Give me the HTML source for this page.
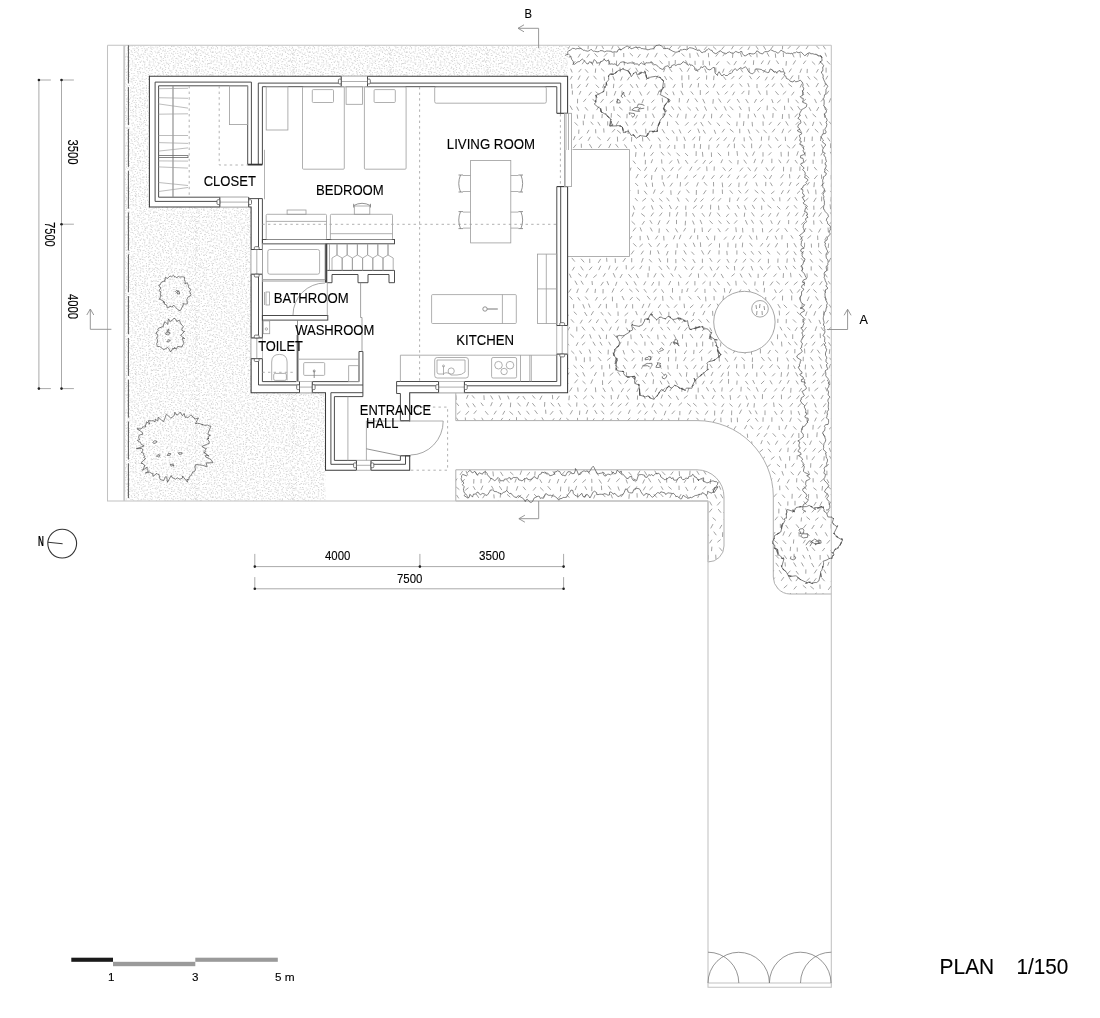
<!DOCTYPE html><html><head><meta charset="utf-8"><style>
html,body{margin:0;padding:0;background:#fff;width:1100px;height:1018px;overflow:hidden}
svg{display:block;filter:grayscale(1)}
.w{stroke:#3a3a3a;stroke-width:1.05;fill:none}
.w2{stroke:#424242;stroke-width:.95;fill:none}
.fu{stroke:#9c9c9c;stroke-width:.8;fill:none}
.fd{stroke:#777;stroke-width:.8;fill:none}
.dl{stroke:#a8a8a8;stroke-width:.9;stroke-dasharray:2.4 3.2;fill:none}
.site{stroke:#c2c2c2;stroke-width:1.05;fill:none}
.thin{stroke:#8a8a8a;stroke-width:.75;fill:none}
.edge{stroke:#ababab;stroke-width:.95;fill:none}
.tree{stroke:#474747;stroke-width:.68;fill:none;stroke-linejoin:round}
.sec{stroke:#8c8c8c;stroke-width:.9;fill:none}
.dim{stroke:#a0a0a0;stroke-width:.9;fill:none}
text{font-family:"Liberation Sans",sans-serif;fill:#000;stroke:#000;stroke-width:.12;opacity:.995}
</style></head><body>
<svg width="1100" height="1018" viewBox="0 0 1100 1018">
<defs>
<pattern id="stip" x="0" y="0" width="97" height="89" patternUnits="userSpaceOnUse"><path d="M0.3 1.5h1v1h-1zM3.5 0.8h1v1h-1zM5.6 0.1h1v1h-1zM6.9 0.2h1v1h-1zM10.9 0.3h1v1h-1zM12.7 2.1h1v1h-1zM14.4 2.2h1v1h-1zM17.7 0.7h1v1h-1zM18.3 0.7h1v1h-1zM20.7 1.3h1v1h-1zM23.3 1.2h1v1h-1zM24.9 0.5h1v1h-1zM28 0.7h1v1h-1zM30.3 0.7h1v1h-1zM33.1 0.5h1v1h-1zM34.9 2h1v1h-1zM36.6 2.2h1v1h-1zM39.2 1.7h1v1h-1zM41.6 0.1h1v1h-1zM44.5 1.3h1v1h-1zM45.7 1.6h1v1h-1zM48.6 1h1v1h-1zM51.6 1.1h1v1h-1zM51.9 1.6h1v1h-1zM56.2 1.8h1v1h-1zM57.1 1.5h1v1h-1zM59.5 0.4h1v1h-1zM60.9 1.7h1v1h-1zM63.6 0.9h1v1h-1zM65.4 1h1v1h-1zM69.5 1.8h1v1h-1zM70.4 0.9h1v1h-1zM74 2.2h1v1h-1zM74.6 0.5h1v1h-1zM77.6 1.3h1v1h-1zM78.8 0.9h1v1h-1zM82.3 2.1h1v1h-1zM84.4 1.4h1v1h-1zM85.6 2h1v1h-1zM89.7 1.8h1v1h-1zM90.9 0.2h1v1h-1zM92.4 0.2h1v1h-1zM94.9 0.8h1v1h-1zM96.8 0.3h1v1h-1zM0.8 2.3h1v1h-1zM3.6 2.6h1v1h-1zM5.3 3.1h1v1h-1zM8.7 4.5h1v1h-1zM10.1 2.4h1v1h-1zM12 2.8h1v1h-1zM13.9 2.3h1v1h-1zM16.9 2.6h1v1h-1zM18.1 3.4h1v1h-1zM22.2 3.8h1v1h-1zM23.3 2.6h1v1h-1zM25.9 4h1v1h-1zM27.5 4.1h1v1h-1zM31.2 4.1h1v1h-1zM33.2 2.8h1v1h-1zM34.6 2.3h1v1h-1zM36.6 2.8h1v1h-1zM40.4 3.3h1v1h-1zM42.7 4.4h1v1h-1zM43.2 2.8h1v1h-1zM45.5 3.7h1v1h-1zM49.1 3.3h1v1h-1zM51.3 2.4h1v1h-1zM53.8 4h1v1h-1zM55.1 2.7h1v1h-1zM57 4.1h1v1h-1zM59.4 3.2h1v1h-1zM62.4 2.6h1v1h-1zM63.3 4.3h1v1h-1zM65.6 4.1h1v1h-1zM69 3h1v1h-1zM70 2.3h1v1h-1zM73.5 3.4h1v1h-1zM75.2 4.2h1v1h-1zM77 2.8h1v1h-1zM79.3 3.6h1v1h-1zM81.9 2.5h1v1h-1zM84 3.3h1v1h-1zM87.5 3.2h1v1h-1zM88.9 3.4h1v1h-1zM90 3.2h1v1h-1zM92.3 4h1v1h-1zM95.6 3.9h1v1h-1zM0.5 3.4h1v1h-1zM1.8 4.7h1v1h-1zM2.8 5.1h1v1h-1zM5.6 5.8h1v1h-1zM8.8 5.5h1v1h-1zM10.1 5.7h1v1h-1zM12.3 5.7h1v1h-1zM15.6 6.1h1v1h-1zM17.9 5.1h1v1h-1zM20.1 6.4h1v1h-1zM20.5 5.5h1v1h-1zM23 4.7h1v1h-1zM26.5 6.5h1v1h-1zM28.6 6h1v1h-1zM31.2 6.7h1v1h-1zM33.6 5.4h1v1h-1zM36 6.4h1v1h-1zM37 5.7h1v1h-1zM38.7 5.2h1v1h-1zM40.5 5.7h1v1h-1zM42.8 5.2h1v1h-1zM46.2 4.6h1v1h-1zM49 6.7h1v1h-1zM50.1 4.6h1v1h-1zM52.4 4.8h1v1h-1zM56.1 6.3h1v1h-1zM56.6 6.6h1v1h-1zM60.1 4.7h1v1h-1zM62.3 5.5h1v1h-1zM65.1 5.9h1v1h-1zM65.4 6.4h1v1h-1zM69.4 5.5h1v1h-1zM71 6.6h1v1h-1zM72.3 5.7h1v1h-1zM74.5 4.9h1v1h-1zM77 5.2h1v1h-1zM80.5 5.2h1v1h-1zM81.4 5.3h1v1h-1zM83.8 4.5h1v1h-1zM86.7 4.9h1v1h-1zM89.9 4.7h1v1h-1zM91 5.6h1v1h-1zM93.1 5.6h1v1h-1zM96.7 5.3h1v1h-1zM1.3 5.9h1v1h-1zM0.8 6.9h1v1h-1zM2.4 8.4h1v1h-1zM4.9 6.9h1v1h-1zM8.7 8.3h1v1h-1zM9.5 7.4h1v1h-1zM11.6 7.8h1v1h-1zM15.7 8.9h1v1h-1zM16.3 8.9h1v1h-1zM18.8 6.8h1v1h-1zM21.3 7.9h1v1h-1zM23.6 6.8h1v1h-1zM25 7.6h1v1h-1zM27.1 7.4h1v1h-1zM30.6 7.9h1v1h-1zM33 8.4h1v1h-1zM34.6 7.5h1v1h-1zM36.3 8.4h1v1h-1zM38.3 8.6h1v1h-1zM41.9 8.4h1v1h-1zM43.1 7.9h1v1h-1zM46.9 8.6h1v1h-1zM48.6 8.8h1v1h-1zM51.1 7.3h1v1h-1zM52 7.6h1v1h-1zM55.9 8h1v1h-1zM57.7 8.3h1v1h-1zM58.5 8.5h1v1h-1zM61.9 8h1v1h-1zM63.1 8.4h1v1h-1zM65.4 7.3h1v1h-1zM68 8.4h1v1h-1zM70.9 7.6h1v1h-1zM73.5 8.5h1v1h-1zM75.7 6.9h1v1h-1zM77.1 8.4h1v1h-1zM80 6.8h1v1h-1zM81.6 8.3h1v1h-1zM84.8 7.4h1v1h-1zM86.5 7.8h1v1h-1zM89.8 7.2h1v1h-1zM92.1 6.8h1v1h-1zM94.1 8.9h1v1h-1zM95.1 7.2h1v1h-1zM0.2 8.1h1v1h-1zM1.2 11.1h1v1h-1zM4.1 10.1h1v1h-1zM6.1 9.5h1v1h-1zM7.8 9.1h1v1h-1zM10.1 10h1v1h-1zM11.6 9.8h1v1h-1zM15.4 9h1v1h-1zM17.6 9.3h1v1h-1zM19.6 11h1v1h-1zM21.1 9.9h1v1h-1zM23.8 9.8h1v1h-1zM25.4 9.1h1v1h-1zM28.9 9.6h1v1h-1zM29.8 9.6h1v1h-1zM31.9 9.8h1v1h-1zM35.7 10.8h1v1h-1zM38.1 11.1h1v1h-1zM39.9 9.1h1v1h-1zM41.5 10.7h1v1h-1zM43.4 9.1h1v1h-1zM45.3 10.1h1v1h-1zM47.9 10.7h1v1h-1zM50.1 10.5h1v1h-1zM53 9.9h1v1h-1zM54.4 9.5h1v1h-1zM57.4 9.5h1v1h-1zM60.7 10h1v1h-1zM61.2 9.2h1v1h-1zM63.2 9.5h1v1h-1zM66.5 11h1v1h-1zM68.4 9.9h1v1h-1zM70.6 9.8h1v1h-1zM72.6 11.2h1v1h-1zM75.4 10.4h1v1h-1zM77 9.6h1v1h-1zM79.6 10h1v1h-1zM82.9 11h1v1h-1zM83.3 10.6h1v1h-1zM86.6 10.3h1v1h-1zM88.6 11.1h1v1h-1zM91.9 11.2h1v1h-1zM92.5 9.3h1v1h-1zM96 11.1h1v1h-1zM1.2 10.7h1v1h-1zM1.2 11.3h1v1h-1zM2.8 13.3h1v1h-1zM5.2 11.5h1v1h-1zM8.2 12.8h1v1h-1zM9.2 12.4h1v1h-1zM12.1 11.8h1v1h-1zM13.5 11.9h1v1h-1zM17.9 12.7h1v1h-1zM19.1 11.8h1v1h-1zM22.4 12.8h1v1h-1zM22.5 12.4h1v1h-1zM25.7 11.8h1v1h-1zM29.1 11.8h1v1h-1zM30 12.2h1v1h-1zM31.9 13h1v1h-1zM34.9 11.7h1v1h-1zM36.7 13.1h1v1h-1zM38.7 13h1v1h-1zM42.6 12.4h1v1h-1zM43.3 12.2h1v1h-1zM47.1 11.6h1v1h-1zM47.7 13.4h1v1h-1zM49.6 11.4h1v1h-1zM53.8 13.2h1v1h-1zM56.2 13.3h1v1h-1zM56.7 13.4h1v1h-1zM58.6 12.7h1v1h-1zM61.6 12h1v1h-1zM63 11.9h1v1h-1zM67.4 11.5h1v1h-1zM68 12.1h1v1h-1zM71.6 12.2h1v1h-1zM73.1 12.1h1v1h-1zM74.7 12.1h1v1h-1zM76.6 12.2h1v1h-1zM80.5 11.3h1v1h-1zM81.1 13.3h1v1h-1zM84.9 13.3h1v1h-1zM86.1 13.4h1v1h-1zM88.3 12.9h1v1h-1zM90.6 11.3h1v1h-1zM94.3 12.7h1v1h-1zM94.6 11.8h1v1h-1zM1.9 13.4h1v1h-1zM0.6 14.5h1v1h-1zM4.3 13.9h1v1h-1zM6.2 15.4h1v1h-1zM8.1 14.2h1v1h-1zM9.8 15.3h1v1h-1zM11.7 15.2h1v1h-1zM13.6 13.6h1v1h-1zM16.5 15.7h1v1h-1zM20.2 14.1h1v1h-1zM20.5 14.6h1v1h-1zM23.5 14h1v1h-1zM26.1 15h1v1h-1zM28.9 15h1v1h-1zM31.1 14.2h1v1h-1zM32.3 15.2h1v1h-1zM34.3 14.1h1v1h-1zM38 14.8h1v1h-1zM39.1 15.7h1v1h-1zM41 15.3h1v1h-1zM45 13.7h1v1h-1zM46.8 15.4h1v1h-1zM47.3 14.2h1v1h-1zM49.9 15.7h1v1h-1zM53.8 14.3h1v1h-1zM55 14.1h1v1h-1zM58.4 13.7h1v1h-1zM59.9 14h1v1h-1zM61.1 14h1v1h-1zM64.3 15h1v1h-1zM65.3 14.2h1v1h-1zM67.9 14.2h1v1h-1zM71.5 14.7h1v1h-1zM72.2 14.4h1v1h-1zM75.7 13.7h1v1h-1zM78.1 14.4h1v1h-1zM79.4 15.6h1v1h-1zM82.3 14.3h1v1h-1zM85.2 15.7h1v1h-1zM85.9 15.1h1v1h-1zM87.8 15.5h1v1h-1zM91.8 14.4h1v1h-1zM93.3 13.9h1v1h-1zM95.7 14.9h1v1h-1zM97 14.9h1v1h-1zM1.1 16.1h1v1h-1zM3.4 17.8h1v1h-1zM5.6 17.6h1v1h-1zM7.2 16h1v1h-1zM11.2 16.8h1v1h-1zM13.3 16.6h1v1h-1zM14.9 17.6h1v1h-1zM17.5 16.2h1v1h-1zM19.9 17.6h1v1h-1zM20.7 16.6h1v1h-1zM23.4 16h1v1h-1zM26.4 17.8h1v1h-1zM28.3 17.5h1v1h-1zM31.1 16h1v1h-1zM32.7 17.2h1v1h-1zM34.7 17.1h1v1h-1zM37.5 16.8h1v1h-1zM38.3 17.1h1v1h-1zM41 17.5h1v1h-1zM43.8 16.2h1v1h-1zM45.2 16h1v1h-1zM47.5 16.7h1v1h-1zM49.6 17.2h1v1h-1zM53.4 17.5h1v1h-1zM54.1 16.9h1v1h-1zM58.4 16.1h1v1h-1zM60.7 17.4h1v1h-1zM61.2 18h1v1h-1zM65.2 17.8h1v1h-1zM67 17.8h1v1h-1zM68.3 17.5h1v1h-1zM71.8 16.4h1v1h-1zM72.3 16.9h1v1h-1zM74.7 16.3h1v1h-1zM77.2 15.8h1v1h-1zM79.1 17.9h1v1h-1zM83 16.1h1v1h-1zM83.5 16.9h1v1h-1zM86.3 17.7h1v1h-1zM89.1 17.7h1v1h-1zM92.2 17.2h1v1h-1zM94 16.3h1v1h-1zM95.8 16.6h1v1h-1zM0.7 16.1h1v1h-1zM0.1 19.8h1v1h-1zM3.7 20.2h1v1h-1zM6 18.7h1v1h-1zM6.8 18.3h1v1h-1zM10 19.2h1v1h-1zM11.5 18.5h1v1h-1zM13.6 18h1v1h-1zM16 18.8h1v1h-1zM19.3 19.3h1v1h-1zM21.7 19.1h1v1h-1zM24.6 18.5h1v1h-1zM25 19.4h1v1h-1zM28.8 18.9h1v1h-1zM29.3 19.5h1v1h-1zM32.3 19.5h1v1h-1zM35.9 19.7h1v1h-1zM38 18.1h1v1h-1zM39.2 18.5h1v1h-1zM42.3 18h1v1h-1zM44.9 18.3h1v1h-1zM46.4 19.1h1v1h-1zM49.1 18.4h1v1h-1zM50.2 18.1h1v1h-1zM53.5 19.6h1v1h-1zM55.9 19.7h1v1h-1zM57.9 19h1v1h-1zM58.7 18.5h1v1h-1zM61.5 19.7h1v1h-1zM64.9 19.6h1v1h-1zM66.5 19h1v1h-1zM68.7 18.6h1v1h-1zM71.9 18.5h1v1h-1zM72 18.6h1v1h-1zM75.9 20.1h1v1h-1zM77.2 20h1v1h-1zM79.3 20h1v1h-1zM82.6 19.5h1v1h-1zM84.3 19.9h1v1h-1zM87.4 19h1v1h-1zM89 18.7h1v1h-1zM91.4 18.2h1v1h-1zM92.6 18.1h1v1h-1zM96.6 18.8h1v1h-1zM96.8 18.1h1v1h-1zM1.4 21.8h1v1h-1zM2.4 21.6h1v1h-1zM6.3 22.1h1v1h-1zM6.9 22.2h1v1h-1zM11.1 20.5h1v1h-1zM11.5 20.3h1v1h-1zM15.3 21.7h1v1h-1zM17.2 20.9h1v1h-1zM18.2 22h1v1h-1zM21 21.2h1v1h-1zM23.1 20.9h1v1h-1zM25.6 21h1v1h-1zM28.1 22.2h1v1h-1zM29.3 21.2h1v1h-1zM33.2 21h1v1h-1zM35 20.7h1v1h-1zM36.2 22.1h1v1h-1zM38.3 20.7h1v1h-1zM42.7 20.3h1v1h-1zM43.9 22h1v1h-1zM46.1 21h1v1h-1zM47.8 22.4h1v1h-1zM50 21.8h1v1h-1zM52 21.7h1v1h-1zM55.8 21.8h1v1h-1zM57.7 21.1h1v1h-1zM59.4 22.3h1v1h-1zM62.7 20.3h1v1h-1zM63.6 22.3h1v1h-1zM66.1 22.2h1v1h-1zM68.5 21.4h1v1h-1zM71.4 21.7h1v1h-1zM72.7 20.6h1v1h-1zM75.7 21.9h1v1h-1zM77.5 22h1v1h-1zM79 21.3h1v1h-1zM81.5 20.7h1v1h-1zM84.8 22.1h1v1h-1zM85.9 20.8h1v1h-1zM88.9 20.6h1v1h-1zM90.4 22.4h1v1h-1zM92.5 22.4h1v1h-1zM95.4 22.5h1v1h-1zM1.4 21.2h1v1h-1zM1.4 22.7h1v1h-1zM3.1 22.6h1v1h-1zM6.3 24.1h1v1h-1zM8.2 23.5h1v1h-1zM10.4 23.4h1v1h-1zM13.3 23.5h1v1h-1zM15.2 23.4h1v1h-1zM17.4 24.5h1v1h-1zM19.6 24.4h1v1h-1zM21.7 23.5h1v1h-1zM23.9 22.7h1v1h-1zM26.5 24.1h1v1h-1zM27.6 23.5h1v1h-1zM30.6 23.4h1v1h-1zM33.6 22.9h1v1h-1zM35.5 23.4h1v1h-1zM38.2 22.6h1v1h-1zM38.6 24.3h1v1h-1zM41.7 22.7h1v1h-1zM44 24.1h1v1h-1zM46.4 24.4h1v1h-1zM48.2 24.6h1v1h-1zM51 23.4h1v1h-1zM52 24.7h1v1h-1zM54.1 23.1h1v1h-1zM56.3 23.4h1v1h-1zM60.1 23.3h1v1h-1zM61.3 24.2h1v1h-1zM64.2 23h1v1h-1zM66.1 23h1v1h-1zM69.2 24.3h1v1h-1zM70.8 23.8h1v1h-1zM74.2 23.3h1v1h-1zM76.1 24.3h1v1h-1zM77.2 23.7h1v1h-1zM80.6 23.3h1v1h-1zM81.6 23.3h1v1h-1zM84.2 22.9h1v1h-1zM87.1 23.1h1v1h-1zM88.4 23.6h1v1h-1zM91.4 24h1v1h-1zM94.3 24.4h1v1h-1zM96.4 24.5h1v1h-1zM0.1 24.4h1v1h-1zM0 24.8h1v1h-1zM3.7 25.3h1v1h-1zM4.8 25.3h1v1h-1zM7.5 25.1h1v1h-1zM10.8 25.1h1v1h-1zM12.6 26.5h1v1h-1zM15.5 26.5h1v1h-1zM16.2 26.3h1v1h-1zM19.7 25.7h1v1h-1zM21.5 25.3h1v1h-1zM22.8 25.9h1v1h-1zM25.8 25.1h1v1h-1zM28.1 26h1v1h-1zM29.3 26.6h1v1h-1zM32.8 26.2h1v1h-1zM34.6 25.7h1v1h-1zM36.2 26.2h1v1h-1zM38.3 26.1h1v1h-1zM42.6 25.5h1v1h-1zM43.9 25.8h1v1h-1zM45.1 26.4h1v1h-1zM48 26.7h1v1h-1zM50.6 25.9h1v1h-1zM52.2 25.7h1v1h-1zM55.2 26.6h1v1h-1zM58.1 25.7h1v1h-1zM59.1 25.9h1v1h-1zM62.2 26.5h1v1h-1zM63.7 25.4h1v1h-1zM66.7 26.5h1v1h-1zM69.1 26.7h1v1h-1zM69.9 25.4h1v1h-1zM72.4 26.8h1v1h-1zM75.7 26.5h1v1h-1zM77.9 26.1h1v1h-1zM80.3 26.1h1v1h-1zM81.5 26.3h1v1h-1zM85 25h1v1h-1zM85.6 26.5h1v1h-1zM89.2 25.6h1v1h-1zM91.8 26h1v1h-1zM92.9 25.7h1v1h-1zM95.5 26.2h1v1h-1zM96.9 26h1v1h-1zM0.3 28.8h1v1h-1zM4.3 28h1v1h-1zM5.4 28.3h1v1h-1zM9 28.1h1v1h-1zM9.2 28.5h1v1h-1zM11.6 27h1v1h-1zM15 27.3h1v1h-1zM15.9 29h1v1h-1zM18 28.6h1v1h-1zM21.9 27.4h1v1h-1zM24.2 28.6h1v1h-1zM26.4 27.2h1v1h-1zM28.6 28h1v1h-1zM29.8 29.2h1v1h-1zM31.5 27h1v1h-1zM35.6 27.2h1v1h-1zM37.6 27.4h1v1h-1zM39.3 27.1h1v1h-1zM41.8 28h1v1h-1zM43.1 28.8h1v1h-1zM46.5 28.4h1v1h-1zM48.1 28.8h1v1h-1zM51.3 28.3h1v1h-1zM51.9 29.2h1v1h-1zM55.9 27.7h1v1h-1zM58.4 28.9h1v1h-1zM59.2 28h1v1h-1zM61.6 28.5h1v1h-1zM65 28.8h1v1h-1zM65.3 27.6h1v1h-1zM68.8 28.8h1v1h-1zM69.8 28.9h1v1h-1zM74 28.3h1v1h-1zM76.2 28.8h1v1h-1zM78.6 27.8h1v1h-1zM80 28.8h1v1h-1zM82.7 29.1h1v1h-1zM84.6 28.5h1v1h-1zM86 27.6h1v1h-1zM89.5 28h1v1h-1zM91.8 28.7h1v1h-1zM93.6 29h1v1h-1zM95.7 28.1h1v1h-1zM0.2 27.4h1v1h-1zM1.6 30.1h1v1h-1zM3.2 30.4h1v1h-1zM4.6 31.5h1v1h-1zM7 30.7h1v1h-1zM9.4 30.6h1v1h-1zM12.4 29.3h1v1h-1zM15.7 31.2h1v1h-1zM17 29.8h1v1h-1zM19 31.4h1v1h-1zM22.1 31.4h1v1h-1zM22.6 29.7h1v1h-1zM24.9 29.4h1v1h-1zM29 30.3h1v1h-1zM31.3 29.4h1v1h-1zM32.4 29.5h1v1h-1zM34.3 30.5h1v1h-1zM38.2 30.8h1v1h-1zM39.3 29.6h1v1h-1zM42.7 29.7h1v1h-1zM43.3 30h1v1h-1zM47 31.1h1v1h-1zM49 30.8h1v1h-1zM51.7 29.4h1v1h-1zM53.4 31.4h1v1h-1zM54.7 30.6h1v1h-1zM56.5 30h1v1h-1zM58.8 30.3h1v1h-1zM61.3 29.6h1v1h-1zM63 30.9h1v1h-1zM65.3 31.3h1v1h-1zM69.6 31.2h1v1h-1zM70.1 30.3h1v1h-1zM74.1 31.1h1v1h-1zM75.3 30h1v1h-1zM77.6 30.7h1v1h-1zM79.2 29.4h1v1h-1zM82.2 29.6h1v1h-1zM83.8 30.2h1v1h-1zM86.1 31.1h1v1h-1zM88.1 30.4h1v1h-1zM92 29.5h1v1h-1zM92.4 31.3h1v1h-1zM95 30.3h1v1h-1zM0.3 29.7h1v1h-1zM2.2 33.7h1v1h-1zM2.5 32.2h1v1h-1zM4.6 33.1h1v1h-1zM9 31.5h1v1h-1zM9.8 31.8h1v1h-1zM13.1 32.7h1v1h-1zM14.5 33.6h1v1h-1zM17 31.8h1v1h-1zM19.7 33.1h1v1h-1zM20.4 31.7h1v1h-1zM23.6 32.1h1v1h-1zM26.1 33.1h1v1h-1zM28.3 32h1v1h-1zM30.9 32.4h1v1h-1zM31.6 33.3h1v1h-1zM35.6 33.4h1v1h-1zM36 33.5h1v1h-1zM40.2 32.1h1v1h-1zM42.4 32.3h1v1h-1zM43.6 32.8h1v1h-1zM46.2 32.5h1v1h-1zM47.5 33.1h1v1h-1zM51.4 32.2h1v1h-1zM52.6 33.2h1v1h-1zM56 33.6h1v1h-1zM57.4 32.7h1v1h-1zM58.5 33.7h1v1h-1zM61.2 31.7h1v1h-1zM64.8 31.6h1v1h-1zM66.8 31.9h1v1h-1zM68.8 32.8h1v1h-1zM71.3 31.7h1v1h-1zM73.6 31.6h1v1h-1zM75.4 32.6h1v1h-1zM76.8 32.4h1v1h-1zM80.1 33.4h1v1h-1zM82.3 33.2h1v1h-1zM85.1 33.6h1v1h-1zM86.4 33.4h1v1h-1zM88.6 33.6h1v1h-1zM90.8 32h1v1h-1zM93.2 33.7h1v1h-1zM96.6 33.3h1v1h-1zM96.9 32.7h1v1h-1zM2.1 34.3h1v1h-1zM3.7 34.6h1v1h-1zM4.7 34.7h1v1h-1zM6.8 34.1h1v1h-1zM10.7 35.9h1v1h-1zM13.1 35.7h1v1h-1zM13.6 35.2h1v1h-1zM17.3 34.4h1v1h-1zM20.1 35.1h1v1h-1zM21.4 34.7h1v1h-1zM23.1 34.4h1v1h-1zM25 35.1h1v1h-1zM28.2 34.4h1v1h-1zM30.5 34.1h1v1h-1zM31.8 34.4h1v1h-1zM34.4 34.3h1v1h-1zM37.2 35.6h1v1h-1zM39.5 35.2h1v1h-1zM42.1 34.8h1v1h-1zM44.1 34.8h1v1h-1zM45.5 34.2h1v1h-1zM48.1 35.1h1v1h-1zM50.3 35.7h1v1h-1zM53 34.9h1v1h-1zM56.2 34.4h1v1h-1zM56.6 33.9h1v1h-1zM59.5 33.9h1v1h-1zM61.7 35.4h1v1h-1zM63.5 35.9h1v1h-1zM65.6 34.5h1v1h-1zM69 35.1h1v1h-1zM71.6 34.9h1v1h-1zM73.7 35.5h1v1h-1zM76 35.3h1v1h-1zM76.8 35.7h1v1h-1zM80.5 35.1h1v1h-1zM83.2 35h1v1h-1zM85 35.7h1v1h-1zM86.4 34.8h1v1h-1zM89.4 34.4h1v1h-1zM91.2 34.6h1v1h-1zM94 35.7h1v1h-1zM95.5 34.2h1v1h-1zM0.1 35h1v1h-1zM0.2 38.1h1v1h-1zM4.1 37.9h1v1h-1zM5 37h1v1h-1zM6.8 36.1h1v1h-1zM10.1 38.1h1v1h-1zM12.5 38.2h1v1h-1zM14.7 37.5h1v1h-1zM16.6 37.3h1v1h-1zM20.1 37.5h1v1h-1zM20.5 36.8h1v1h-1zM23.8 37.3h1v1h-1zM26.9 37.1h1v1h-1zM28.4 38.2h1v1h-1zM30.4 37.8h1v1h-1zM32.2 38.2h1v1h-1zM34.9 36.2h1v1h-1zM37.6 37.8h1v1h-1zM40.2 36.9h1v1h-1zM41.2 37.2h1v1h-1zM43.2 36.4h1v1h-1zM46.4 36.8h1v1h-1zM48.7 36.1h1v1h-1zM51.3 36.7h1v1h-1zM51.8 36.7h1v1h-1zM55.3 37.5h1v1h-1zM57.4 37.2h1v1h-1zM60 37.2h1v1h-1zM62 36.9h1v1h-1zM63.4 37.7h1v1h-1zM65.5 36.4h1v1h-1zM69.4 37.4h1v1h-1zM69.9 36h1v1h-1zM72.7 37.6h1v1h-1zM74.6 36.6h1v1h-1zM78.5 37.3h1v1h-1zM79.8 36.9h1v1h-1zM83 37.3h1v1h-1zM84.2 37.4h1v1h-1zM85.6 38.1h1v1h-1zM88.5 38h1v1h-1zM90.7 37.4h1v1h-1zM93.4 38.1h1v1h-1zM95.4 37.6h1v1h-1zM0.4 38h1v1h-1zM1.8 38.8h1v1h-1zM3.1 38.7h1v1h-1zM5.2 39.5h1v1h-1zM8 39.1h1v1h-1zM9.1 38.5h1v1h-1zM12 38.8h1v1h-1zM14.1 38.8h1v1h-1zM17.2 39h1v1h-1zM19.6 38.5h1v1h-1zM22.1 38.5h1v1h-1zM24.4 40.1h1v1h-1zM25.5 39.9h1v1h-1zM29.2 38.7h1v1h-1zM30.4 38.8h1v1h-1zM31.8 39.8h1v1h-1zM35.8 39.6h1v1h-1zM36.6 39.6h1v1h-1zM40.2 38.5h1v1h-1zM41.7 38.9h1v1h-1zM43.6 39.7h1v1h-1zM45.7 39.1h1v1h-1zM47.6 40.2h1v1h-1zM51 38.5h1v1h-1zM52.6 39.4h1v1h-1zM54.1 39h1v1h-1zM56.5 39.9h1v1h-1zM59.4 40.3h1v1h-1zM62.7 40.2h1v1h-1zM63.6 38.3h1v1h-1zM66.7 39h1v1h-1zM69 39.8h1v1h-1zM71.7 39h1v1h-1zM72.4 38.5h1v1h-1zM75.9 39.9h1v1h-1zM76.6 38.6h1v1h-1zM79.4 39.1h1v1h-1zM81.7 39.7h1v1h-1zM85.1 39.5h1v1h-1zM86.1 39.2h1v1h-1zM88.5 38.3h1v1h-1zM91.7 38.9h1v1h-1zM94.2 39.6h1v1h-1zM95.1 38.5h1v1h-1zM0.2 40.3h1v1h-1zM0.2 42.1h1v1h-1zM3.9 42.4h1v1h-1zM4.7 42.6h1v1h-1zM8.8 42.1h1v1h-1zM10.9 41.9h1v1h-1zM11.4 42.1h1v1h-1zM14.7 42.6h1v1h-1zM17.5 40.6h1v1h-1zM19.8 41.1h1v1h-1zM22.4 41.9h1v1h-1zM23.1 40.6h1v1h-1zM25.7 41h1v1h-1zM27.3 42.1h1v1h-1zM29.8 41h1v1h-1zM32.5 42.6h1v1h-1zM34.4 42.5h1v1h-1zM37.3 41.3h1v1h-1zM39.5 42.2h1v1h-1zM42 41.8h1v1h-1zM44.5 42.4h1v1h-1zM45.7 41.3h1v1h-1zM47.4 41.1h1v1h-1zM51.1 41.5h1v1h-1zM52.5 41.6h1v1h-1zM54.4 40.7h1v1h-1zM58.5 42.2h1v1h-1zM60.1 42.7h1v1h-1zM61 41.6h1v1h-1zM63.4 41.7h1v1h-1zM67.3 42h1v1h-1zM69.6 42h1v1h-1zM70.3 40.8h1v1h-1zM73.7 42.4h1v1h-1zM74.7 41.9h1v1h-1zM78.6 40.9h1v1h-1zM80.6 42.2h1v1h-1zM81.4 42.4h1v1h-1zM84.1 41.7h1v1h-1zM87.4 41h1v1h-1zM89 41.9h1v1h-1zM91.6 42.5h1v1h-1zM93.4 41.6h1v1h-1zM95.2 41.8h1v1h-1zM1.3 40.9h1v1h-1zM2.2 43h1v1h-1zM3.2 43.2h1v1h-1zM4.5 44.6h1v1h-1zM8.5 43.7h1v1h-1zM10.5 43.9h1v1h-1zM12 43.7h1v1h-1zM15.4 44.8h1v1h-1zM16.4 43.7h1v1h-1zM18.8 43.2h1v1h-1zM21 43.8h1v1h-1zM24.5 44.7h1v1h-1zM26.9 44.1h1v1h-1zM27.1 44.3h1v1h-1zM29.9 44h1v1h-1zM32.6 44.2h1v1h-1zM34.5 44.7h1v1h-1zM36.4 44.3h1v1h-1zM38.4 44.2h1v1h-1zM41.8 43.7h1v1h-1zM44 43.6h1v1h-1zM45.4 44.8h1v1h-1zM47.5 44.7h1v1h-1zM49.7 43.9h1v1h-1zM52.9 44h1v1h-1zM55.3 43h1v1h-1zM57.6 42.9h1v1h-1zM58.7 43.7h1v1h-1zM62 44.4h1v1h-1zM63.3 45h1v1h-1zM65.5 44.6h1v1h-1zM67.9 44.9h1v1h-1zM71.5 43.1h1v1h-1zM72.1 43.3h1v1h-1zM74.3 44.1h1v1h-1zM77.2 44.3h1v1h-1zM80.7 44.1h1v1h-1zM82.3 44.8h1v1h-1zM83.6 44.4h1v1h-1zM87.2 44.3h1v1h-1zM88 43.6h1v1h-1zM92.1 44.4h1v1h-1zM93.6 43h1v1h-1zM96.3 43h1v1h-1zM1.3 43.3h1v1h-1zM1 46.9h1v1h-1zM2.5 45h1v1h-1zM6.3 45.4h1v1h-1zM7.4 46.5h1v1h-1zM9.3 47h1v1h-1zM12.8 46.8h1v1h-1zM13.5 45.8h1v1h-1zM16.9 47h1v1h-1zM18.1 45.4h1v1h-1zM21.8 45.9h1v1h-1zM22.9 46.9h1v1h-1zM26.7 46.4h1v1h-1zM27.7 45.5h1v1h-1zM30.6 45.1h1v1h-1zM32.3 46.1h1v1h-1zM34.6 45.8h1v1h-1zM37.3 45.8h1v1h-1zM39.3 47.2h1v1h-1zM40.8 46.5h1v1h-1zM43.4 46.1h1v1h-1zM46.3 46.2h1v1h-1zM49.5 45.1h1v1h-1zM51.2 47h1v1h-1zM53.2 46.4h1v1h-1zM54.6 46.8h1v1h-1zM58.4 46.5h1v1h-1zM60.2 46.7h1v1h-1zM62.2 45.8h1v1h-1zM63.9 45.1h1v1h-1zM66 47.2h1v1h-1zM68.3 45.5h1v1h-1zM70.5 45.3h1v1h-1zM74 46h1v1h-1zM75.5 45.7h1v1h-1zM76.6 45.7h1v1h-1zM80.4 46.2h1v1h-1zM81.8 47.1h1v1h-1zM83.4 45.4h1v1h-1zM87.7 45.8h1v1h-1zM88.7 47h1v1h-1zM91.1 47h1v1h-1zM92.8 45.1h1v1h-1zM95.1 46.6h1v1h-1zM0.6 45.5h1v1h-1zM1.9 48.7h1v1h-1zM3.9 49.4h1v1h-1zM4.7 49.1h1v1h-1zM7.5 47.6h1v1h-1zM10.2 49.2h1v1h-1zM13.3 47.7h1v1h-1zM15.2 48.7h1v1h-1zM17.3 48h1v1h-1zM18.9 47.4h1v1h-1zM21 48.4h1v1h-1zM23.1 48.3h1v1h-1zM26.8 48.5h1v1h-1zM27.1 48.6h1v1h-1zM30 47.5h1v1h-1zM31.8 49h1v1h-1zM35.6 48.2h1v1h-1zM37.3 48.5h1v1h-1zM39.6 48h1v1h-1zM41.1 48.9h1v1h-1zM44.5 47.9h1v1h-1zM47.2 48.3h1v1h-1zM48.4 49.4h1v1h-1zM49.5 48.3h1v1h-1zM53.5 48.1h1v1h-1zM54.5 49h1v1h-1zM56.3 47.6h1v1h-1zM59.6 48.5h1v1h-1zM62.9 48.1h1v1h-1zM63.4 48.9h1v1h-1zM65.6 47.3h1v1h-1zM68 49.5h1v1h-1zM71.2 48h1v1h-1zM73 48h1v1h-1zM74.5 48.9h1v1h-1zM78 48.2h1v1h-1zM78.9 48.5h1v1h-1zM83.1 49.4h1v1h-1zM83.8 47.8h1v1h-1zM86.5 47.8h1v1h-1zM89.5 48.7h1v1h-1zM92.2 47.7h1v1h-1zM92.6 49.2h1v1h-1zM95.1 48.9h1v1h-1zM0.4 48h1v1h-1zM2 49.9h1v1h-1zM3.6 50.5h1v1h-1zM6.5 50h1v1h-1zM7.6 51.3h1v1h-1zM9.4 51.4h1v1h-1zM11.9 49.6h1v1h-1zM15.7 49.5h1v1h-1zM16.1 51.2h1v1h-1zM18.4 51h1v1h-1zM21 51.6h1v1h-1zM24.5 51.7h1v1h-1zM25.3 51.3h1v1h-1zM27.1 50.6h1v1h-1zM30.2 49.7h1v1h-1zM33.7 50.2h1v1h-1zM34 50.6h1v1h-1zM37 49.9h1v1h-1zM38.6 51.2h1v1h-1zM40.8 50.3h1v1h-1zM44.8 50.3h1v1h-1zM47.2 51.5h1v1h-1zM47.9 49.9h1v1h-1zM49.7 49.6h1v1h-1zM52.7 50.8h1v1h-1zM54 51h1v1h-1zM57.5 50.7h1v1h-1zM60.7 51.5h1v1h-1zM61.6 50.2h1v1h-1zM65.2 50.4h1v1h-1zM66.2 49.8h1v1h-1zM67.5 50.9h1v1h-1zM70.3 50.9h1v1h-1zM72.5 49.9h1v1h-1zM76.1 51.3h1v1h-1zM76.6 51.1h1v1h-1zM80.2 50.7h1v1h-1zM83.2 49.5h1v1h-1zM85.2 50.6h1v1h-1zM87.7 50h1v1h-1zM89.4 50.4h1v1h-1zM90.9 50.7h1v1h-1zM93.8 50.2h1v1h-1zM95.7 50h1v1h-1zM0.3 51.5h1v1h-1zM1.6 52.9h1v1h-1zM2.7 52.1h1v1h-1zM5.7 52.9h1v1h-1zM8.6 52.3h1v1h-1zM10.8 52.8h1v1h-1zM13.1 53.8h1v1h-1zM13.6 52.6h1v1h-1zM17.6 52h1v1h-1zM18.6 52h1v1h-1zM22.1 52.9h1v1h-1zM22.7 52.6h1v1h-1zM26.3 52.8h1v1h-1zM28.8 53.5h1v1h-1zM30.8 52.6h1v1h-1zM32 52.6h1v1h-1zM34.6 51.8h1v1h-1zM37.3 51.9h1v1h-1zM39.9 52.4h1v1h-1zM41 53.6h1v1h-1zM44.2 53.7h1v1h-1zM46 53.5h1v1h-1zM48.1 51.8h1v1h-1zM50.3 53.4h1v1h-1zM52.7 53.2h1v1h-1zM54.8 52.6h1v1h-1zM58.3 52.2h1v1h-1zM60.1 52.6h1v1h-1zM61.5 51.9h1v1h-1zM63.9 52.9h1v1h-1zM67.3 53.5h1v1h-1zM68.8 52.8h1v1h-1zM71.6 52.7h1v1h-1zM74 52.7h1v1h-1zM75.4 53.6h1v1h-1zM78.2 52.7h1v1h-1zM80.3 53h1v1h-1zM82.7 52h1v1h-1zM83.4 53.6h1v1h-1zM85.7 53.4h1v1h-1zM87.9 53.3h1v1h-1zM91.1 51.9h1v1h-1zM93.2 53.1h1v1h-1zM96.3 53.7h1v1h-1zM0.5 52.9h1v1h-1zM2.2 54.6h1v1h-1zM3 54.6h1v1h-1zM5.8 55.1h1v1h-1zM6.9 54.7h1v1h-1zM10.8 55.9h1v1h-1zM11.7 54.1h1v1h-1zM14.3 55h1v1h-1zM17.1 54.8h1v1h-1zM18.5 56.1h1v1h-1zM20.4 54.7h1v1h-1zM23.4 55.3h1v1h-1zM25.4 55.8h1v1h-1zM28.6 55.8h1v1h-1zM30.3 56.1h1v1h-1zM33.5 54.1h1v1h-1zM35.2 54.1h1v1h-1zM36.2 55.3h1v1h-1zM40.3 55.3h1v1h-1zM41.6 55.5h1v1h-1zM43.4 54.5h1v1h-1zM45.3 56.1h1v1h-1zM47.5 54.2h1v1h-1zM51.6 54.9h1v1h-1zM52.3 56h1v1h-1zM54.3 54.1h1v1h-1zM56.3 55.9h1v1h-1zM59 55.3h1v1h-1zM62 54.3h1v1h-1zM63.7 55.9h1v1h-1zM67 56.2h1v1h-1zM67.6 54.9h1v1h-1zM70.3 55.2h1v1h-1zM73 55.6h1v1h-1zM75.8 54.3h1v1h-1zM76.8 56.1h1v1h-1zM80.9 55.2h1v1h-1zM81.8 55.7h1v1h-1zM85.3 54.2h1v1h-1zM87.4 55.3h1v1h-1zM87.9 54.3h1v1h-1zM92 55.9h1v1h-1zM94.3 54.1h1v1h-1zM96.7 54.8h1v1h-1zM1.2 54.1h1v1h-1zM1 56.8h1v1h-1zM2.7 58h1v1h-1zM4.7 57.5h1v1h-1zM8 58h1v1h-1zM10 56.3h1v1h-1zM11.5 57.7h1v1h-1zM14.8 57h1v1h-1zM17.2 56.6h1v1h-1zM20.1 57h1v1h-1zM22.2 57.3h1v1h-1zM22.7 58.2h1v1h-1zM25.9 57.5h1v1h-1zM28.1 56.6h1v1h-1zM30.4 57.1h1v1h-1zM32.4 56.7h1v1h-1zM34.3 58.2h1v1h-1zM38 56.3h1v1h-1zM39.3 58h1v1h-1zM42.1 56.8h1v1h-1zM43.1 56.8h1v1h-1zM45.9 57.4h1v1h-1zM49.3 56.4h1v1h-1zM50 57.6h1v1h-1zM53.3 56.4h1v1h-1zM55.3 58.5h1v1h-1zM57.6 57.8h1v1h-1zM59.3 58.1h1v1h-1zM62.8 56.3h1v1h-1zM63.9 57.2h1v1h-1zM65.8 57.9h1v1h-1zM67.8 57h1v1h-1zM70.2 56.7h1v1h-1zM74.2 58.5h1v1h-1zM75.3 57.4h1v1h-1zM78.5 57.9h1v1h-1zM79.2 57.7h1v1h-1zM82.8 56.5h1v1h-1zM84 56.6h1v1h-1zM87 57.9h1v1h-1zM89.6 58.4h1v1h-1zM91.7 58.1h1v1h-1zM93.6 57.2h1v1h-1zM96.3 58.2h1v1h-1zM1.9 57.4h1v1h-1zM0.3 60.7h1v1h-1zM2.8 60.4h1v1h-1zM4.9 59.5h1v1h-1zM7.9 60.5h1v1h-1zM10.6 59.4h1v1h-1zM13 60h1v1h-1zM15.4 59.4h1v1h-1zM17.2 60.4h1v1h-1zM19.3 60.4h1v1h-1zM20.3 59.6h1v1h-1zM22.7 60.3h1v1h-1zM26.1 59.5h1v1h-1zM27.5 59.3h1v1h-1zM30.6 59.2h1v1h-1zM32.1 60.1h1v1h-1zM35.2 60.3h1v1h-1zM37.5 58.6h1v1h-1zM38.7 59.1h1v1h-1zM41.3 59h1v1h-1zM44.1 60.5h1v1h-1zM46.1 60.7h1v1h-1zM49.5 58.9h1v1h-1zM49.9 59.7h1v1h-1zM52.1 60.6h1v1h-1zM55.8 59.1h1v1h-1zM56.5 59.7h1v1h-1zM59.7 59.3h1v1h-1zM62.8 60h1v1h-1zM64.4 59.5h1v1h-1zM66.1 60h1v1h-1zM68.3 59.7h1v1h-1zM71.8 59.6h1v1h-1zM74.2 58.6h1v1h-1zM75.8 59.8h1v1h-1zM78.2 60.5h1v1h-1zM80.4 58.6h1v1h-1zM81.3 60.6h1v1h-1zM83.6 59.8h1v1h-1zM85.6 59.4h1v1h-1zM89.2 59.1h1v1h-1zM90.7 59.7h1v1h-1zM94.5 60h1v1h-1zM96 59.4h1v1h-1zM1.3 60.1h1v1h-1zM0.4 62h1v1h-1zM4 61.5h1v1h-1zM5.7 62.7h1v1h-1zM8.4 61.1h1v1h-1zM9.1 61.4h1v1h-1zM13.4 62.9h1v1h-1zM14.2 62.9h1v1h-1zM16.5 61.7h1v1h-1zM18.6 61.6h1v1h-1zM22.4 61.4h1v1h-1zM24.5 61.8h1v1h-1zM26.2 62.5h1v1h-1zM27.3 62.5h1v1h-1zM30.5 62.3h1v1h-1zM32.1 61.6h1v1h-1zM34.9 61.4h1v1h-1zM36.6 62.5h1v1h-1zM40.1 62h1v1h-1zM42.6 61.3h1v1h-1zM42.9 62h1v1h-1zM46.5 61.7h1v1h-1zM47.5 61.4h1v1h-1zM51.7 62.2h1v1h-1zM53.5 61.6h1v1h-1zM55.7 61.5h1v1h-1zM58.1 61.5h1v1h-1zM60.5 61.9h1v1h-1zM62.3 62.8h1v1h-1zM63.8 60.9h1v1h-1zM66.4 62.7h1v1h-1zM68.8 61.7h1v1h-1zM70.4 62.7h1v1h-1zM73.9 61.1h1v1h-1zM75.9 61.9h1v1h-1zM78.5 62.4h1v1h-1zM80.2 62.7h1v1h-1zM82.6 62.3h1v1h-1zM83.9 60.9h1v1h-1zM87.4 61.4h1v1h-1zM88.3 61h1v1h-1zM92.2 62.6h1v1h-1zM93.8 60.9h1v1h-1zM95.2 60.8h1v1h-1zM0.1 61.4h1v1h-1zM1 64.2h1v1h-1zM2.3 64.9h1v1h-1zM5 64.4h1v1h-1zM7.5 64.3h1v1h-1zM10.8 63.5h1v1h-1zM13.1 64.2h1v1h-1zM15.3 63.1h1v1h-1zM16.7 63.1h1v1h-1zM19.6 64.3h1v1h-1zM21.4 64.3h1v1h-1zM24.5 65.2h1v1h-1zM26.9 63.7h1v1h-1zM27.2 64.1h1v1h-1zM30.3 64.5h1v1h-1zM32.5 63.8h1v1h-1zM34.7 63.6h1v1h-1zM37.7 64.2h1v1h-1zM38.7 64.6h1v1h-1zM41.1 64.3h1v1h-1zM44.9 64.7h1v1h-1zM47.1 64.6h1v1h-1zM47.4 63.5h1v1h-1zM51.4 64.6h1v1h-1zM52.3 63.8h1v1h-1zM55.4 65.2h1v1h-1zM56.3 63.4h1v1h-1zM60.5 64.8h1v1h-1zM61 63.2h1v1h-1zM64.7 64.1h1v1h-1zM67.3 64.8h1v1h-1zM69.3 63.3h1v1h-1zM71 64.1h1v1h-1zM72.6 63h1v1h-1zM75.8 65.1h1v1h-1zM77.5 64.6h1v1h-1zM80.6 64.9h1v1h-1zM81 63.5h1v1h-1zM84.1 63h1v1h-1zM87.3 64h1v1h-1zM89.8 64.2h1v1h-1zM90.7 64.4h1v1h-1zM93.3 64.4h1v1h-1zM95 65h1v1h-1zM97 64.3h1v1h-1zM0.4 66.3h1v1h-1zM3.7 66.8h1v1h-1zM4.7 66.9h1v1h-1zM7.8 66.2h1v1h-1zM10.6 65.8h1v1h-1zM12.8 66.3h1v1h-1zM15.5 66.6h1v1h-1zM16.3 67.5h1v1h-1zM18.9 67h1v1h-1zM21.7 66.9h1v1h-1zM22.7 67.4h1v1h-1zM24.8 65.4h1v1h-1zM29.1 65.7h1v1h-1zM31.3 66.7h1v1h-1zM32.1 65.6h1v1h-1zM35.5 65.5h1v1h-1zM37.6 65.7h1v1h-1zM38.6 66.4h1v1h-1zM42.3 67.3h1v1h-1zM42.8 67.2h1v1h-1zM46.8 66.4h1v1h-1zM48.6 67h1v1h-1zM49.6 66.5h1v1h-1zM52.6 65.3h1v1h-1zM54.1 67.1h1v1h-1zM57.3 65.5h1v1h-1zM59 66.2h1v1h-1zM62.9 66.5h1v1h-1zM63.2 66.9h1v1h-1zM67.2 65.5h1v1h-1zM68.2 67h1v1h-1zM71.1 67.5h1v1h-1zM72 65.4h1v1h-1zM75.8 66.6h1v1h-1zM77.5 66.2h1v1h-1zM80.2 67.3h1v1h-1zM82.8 67.3h1v1h-1zM84.9 65.3h1v1h-1zM87.4 66.2h1v1h-1zM88.2 67.4h1v1h-1zM91.6 65.8h1v1h-1zM93 66h1v1h-1zM95.5 67.5h1v1h-1zM1.8 67h1v1h-1zM2.2 69.2h1v1h-1zM2.8 68.4h1v1h-1zM5 69.5h1v1h-1zM7.5 69.2h1v1h-1zM11 69.3h1v1h-1zM11.5 69.4h1v1h-1zM14.9 68.3h1v1h-1zM17.9 67.9h1v1h-1zM19.5 68.7h1v1h-1zM21.2 69.6h1v1h-1zM24.7 67.7h1v1h-1zM25.4 69.5h1v1h-1zM27.6 69.1h1v1h-1zM29.6 68.5h1v1h-1zM33.1 69.2h1v1h-1zM34.3 68.1h1v1h-1zM37.6 68h1v1h-1zM40.4 68.9h1v1h-1zM42 68.8h1v1h-1zM43.4 67.6h1v1h-1zM45 68.3h1v1h-1zM47.5 68.6h1v1h-1zM51 68.1h1v1h-1zM52.2 67.7h1v1h-1zM54.9 69.1h1v1h-1zM57.9 67.7h1v1h-1zM59.3 69.4h1v1h-1zM62.6 68h1v1h-1zM64.8 69h1v1h-1zM65.3 67.9h1v1h-1zM67.9 69h1v1h-1zM71.2 67.9h1v1h-1zM72.2 69.7h1v1h-1zM75.7 68.8h1v1h-1zM76.6 67.5h1v1h-1zM79 69.7h1v1h-1zM82.6 67.8h1v1h-1zM83.8 68.3h1v1h-1zM85.8 68.1h1v1h-1zM88.4 68.4h1v1h-1zM90.5 67.9h1v1h-1zM93.1 68.3h1v1h-1zM95.6 69.5h1v1h-1zM1.2 69.4h1v1h-1zM0.1 70.7h1v1h-1zM3.3 71.4h1v1h-1zM4.8 70.8h1v1h-1zM7.3 70.7h1v1h-1zM9.2 70.6h1v1h-1zM13.4 71h1v1h-1zM14 71.4h1v1h-1zM17.7 71.9h1v1h-1zM18.2 71.9h1v1h-1zM20.8 70.1h1v1h-1zM23 69.9h1v1h-1zM26.8 70.8h1v1h-1zM27.2 70.8h1v1h-1zM29.7 71.2h1v1h-1zM31.8 72h1v1h-1zM34.2 69.8h1v1h-1zM37.2 69.8h1v1h-1zM39.9 71h1v1h-1zM41.6 71.1h1v1h-1zM43.1 71.6h1v1h-1zM46.7 71.7h1v1h-1zM49.3 70.2h1v1h-1zM50.8 71.8h1v1h-1zM52.2 69.8h1v1h-1zM54.3 70.2h1v1h-1zM57.6 71.9h1v1h-1zM60 69.8h1v1h-1zM61.3 70.8h1v1h-1zM65.1 70.9h1v1h-1zM66.6 70.2h1v1h-1zM68 72h1v1h-1zM70.3 71.9h1v1h-1zM72.9 70.5h1v1h-1zM74.3 70.6h1v1h-1zM78.4 69.8h1v1h-1zM79.3 70.8h1v1h-1zM82.6 70.1h1v1h-1zM83.5 71.9h1v1h-1zM85.8 70.9h1v1h-1zM89.7 69.9h1v1h-1zM90.4 71.1h1v1h-1zM93.2 71.7h1v1h-1zM96.4 71.9h1v1h-1zM1.9 70.7h1v1h-1zM2.1 72.2h1v1h-1zM2.9 72.7h1v1h-1zM6.5 72.9h1v1h-1zM8.7 73.8h1v1h-1zM10.2 72.3h1v1h-1zM12.7 73.3h1v1h-1zM15.5 74.2h1v1h-1zM15.9 74h1v1h-1zM18.4 73.6h1v1h-1zM20.8 72.8h1v1h-1zM24 72.2h1v1h-1zM26.2 73.1h1v1h-1zM28.8 72h1v1h-1zM30.8 73.6h1v1h-1zM31.9 74.2h1v1h-1zM34.3 73h1v1h-1zM36.5 72.9h1v1h-1zM40.3 72.5h1v1h-1zM41.3 73.5h1v1h-1zM43 72.5h1v1h-1zM45.6 72.1h1v1h-1zM48.2 72.9h1v1h-1zM50.8 74.1h1v1h-1zM52.6 73.6h1v1h-1zM54.4 73.1h1v1h-1zM57.8 72.4h1v1h-1zM60.7 73.7h1v1h-1zM62.2 73.4h1v1h-1zM65.2 72.4h1v1h-1zM65.9 72.6h1v1h-1zM68.9 73.9h1v1h-1zM71.1 72.4h1v1h-1zM73.2 73.6h1v1h-1zM74.4 72h1v1h-1zM78.1 72h1v1h-1zM79.3 73.6h1v1h-1zM81 72.3h1v1h-1zM85.4 72.3h1v1h-1zM86.7 72.7h1v1h-1zM88.8 72.6h1v1h-1zM90.2 72.4h1v1h-1zM93.7 73.6h1v1h-1zM96.3 73.6h1v1h-1zM0.9 72.4h1v1h-1zM1.3 74.4h1v1h-1zM3.8 75.1h1v1h-1zM5 76h1v1h-1zM7 75.6h1v1h-1zM10.6 76.1h1v1h-1zM11.8 74.5h1v1h-1zM14.8 74.6h1v1h-1zM17.1 74.5h1v1h-1zM18.5 74.8h1v1h-1zM21.4 75.9h1v1h-1zM24.1 74.7h1v1h-1zM26.2 75.8h1v1h-1zM29 74.7h1v1h-1zM30.7 74.8h1v1h-1zM32 76h1v1h-1zM35.4 76.4h1v1h-1zM36.7 75h1v1h-1zM38.4 75.6h1v1h-1zM40.6 75.4h1v1h-1zM44.8 76.2h1v1h-1zM45.4 74.5h1v1h-1zM48.4 75.1h1v1h-1zM50.7 76h1v1h-1zM51.9 75.1h1v1h-1zM54.6 75.8h1v1h-1zM57 75.3h1v1h-1zM60.2 75.1h1v1h-1zM62.8 76.4h1v1h-1zM63.2 75.3h1v1h-1zM65.9 74.3h1v1h-1zM69.5 74.5h1v1h-1zM71.1 74.9h1v1h-1zM73.7 76h1v1h-1zM74.4 75.1h1v1h-1zM78.7 74.4h1v1h-1zM80.5 74.6h1v1h-1zM81.2 74.6h1v1h-1zM85.1 74.6h1v1h-1zM87.2 75.2h1v1h-1zM88 74.8h1v1h-1zM90.3 74.8h1v1h-1zM94.3 76.3h1v1h-1zM96.7 75.6h1v1h-1zM0.8 75.9h1v1h-1zM0.3 76.9h1v1h-1zM2.5 78.3h1v1h-1zM5.1 77.1h1v1h-1zM9 76.8h1v1h-1zM9.7 76.9h1v1h-1zM12 76.9h1v1h-1zM15.3 78.4h1v1h-1zM15.8 78.2h1v1h-1zM20 78.6h1v1h-1zM22.2 78.3h1v1h-1zM23.3 77.3h1v1h-1zM25.6 76.7h1v1h-1zM29 77.4h1v1h-1zM31.2 78.2h1v1h-1zM33.6 78.3h1v1h-1zM35.4 78.2h1v1h-1zM36.6 78h1v1h-1zM40.1 76.8h1v1h-1zM41.3 78.3h1v1h-1zM44.6 78.4h1v1h-1zM45.3 78.6h1v1h-1zM48.8 78h1v1h-1zM51.5 77.7h1v1h-1zM52.5 78.3h1v1h-1zM56 77h1v1h-1zM56.8 76.7h1v1h-1zM58.6 78.3h1v1h-1zM60.9 76.7h1v1h-1zM63.4 77.5h1v1h-1zM67.1 78.6h1v1h-1zM68.9 78.5h1v1h-1zM71.8 78.2h1v1h-1zM74 77.8h1v1h-1zM75.6 78.4h1v1h-1zM77.6 77.4h1v1h-1zM80.2 77h1v1h-1zM81.8 78.7h1v1h-1zM83.5 78.6h1v1h-1zM86.8 77.5h1v1h-1zM88.7 76.7h1v1h-1zM91.8 78.3h1v1h-1zM92.8 78.2h1v1h-1zM95 78.5h1v1h-1zM0.7 77.4h1v1h-1zM2.1 79.2h1v1h-1zM3 80.4h1v1h-1zM5.7 79.9h1v1h-1zM7.1 80.9h1v1h-1zM10.3 80.5h1v1h-1zM13.3 80h1v1h-1zM15.5 79.6h1v1h-1zM16.2 78.8h1v1h-1zM20 80.8h1v1h-1zM21.4 80.8h1v1h-1zM22.8 80.2h1v1h-1zM25.7 80.1h1v1h-1zM27.6 79.7h1v1h-1zM30.3 79h1v1h-1zM32.3 80.4h1v1h-1zM34.3 79.3h1v1h-1zM36.4 80.1h1v1h-1zM38.7 80.1h1v1h-1zM42.2 80.4h1v1h-1zM43.4 80.6h1v1h-1zM45.1 80.9h1v1h-1zM47.4 78.9h1v1h-1zM51 79.1h1v1h-1zM53.2 81h1v1h-1zM55.7 79.3h1v1h-1zM56.6 79.7h1v1h-1zM59.2 79.1h1v1h-1zM60.9 79.2h1v1h-1zM64.1 79.2h1v1h-1zM66.2 80.9h1v1h-1zM69.6 79.8h1v1h-1zM71.1 79.1h1v1h-1zM72.2 80.3h1v1h-1zM75.2 79.5h1v1h-1zM77.3 80.3h1v1h-1zM79.1 80.7h1v1h-1zM81 80.7h1v1h-1zM84 80.2h1v1h-1zM86.4 79.7h1v1h-1zM89 80.2h1v1h-1zM92.1 79.1h1v1h-1zM94.2 80.5h1v1h-1zM96 79.5h1v1h-1zM1 79.7h1v1h-1zM0.3 83h1v1h-1zM2.3 81.7h1v1h-1zM5.6 81.8h1v1h-1zM7.5 82.2h1v1h-1zM10.4 82.1h1v1h-1zM12.1 82.4h1v1h-1zM14.1 81.8h1v1h-1zM16.6 83.1h1v1h-1zM18.6 81.7h1v1h-1zM20.6 82.6h1v1h-1zM22.9 81.1h1v1h-1zM25.1 81.5h1v1h-1zM27.6 82.7h1v1h-1zM31.3 83.1h1v1h-1zM33.6 81.2h1v1h-1zM34.7 81.4h1v1h-1zM37.9 81.9h1v1h-1zM40.2 82.7h1v1h-1zM42.7 81.1h1v1h-1zM43 81h1v1h-1zM46.4 81.3h1v1h-1zM47.7 82.4h1v1h-1zM51.7 81.8h1v1h-1zM52.7 81.9h1v1h-1zM54.5 83.2h1v1h-1zM57.8 81.4h1v1h-1zM58.8 81.8h1v1h-1zM60.9 82.2h1v1h-1zM63.1 82h1v1h-1zM66.5 82h1v1h-1zM68.9 81.8h1v1h-1zM71.9 82.9h1v1h-1zM73.3 81.3h1v1h-1zM75.1 82.6h1v1h-1zM78.3 82.8h1v1h-1zM78.8 82.8h1v1h-1zM82.5 82.3h1v1h-1zM84.2 83.2h1v1h-1zM87.6 82.4h1v1h-1zM88.6 81.6h1v1h-1zM91.8 82.8h1v1h-1zM94.5 82.5h1v1h-1zM96.2 81.6h1v1h-1zM0.1 82.9h1v1h-1zM0.6 85.3h1v1h-1zM4.3 85h1v1h-1zM6.2 84.5h1v1h-1zM8.1 84.2h1v1h-1zM9.2 85h1v1h-1zM11.9 83.5h1v1h-1zM14.5 84.9h1v1h-1zM17.4 84.7h1v1h-1zM19.1 84.9h1v1h-1zM21.7 83.9h1v1h-1zM24.6 85.4h1v1h-1zM25.7 84.5h1v1h-1zM28.7 84.3h1v1h-1zM30.2 85.4h1v1h-1zM31.8 84.9h1v1h-1zM35.3 83.4h1v1h-1zM37.2 84.9h1v1h-1zM39.7 84.1h1v1h-1zM42.3 83.3h1v1h-1zM42.9 85.2h1v1h-1zM45.1 84.3h1v1h-1zM48.9 84.9h1v1h-1zM51.6 83.7h1v1h-1zM53.6 83.5h1v1h-1zM55.1 84h1v1h-1zM58.3 84.3h1v1h-1zM59.1 85.3h1v1h-1zM62.8 84.6h1v1h-1zM64.7 84.7h1v1h-1zM67.2 84.2h1v1h-1zM69.6 85.1h1v1h-1zM71.4 83.8h1v1h-1zM73.9 85.4h1v1h-1zM74.6 84.8h1v1h-1zM77.4 83.6h1v1h-1zM79.8 84.4h1v1h-1zM81.8 84.5h1v1h-1zM84.6 83.6h1v1h-1zM86.3 85.4h1v1h-1zM88.1 84.6h1v1h-1zM90.9 84.5h1v1h-1zM92.3 83.7h1v1h-1zM95.1 84.7h1v1h-1zM1.9 84.8h1v1h-1zM2.1 86.9h1v1h-1zM4.2 87h1v1h-1zM5.9 86.2h1v1h-1zM7.3 87.7h1v1h-1zM9 86.7h1v1h-1zM12.4 85.8h1v1h-1zM15 87h1v1h-1zM18 87h1v1h-1zM18 85.6h1v1h-1zM22.4 86.2h1v1h-1zM22.5 86.4h1v1h-1zM26.1 87.4h1v1h-1zM27.5 85.9h1v1h-1zM29.5 87.6h1v1h-1zM33.5 86.7h1v1h-1zM35.9 86.4h1v1h-1zM36.2 87.4h1v1h-1zM38.5 87.2h1v1h-1zM40.8 86.3h1v1h-1zM44.9 87.7h1v1h-1zM46.4 87h1v1h-1zM48.9 86.7h1v1h-1zM51.5 86.1h1v1h-1zM52.1 85.8h1v1h-1zM55.8 85.9h1v1h-1zM57.5 86.8h1v1h-1zM59.7 85.5h1v1h-1zM61.7 86h1v1h-1zM63.5 87.4h1v1h-1zM65.5 86.6h1v1h-1zM68.3 87.2h1v1h-1zM71.3 87.4h1v1h-1zM73.1 87.6h1v1h-1zM74.7 85.7h1v1h-1zM77.2 85.7h1v1h-1zM79.7 86.2h1v1h-1zM83.1 86h1v1h-1zM83.9 86.2h1v1h-1zM87.1 86.5h1v1h-1zM87.9 85.8h1v1h-1zM91.5 85.9h1v1h-1zM92.4 86.6h1v1h-1zM94.7 87.2h1v1h-1zM0.9 85.9h1v1h-1zM1 0.2h1v1h-1zM4.3 87.8h1v1h-1zM5.4 88.2h1v1h-1zM8.3 1h1v1h-1zM9.6 0.3h1v1h-1zM12.2 0.3h1v1h-1zM13.9 87.9h1v1h-1zM18 0.8h1v1h-1zM19.1 88.8h1v1h-1zM21.8 88.9h1v1h-1zM23.2 0.9h1v1h-1zM25.8 88.1h1v1h-1zM27.3 0.3h1v1h-1zM30.6 0.9h1v1h-1zM33.1 0.6h1v1h-1zM34.5 87.9h1v1h-1zM37.6 88.5h1v1h-1zM39.1 0.4h1v1h-1zM42.7 88.7h1v1h-1zM43 0.4h1v1h-1zM46.4 88.1h1v1h-1zM48.9 88h1v1h-1zM51 87.8h1v1h-1zM52.5 0.7h1v1h-1zM54.7 0.8h1v1h-1zM58.2 0.1h1v1h-1zM59.9 0.9h1v1h-1zM61.2 88.9h1v1h-1zM63.8 88.6h1v1h-1zM66.6 88.3h1v1h-1zM68.6 88.9h1v1h-1zM71.2 88.2h1v1h-1zM72.6 0.5h1v1h-1zM76 88.9h1v1h-1zM78.6 88.9h1v1h-1zM79.4 88.7h1v1h-1zM82.8 88.8h1v1h-1zM83.7 88.8h1v1h-1zM86.2 88.6h1v1h-1zM89.4 88.2h1v1h-1zM91.8 0.2h1v1h-1zM93.7 0.3h1v1h-1zM94.6 88.6h1v1h-1zM1.9 88.9h1v1h-1z" fill="#d5d5d5"/></pattern>
<clipPath id="gclip"><path d="M567.6 45.5 L831.3 45.5 L831.3 594 L790 594 A17 17 0 0 1 773.3 577 L773.3 496 A76 76 0 0 0 697 420.6 L455.8 420.6 L455.8 392.7 L567.6 392.7 L567.6 256.5 L629.5 256.5 L629.5 149.5 L567.6 149.5 Z"/><path d="M455.8 469.8 L697 469.8 A27 27 0 0 1 724 497 L724 546 A16 16 0 0 1 708 562 L708 501 L455.8 501 Z"/></clipPath>
</defs>
<rect width="1100" height="1018" fill="#fff"/>
<path d="M124 45.5 L568 45.5 L568 76.3 L149.4 76.3 L149.4 206.9 L251.1 206.9 L251.1 392.7 L325.5 392.7 L325.5 501 L124 501Z" fill="url(#stip)"/>
<g clip-path="url(#gclip)"><path d="M456 38.6L458.4 42.3M464.9 38.2L464.9 42.5M471.8 37.6L472.2 42.4M483.7 38.3L481.1 41.5M488.9 38.3L491.4 42.3M499.1 37.6L499.5 41.9M504.5 38.7L506.9 42.1M513.2 37.9L515.7 42.1M523.2 37.5L523.5 41.6M531.6 37.4L531.7 41.6M538.4 38.3L539.9 42.1M548.7 38.6L551.1 42.4M557.9 37.5L558 42M566 37.8L568.7 41M573.1 38L575.1 41.7M583.4 37.9L581.9 41.8M592 37.6L592 42.1M598.2 38.5L601 41.4M608.2 37.8L610.3 42M619.8 38.2L616.8 42M625.4 38.8L629.1 41.9M633.8 38.1L633.4 42.9M642.9 37.6L640.5 41.1M652 37.8L651.7 42.3M660.3 38.1L656.7 41.3M666.8 37.9L668.7 41.7M676.2 38.5L678.9 41.8M686.8 37.8L686.7 42.6M692.1 38.2L694.2 41.6M705.4 38.1L702.2 41.1M708.3 38.6L711.4 42.2M721.7 37.5L718.7 41.3M726.6 38.6L730 41.9M736.2 37.3L736.4 41.5M744.1 37.5L746.2 41.5M756.1 38.3L752.7 41.1M763.3 37.8L760.8 41.1M770.6 38.4L772.8 42.4M779.4 37.6L779.6 41.9M787 38.6L787.1 42.7M797.5 37.8L794.6 40.9M807.1 38.1L803.5 41M810.1 37.7L813.5 41.1M819 38.9L821.5 42.2M829.2 38.5L829.3 42.6M838.5 37.9L835.7 41.6M448.8 46.4L450.8 50.1M461.9 46.4L459.3 49.6M468 45.5L470.2 49.8M477 45.8L474.7 49.5M485.3 46.3L482.3 50.2M494.5 45.4L492 48.8M499.6 46.5L502.1 50M509 46.1L511.3 49.5M520.2 46.4L517.3 50M528.8 45.6L525.2 48.8M535.3 45.5L537.2 49M542 46.1L545.1 49.5M553.7 45.2L554 49.5M563.8 45.4L560.6 48.7M569.7 46.3L567.4 49.7M578.1 45.9L581.4 49.2M588.3 45.1L588 49.2M597.3 45.3L595.7 49.4M601.6 45.3L603.6 49M613.5 45L611.5 49.3M617.8 46.2L620.5 50.2M631.2 45.2L628.2 48.9M635.8 46.3L638.5 49.5M645.5 45L646 49.1M654.3 45L653.9 49.5M663.5 45.3L665.6 49M672 45.8L668.8 49.4M680.7 45.6L678 48.9M687.2 45.1L687.1 49.6M694.6 45.2L696.9 49.3M706.8 46.5L704.1 49.9M713 46.5L716.3 49.6M724.2 46.3L721.5 49.7M733.6 45.7L731.4 49.3M742.6 46.7L739.7 49.6M749.8 46.4L747.9 49.9M756 46.1L758.3 49.5M763.5 46L765.7 49.8M773.4 45.6L770.9 49.1M782.7 45.3L782.4 49.4M790.7 45.8L787.9 48.8M799.5 46L796.4 49.6M808.6 45.2L806 49.1M815.9 45.3L819.2 48.9M823.2 45.8L825.5 49.3M834.6 46L831.8 49.8M449.5 52.8L452.7 56.4M459 53.1L460.5 57M470.5 53.3L468.4 56.9M478 52.8L478.1 57.4M485.8 54.4L488.8 57.1M497.6 52.7L494.9 56.6M503.1 53.5L505.7 56.5M511.9 53.1L511.9 57.7M520.3 53.1L517.7 56.7M527.3 54L529.2 57.7M538.1 53.1L539.5 57M544.3 53.4L547 57.2M553.6 53.2L553.7 57.2M564.4 53.4L561 56.5M568.6 54L571.5 57.2M580.4 53.8L578.1 57.5M589.4 53.9L586.8 57.6M594.5 53.4L597.6 56.9M607.3 53.1L604.1 56.5M614.1 52.3L614 56.9M623.7 53L623.8 57.1M629.8 53.1L633 56.2M640.4 54L637.8 57.5M648.5 53.4L646.4 57.5M657.3 52.9L654.8 57.2M664.5 54.3L667.1 57.5M675.5 52.8L672.4 56.4M681.6 53.4L684.6 56.4M689.8 53.3L690.1 57.9M696.9 52.7L698.8 56.7M708.4 53.1L708.6 57.3M718.3 53.3L715.7 56.6M725.4 52.8L722.7 56.2M732.9 53L732.5 57.8M740.3 52.7L741.9 57M748.9 53.5L751.3 56.9M756.8 53.3L757.1 57.4M766.9 52.5L769.1 56.6M775.3 53.4L775.7 57.8M783.3 52.5L783.5 57M792.4 53.5L794.1 57.3M800 53.3L800.4 57.6M809.1 53.1L807.1 56.8M816 53.6L819.3 56.9M825 52.7L826.5 56.6M835.8 53.4L835.5 57.5M453.3 61.1L456.1 64M465.4 61.2L465.1 65.3M470.9 60.6L474.2 63.6M479.7 60.2L480 64.7M487.4 61.1L490.2 64M499.3 59.7L499.5 64.6M506 60.2L505.5 64.9M514.5 61.7L518.1 65M523.8 60.7L525.7 65.2M532.6 60.4L532.6 64.9M540.6 60.2L538.2 64.3M550 60.7L550.2 65.1M560.1 61.5L557 65.1M566.5 60.1L566.9 64.9M575.3 61.2L572.4 64.7M584.9 60.2L582.1 64.2M590.8 61.4L593 65.4M600.9 61.1L599 65.6M609.8 60.9L608.4 64.7M616.6 60.6L616.4 65.4M624.1 61.1L624.4 65.3M632 61.3L634.8 65M643.1 61L645.3 65.4M650.7 61.5L653.4 65.4M659.6 60.6L662.6 64M669 61.1L669.1 65.8M675.3 60L675.2 64.5M685.5 60.3L687.6 64.1M695 60.8L695.1 64.9M703.1 60.4L703.1 65.2M709.3 61.2L709.6 65.4M719.1 61.5L716.1 65.1M727.2 61.4L729.9 64.5M736.5 61.1L733.9 65.1M746 60.8L743.7 64.2M753.7 60.3L753.4 64.9M763.4 60.5L761.1 64.1M769.9 60.4L767.9 64.6M776.4 60.5L778.7 64M786.4 61.1L786 65.7M795.6 60.4L793.1 64.5M805.8 60.6L803.3 63.9M811.9 61.5L815.2 64.7M821.2 60.9L818.7 64.4M826.8 60.9L830.1 64.5M839.7 61.1L837.5 64.5M450.9 68.7L448.3 72M459.3 68.5L457.2 72.3M470.8 68.3L468.3 72.5M477.6 68.9L474.4 72.3M487.6 69L485.2 72.3M494.2 68.8L491.7 72.9M502.5 68.1L504.2 72.6M512.2 68.9L509.7 72.9M516.7 68.7L519.9 72.2M524.8 69.3L528.4 72.2M536.9 68.2L536.4 73.1M545 68.4L542.2 72.1M554.8 68.7L552.4 72M559 68.4L561.2 72.5M570.6 68.7L572.2 72.5M581.3 68.9L578.6 72.2M585.2 69.4L588.1 72.8M595.7 68.5L595.3 72.8M601 68.5L604.3 71.5M612.5 68.4L612.7 72.5M619.9 67.5L620.3 72.2M630.5 68.3L627.3 71.3M635.7 67.8L638 71.8M645.3 68.8L648.6 71.4M653.1 68.4L656.8 71.5M665.2 67.7L663.5 72.1M669.3 68.3L672 71.9M679.7 67.9L682.2 71.7M689.6 67.7L687.2 71.7M695.6 68.1L698.1 72M704.6 68.6L706.4 72.9M715.8 67.5L715.9 72.2M724.1 68.7L722.5 72.7M732 69.3L729.1 72.3M740.3 68.4L742.8 72.3M749.1 67.9L749.2 72.3M756.6 68.8L758.9 72.5M765.7 69.3L763.3 72.6M772.1 69.3L774.6 72.7M782.5 68L784 71.8M791.4 68.6L789 72.3M801.6 68.7L799.9 72.8M807.3 68.9L807.1 73.1M818.4 69.1L816.4 72.6M826.1 67.7L826.1 72.6M833.3 68.4L831.4 72M449.2 76.6L452.3 79.6M460.2 76L460 80.9M467.8 76.4L471.2 79.8M476.3 75.6L476.1 79.8M486.4 76.1L483 79.1M493.7 76.3L496.5 79.3M504.4 76L501.7 79.2M513 75.6L510.4 79.1M520.7 76.6L518.4 80.5M527.9 75.7L530.4 79.2M536.6 76.1L533.7 79.8M542 76.3L545 79.7M553.2 75.9L556.7 79M562.5 75.1L562.2 79.8M572.3 76L570.2 79.5M580.2 75.6L578.1 79.8M588.7 76.4L586.2 80.5M593.6 75.8L596.5 79.3M604.1 76.6L604.5 80.7M612.9 76.2L614.5 80.4M622.3 76.6L620.7 80.6M629.7 76.8L627.3 80.3M637.3 75.9L639.5 79.3M648.9 76.6L646.1 79.9M658.2 75.4L655.8 79.2M664.5 76L666.7 80M669.5 76.9L672.6 79.7M681.9 75.4L681.9 80.3M688.8 75.1L688.8 79.7M699.7 77.1L696.8 80M706.7 75.4L706.5 79.6M714 75.7L713.6 80.1M723.4 76.5L726 79.9M734.3 76L731.3 79.2M742 75.6L738.9 79.1M749.4 75.8L751.7 79.2M759.8 76.1L756.8 79.4M767.3 76.8L765.2 80.4M774.1 76.4L771.8 79.8M784.2 76.1L781.4 79.6M793 75.5L790.1 79.5M798.8 75.1L798.7 79.5M807.6 76.1L810 79.5M813.8 76.7L817.4 79.9M827.8 75.8L825.8 79.5M833.2 76.9L836.1 79.9M451.4 84L453.7 88M459.8 84.3L463.5 87.5M466.7 83.7L470 86.7M477.5 84L479.1 88.4M485.5 83.7L482.5 87.3M491.6 83.2L494.1 87.3M501.2 83.5L501.4 88M512.7 83.6L512.5 88.2M517.5 83.4L519.1 87.6M528 83.8L530.4 87.2M537.7 84.1L534.2 87.4M545.8 83.2L545.6 87.8M551.9 83.8L553.4 87.7M562.3 83.5L560.1 87.2M571.6 83.9L571.9 88.7M580.4 84.3L577.3 88.1M588.1 83.4L586 87M595.8 84.7L599 87.9M604.2 83.8L602.6 87.8M613.8 83.8L613.4 88.1M622.3 84.4L619.1 87.7M630.2 84.2L633 87.9M636.2 84.1L638.1 87.8M646.7 83.4L644.6 86.9M654.7 84L657.3 88.2M664.7 83.2L665 87.5M675.3 84.2L673 87.8M682.2 82.9L682.5 87.7M691.7 83.9L689.7 87.6M698.6 83.1L698.2 87.4M705.5 84.2L708.2 87.4M714.9 83.8L713.1 87.7M725.4 84.8L722.2 87.5M733.5 83.9L730.7 87.3M739.6 83.6L742.1 86.7M747.8 83.1L749.2 87.1M757 84L757 88.1M768.8 84.2L765.9 87.4M774.8 83.5L772.1 86.8M780.6 83.4L783.2 87.3M788.4 83.8L792.1 86.9M801.8 83.8L800.1 87.5M806.6 83.2L809 86.9M818.5 83L816 87.1M826.2 83.3L823.8 86.9M831.9 83.4L835.2 86.8M450.9 91.6L453.7 94.9M460.6 91.3L463.4 94.8M469.3 90.8L469.6 95M478.6 91L475.5 94.6M488.8 91.7L485.2 94.9M494.5 90.9L496.5 94.5M504.3 91.4L504.6 95.4M510.9 90.4L510.8 95.2M518.9 91.7L520.7 95.7M527.4 92.1L530 95.5M538.7 90.8L538.6 95.6M546 91.1L548 95.2M552.7 91.8L556 95M563.3 91.2L560.4 95.1M572.4 90.5L572.4 94.6M580.9 91L579.2 94.7M591.6 91.9L588.7 95.4M595.6 91.7L599.4 94.8M606.7 91.4L606.6 95.9M615.9 91L614.2 95.5M622 90.7L622 94.9M630.6 91.1L629 95.1M639.6 91.5L641.7 95.6M649.5 91.5L647.1 94.8M659.2 90.7L657.5 95.2M664.9 92.3L668.1 95M672.8 91.5L674.2 95.2M680.8 90.8L683.1 95.1M690.8 91.4L693.4 94.6M700.3 90.1L700.3 95M708.9 91.4L705.6 94.2M716.9 91.5L719.1 95M727.7 91.4L724.9 94.3M734.6 91.7L732.5 95.3M744.3 90.9L741.5 94.1M749 90.3L748.7 94.9M758.2 90.6L760.5 94.6M766.8 90.4L767 95.1M775.4 91.3L778.6 95M786.2 91.3L782.8 94.5M794.1 91.8L791.5 95.4M802.5 90.4L802.5 95.2M807 92L810 95.2M818.5 91.1L820.5 94.7M828.9 90.8L826.2 94.5M835.8 91.5L836.2 95.5M458 98.4L455.2 102M467.2 98.3L467.3 102.5M472.2 98.4L474.4 102.1M482 98.6L482.2 103M488.7 99.1L491.4 102.2M498.6 99L501.6 102.5M508.9 98.3L508.5 102.9M517.6 99.6L515.2 103.4M523.6 98.9L526.3 101.9M534.1 99.3L533.9 103.5M541.3 99.2L543.9 103.1M550.2 99.2L553.4 102.4M559 98.7L561.7 102.1M566.2 98L566.4 102.5M577.6 98.8L577.5 103.3M586.1 98.8L583.4 101.9M592.6 98.9L595.4 102.2M603.6 99L600.6 102.7M613.4 100L609.8 102.9M617.4 98.7L616.9 103.5M627.1 99.5L630.3 103M633.2 99.2L635.1 102.8M643.5 99.2L641.9 103.3M654.4 99.7L651.4 102.7M662.2 97.8L662.6 102.5M668 98.5L668.2 102.9M679.4 98.1L679.2 102.4M688.8 98.9L687 102.8M695 98.4L697.7 102.1M702.7 98.9L704.8 103.3M713.3 99.1L712.9 103.7M718.5 98.6L721.1 102.5M730.1 99.3L727.3 102.8M737.1 99L739.5 102.7M745.7 99.1L748.3 103.1M756.5 99L754.4 102.8M763.4 98.9L760.3 101.6M771.7 99.2L773.1 103M780.7 99.8L777.3 102.8M788.3 98.3L788.4 102.6M795.6 99.8L798.6 103.2M805.9 99.1L802.7 101.9M814.5 98.9L816.5 103.1M823.6 98.6L820.9 101.6M830.9 98.2L829 102.6M840.2 98.9L837 101.8M448.8 106.5L451.5 109.7M459.7 105.8L459.2 110.5M469.4 106.4L469.6 110.4M475.6 107.3L478.7 109.9M486 106.4L485.5 110.6M493.4 106L495.3 109.9M500.2 105.6L502.5 109.8M509.9 106.7L509.9 110.8M521.2 107.4L518.7 110.7M529.3 106.2L526.6 109.6M535.6 106.4L535.3 111.2M544.1 106.2L544.1 111M555.9 106.4L553.2 109.6M559.6 106.5L562.9 110M570 105.7L572.4 109.9M576.7 106.6L578.7 110.7M585 107.1L587.8 110.5M599 106.4L596.5 110.1M606.2 106.4L606.5 110.9M613.7 106.3L614.2 110.9M619.2 107.1L622.5 109.9M630.2 106.5L630.1 110.9M640.5 106.9L638.3 110.5M647.8 106.2L647.8 110.6M655.6 106.7L652.8 110M664.2 105.4L664.2 110.2M671.5 106.4L673.8 109.8M678.5 106.7L680.9 110.3M687.5 107.1L690.9 110.4M696 107.2L698.3 110.9M704.5 106.3L706.6 110.7M714.6 106.8L716.8 110.2M724.2 106.3L726.3 110.6M730 106.5L733.3 110.1M739.2 106.3L741.4 109.9M749 106.9L749.4 111.3M760.5 107.4L757.4 110.8M767.3 105.5L767.1 110.2M773 107.2L776.3 110.7M784.5 105.8L784.7 110M790.5 106.7L793 110.4M797.7 106.2L800.3 109.9M808.9 107.2L810.9 110.9M818.8 107L816.6 110.9M824.7 106.7L827.3 110M836.4 106.1L833.9 110.3M460.7 113.8L458.1 117M467.4 114.3L467.1 118.7M474.9 114.9L477.7 118.2M482.9 113.7L482.6 118M492.5 113.5L494.2 117.2M499.1 114.3L498.9 119.1M507.9 113L508 117.7M518.7 114L518.9 118M525.9 113.7L525.9 118.4M534.2 113.8L536.7 117.1M542.8 113.5L540.3 117.2M548.7 113.7L551.1 117.8M559.5 114.3L561.9 117.6M566.6 113.3L568.3 117.7M577.2 114.5L577.7 118.7M584.8 114.4L584.4 118.7M593.1 114.6L592.9 118.8M602.3 113.9L601.9 118.1M611.4 113.1L611.2 117.7M617.2 114.4L620.7 117.3M627.1 113.9L626.9 118.3M637.5 114.9L635.7 118.5M645.8 114.1L646 118.1M652.4 113.6L654.4 117.9M663.3 113.2L663 117.7M669 114L671.9 117.2M678.4 113.7L677 117.7M686.2 113.8L685.7 118.6M696.3 114.4L694.1 117.9M704.9 114.3L702.9 118.5M711.7 113.7L711.5 118.3M722.6 114.2L720 117.8M727.7 114.4L730.6 117.5M739.8 113.2L739.8 117.6M748.3 114.2L748.2 118.5M754.1 113.6L755.8 117.3M762.9 114.5L764.4 118.5M773.1 113.1L772.8 117.8M782.6 114.1L782.3 119M788.9 113.9L789.2 118.6M797.8 113.6L794.7 117.2M805.2 114.7L807.1 118.5M812.5 113.9L816.1 117.1M824.3 113.6L824.6 117.6M831.9 114.4L834.2 117.7M456.3 122.7L453.6 125.8M465.8 121.4L463.4 125.1M473.8 122.1L470.7 124.9M481.3 121.6L481.6 126M489.5 122.3L487.6 125.9M497.3 122.1L499.6 126.1M508.5 121.6L506.3 125.6M515.2 121.4L513 125.7M522.7 122.1L525.7 125.2M531.5 121.2L533.8 124.7M539.8 121L542.2 125M550 121.9L547.6 126.2M560 121.5L556.9 125.1M564.5 121.2L566.7 124.6M574.6 122.3L577.7 125.5M583.2 120.7L583.4 125.2M590.7 121.7L593.2 124.8M597.8 121.9L600.2 125.7M607.7 121.3L607.7 125.5M618.6 121.2L616.1 125.3M625.5 121.6L627.9 125.8M636.3 121.7L633.6 125.2M645.4 122L642.4 124.8M653.3 121.8L651.5 125.8M660.7 122.2L657.3 125.6M667.6 121.6L667.4 126M675.6 121.2L678.5 124.9M688.6 122.2L685.2 125.6M697.1 122.6L693.9 125.4M700.6 122L703.2 126.2M708.2 121.2L711 124.8M717 122.6L719.9 126M726.7 122L730.1 125M737.1 121.6L736.8 126.1M743.9 121.1L743.4 125.9M752.1 121.9L752.5 126.4M763 121.4L763.2 125.8M771.5 121.9L768.9 125M780.4 122.3L777.7 125.5M785.7 121.3L788.2 125.5M798.8 121.7L795.8 124.7M803.8 121.6L806.2 125.3M813.9 121.8L812.4 126M819.8 121.8L821.9 125.4M829 121.5L832 125.2M837.4 122.1L839.3 125.7M451.6 129.6L449.6 133.8M459.2 129.4L461.3 132.9M466 128.5L468.6 132.6M477.9 128.1L477.5 132.9M482 129.5L485.6 132.5M490.2 128.9L493 132.4M503.3 129.2L500.7 133M511.2 128.8L509 132.7M518.9 129.1L520.7 132.7M525.7 129.5L525.8 133.8M535.8 129.5L532.7 132.9M542.4 129.6L545 132.9M552.8 128.3L553.3 132.8M559.3 129.6L562.1 132.9M571.3 129.5L568.3 132.6M578.9 129.6L578.7 133.8M589 129.9L587 133.4M595.6 129.2L595.8 133.3M603.7 128.4L604 132.6M615.1 129L612.1 132.3M617.2 130.3L620.9 133.4M628.3 129.6L628.1 134M635.2 129.4L637.3 133.2M645.7 128.7L645.9 133.6M655.3 129.7L652.6 133.2M662.1 129.2L664.7 133.3M672 130.2L674.3 133.5M679.2 129.4L681 133.4M691 129.9L688.1 132.9M697.8 128.6L699.5 133.1M703.2 129.9L705.4 133.6M714.2 129.8L715.7 133.8M724.6 128.9L722.1 132.4M729.9 129.2L733.5 132.2M739.7 128.8L739.8 133.2M748.1 129.3L749.8 133.6M756.2 129.6L759 132.8M763.5 129.8L766.8 133.2M775 128.8L772.2 132.3M783.7 128.8L781.9 133.2M791.2 129.6L788.2 132.4M799.3 128.6L801.7 132.7M808.8 128.7L806.6 132.4M814.9 129.1L818.3 132.4M823.3 129.4L823.4 133.5M832.4 128.7L834.1 133.1M454.4 136L454 140.4M463.9 137.1L460.7 140.4M471.3 136.6L473.4 140.3M478.8 136.7L478.5 141.5M488.5 136.4L486.3 140.7M494.4 137.4L496.7 141.4M505.4 136.8L502.7 139.9M512.1 136.5L515 139.9M522.6 137.6L519.9 140.8M531.4 137.5L533.3 141.2M537.5 136.6L539.7 140M545.4 136.6L547.8 140.7M555 137.1L558.1 140.8M566.6 137.8L563.9 141.1M575.1 136.1L573.5 140.1M582.3 136.5L579 139.8M590.3 136.8L588 140.8M597.3 136.9L600.6 139.7M610.1 137.3L607.3 141M617.4 136.7L617.6 141.6M625.9 137.4L622.9 140.9M631.7 136.9L631.5 141.6M642.5 137.2L642.8 141.4M647.1 136.9L649.9 140.8M658.1 137.6L660.8 141.4M665.9 137.1L669.1 140.2M676.8 136.5L677.1 141.1M683.8 136.7L685.4 140.9M695.2 136.8L692.4 140.2M699.9 136.1L699.4 140.8M711.7 137.5L709.2 141.1M719.5 137.7L716.6 140.4M726.7 137.3L723.7 140.9M735 137.3L733.3 141.6M744.1 137.3L744.3 141.3M749.4 136.4L751.9 140.5M761.6 136.6L761.3 140.8M769.1 135.8L768.7 140.4M775.3 137.3L778.2 141M785.3 136.7L785.5 141M797.3 136.5L794.7 140.5M804.7 136.9L804.3 141.8M812.3 136.6L812.1 141M820.9 136.2L820.5 141M827.5 137.6L830 141.3M838.7 137.4L835.8 141.3M454.4 143.9L456.6 147.6M463.8 145.3L466.6 148.5M472.5 144.3L469.6 147.8M481.8 144.3L482.2 148.7M490.6 143.5L491 148.3M496.5 145L499.9 148M505.8 144.8L505.8 148.9M514.4 143.7L514.5 148.1M525.5 145L523.2 148.5M532.8 143.8L530.9 148.2M538.3 144.2L540.4 148.1M550.7 144.9L547.7 147.9M557.5 143.7L557.4 148.3M568.5 144.3L565.3 147.5M576.1 144.6L573.3 148M581.3 143.7L581.4 147.8M589.4 144.1L591.9 148.2M601.2 144.2L598.4 147.9M610.9 143.8L608.7 148M615.6 144.1L618.3 147.6M624.4 144.4L627.1 148.2M634.1 145.1L636.3 148.8M639.4 144.2L642.3 147.7M651.8 144.8L650 148.6M659.9 144.1L660.2 148.2M669.9 145L667.3 148.5M674.8 144.9L674.8 149M684.2 144L684.3 148.6M694.4 143.9L694.1 148.1M700.6 144.1L700.3 148.9M709 144.7L708.8 149.5M719 144.1L716.6 147.7M729.6 143.9L727.4 147.5M734.4 143.5L734.4 148.2M742 144.3L744.9 147.9M751.6 143.5L751.7 148.2M761.4 144.6L759.2 148.3M768.3 144.4L771.3 148.1M781.3 144.8L778 147.6M786.8 145.3L790.1 148.2M795.4 144.6L792.4 148.3M801 145.2L803.8 148.6M815 144.5L812 147.2M821.3 144.5L823.1 148.2M830.6 143.3L830.5 148.1M837.4 144.7L839.4 148.8M455.9 152.1L455.6 156.1M467 152.1L465.1 156.5M476.5 152L474.5 155.5M484.4 151.2L482.2 155.5M490 152.3L490.4 156.3M499.4 152.1L499.5 156.8M508.2 151.7L507.9 156.4M516.9 152.4L513.6 155.2M525.7 152.4L525.6 156.4M532 152.2L532.5 156.7M543.1 152.1L539.6 155.1M548.4 151.8L551.8 155M560 151.9L559.6 156.4M569 152.2L568.7 156.6M577.2 151.5L577.3 155.8M585.6 152.4L582.8 155.7M594 151.3L593.9 155.7M602.3 152.1L602.1 156.8M608.9 151.7L609 156.6M618 152.2L617.5 157M624.6 152.9L626.6 156.4M636 152.1L635.5 156.8M644.6 152.4L644.2 156.4M653.5 152.3L650.6 155.8M660.9 151.9L663.9 155.4M667.7 152.4L670.7 155.3M676.5 152.7L679.8 156.1M685.2 153.1L688 156M696.2 151.2L696.1 156M702.4 151.9L702.9 156.8M711.4 152.4L711.5 156.9M717.8 152.7L721 156.1M728.6 151.7L728.6 155.8M737 151L737.5 155.8M745.5 152.5L747.7 156.5M754.6 151.5L752.5 155.7M763 152.2L763 156.6M771.3 152.3L768.4 155.3M781 151.9L781.3 156.6M788.4 151.6L788.3 156.4M798.3 151.2L796.7 155.7M805 151.8L805.2 156.2M814.3 152L814.2 156.3M823.1 151.7L820.8 155.4M830.1 151.8L832.4 155.8M837.6 151.5L840 155.7M454.3 159.7L456.6 163.5M464.3 160.1L465.8 164.1M471.2 160.6L473.8 163.8M481 160L483.4 163.7M491 160.3L493.5 163.8M499.7 160.2L500.1 164.3M508.1 158.9L508.4 163.4M516.8 159.5L518.9 163.9M527.2 159.6L525.2 163.1M535.6 160.1L533.9 164.3M539.9 159.3L542.1 162.7M551.3 159.5L550.9 163.6M557.3 159.5L560.1 163.3M566.8 160.1L569.9 162.9M576.7 159.1L573.9 162.8M584.4 159.1L582.5 162.7M591.3 159.1L594.1 162.8M602.8 159.5L602.8 163.7M610.9 160.2L608 163.1M619.2 159.3L619.1 164.1M625.4 159L625.2 163.2M633 160.7L635.6 163.8M645.4 159.9L645.3 164.4M652.6 159.3L651.1 163.1M661.6 159.4L661.9 163.6M672.1 160.4L669.3 163.6M677.5 159.1L679.1 163.6M685.3 160L687.9 163.8M697.6 159.8L694.7 163M705.6 160.1L702.9 163.8M712.3 160.9L709.2 163.6M722.6 159.4L720.9 163.1M729 160.2L731.8 163.2M738.1 160L737.8 164.4M743.8 159.8L746.5 163.6M755.6 158.9L753.9 163.1M763 159.5L761.5 163.4M771.9 158.7L771.8 163.1M778.7 159.7L781 163.1M788.9 159.5L786.8 163.2M795 160L797.4 163.4M806.4 159.7L803.6 163.1M813.1 159.8L813.2 163.9M822.2 159.4L822.1 163.7M831.6 160L831.5 164.5M838 159.7L838.3 163.8M452.6 167.3L452.8 171.6M457.5 167.1L459.8 170.7M468.4 167.8L465.8 171.2M476.6 168.2L479.2 171.5M484.5 167.6L487.7 171M495.5 167L495.4 171.3M501.9 168L504.8 171.7M513.6 168.2L510.9 171.4M519.1 166.9L518.8 170.9M526.5 167.3L529 170.5M537.5 166.7L537.2 171.2M545.4 167.3L545.7 171.8M551.7 167.5L554.9 170.9M563 167.7L560 171.2M569.7 166.8L572.7 170.5M580.1 167.8L578.1 171.3M587.2 167.5L590.1 171.1M596.9 166.8L596.6 171.3M602.4 167.7L604.3 171.7M610.9 167.6L614 170.8M620.7 167.5L620.5 171.5M631.1 167.6L629.5 171.5M637.3 167.4L640.7 170.6M646.8 166.9L644.5 170.8M657 167.5L654.8 171.9M662.4 167.7L664.8 171.3M673.4 167.2L670.6 170.8M681.5 167L678.3 170.2M692 166.7L689.6 170.7M700.3 167.1L697.2 170.3M706.7 166.4L707 171.1M714.3 166.5L714.1 170.7M722.8 167.3L725.5 170.7M731.9 168.1L728.9 171.3M742.9 167.6L739.7 171.3M747.8 167.3L750.7 170.8M757 167.3L754.7 171.4M765.9 167.4L768.2 170.9M774.4 166.7L771.5 170.6M783.6 166.8L783.5 171.4M791 167.2L790.8 171.6M800 166.5L799.8 170.8M807.8 166.5L807.5 170.9M814.2 167.1L816.8 170.2M825.2 168.3L828.4 171.4M835.6 167.2L833.2 171.2M456.6 175L459 178.7M464.3 174.6L467.3 178.2M475 174.1L475.1 178.8M480.6 174.8L483.1 178.7M494.3 175.3L491.1 178.2M502.6 175.5L500 179.1M506.2 175.1L509 178.4M517.4 175.4L514.8 179.1M525.8 175L523.4 179M536.3 174.6L533.4 178.3M542.8 175.7L545.3 179.2M549.9 174.8L549.6 178.9M558.5 175L561.9 178.5M570.6 175L567.9 178.1M577.6 175.3L577.9 179.5M584.1 175L586.1 178.7M592.4 175L592.8 179.5M601.8 175.1L603.9 179.1M610.1 175.5L608.4 179.3M617.4 174.2L617.8 178.4M628.5 175.2L625.6 178.4M638.3 174L635.9 178.2M647 174.6L644.2 177.9M651.9 175.1L651.5 179.8M662.1 175.2L662.2 179.7M670.3 174.9L667.4 178.2M677.6 174.1L677.2 178.3M687.4 175.6L684.5 179.2M696.4 174.8L693.1 177.6M704.5 175.5L702.3 179.4M714.4 175.2L711.4 178.8M722.8 174.8L720 178.2M730 174.6L727.7 177.9M739 175.6L736.8 179.1M746.7 174.6L743.9 177.8M756.3 174.6L753.1 178.2M763.6 175.2L766.3 178.5M771.7 175.1L769.4 179M783.5 174.4L780.5 178.2M789.5 174.2L789.8 178.3M800.1 175.1L797.6 178.8M805.7 174.8L809.2 178.2M817.4 175.3L814.2 179M821.5 174.5L821.6 178.9M831.2 175L831.2 179.5M459.7 182.2L459.8 186.9M466.4 182.7L468.8 186.7M476.9 181.7L475 186.2M486.3 182.6L483.4 186.1M491.1 182.1L491 186.3M499.2 182.4L502.3 185.4M508.1 182.1L507.7 186.5M518.5 183.1L515.3 186.4M524.3 182.3L526.4 186.5M533.6 182.9L535.5 186.9M543.1 181.4L543.2 186.1M551.3 182.7L553.9 185.8M560.1 183.1L562.7 186.4M569.8 182.5L566.4 185.9M578.9 182.2L579 186.8M585.8 181.9L585.9 186.6M595.1 182.5L592.2 185.4M600.9 182.4L603.8 186M611.7 182.7L609 186M620.3 182.8L620.2 187.4M627 182.8L627.3 187.2M635.2 183L638.1 186M645.4 182.6L647 186.8M652.3 182.6L652.6 186.8M662.9 181.9L664.5 186.3M672.6 182.8L670 186.5M680.5 182.1L680.2 186.5M688.3 182.2L685.2 185.7M698.3 182.3L696.6 186.5M703.9 182L707 185.6M713.5 182L713.6 186.4M722.2 182.5L722.7 187.3M731.4 183.4L728.7 186.8M739.1 182.6L738.8 187.1M747.1 181.8L745.2 185.7M755.9 182.4L757.3 186.2M765.8 181.9L765.7 186.1M770.3 182.5L772.4 186.1M782.8 182.3L780.4 185.7M791.2 182L789.2 185.9M799.1 182.9L796 185.7M809.4 182.1L807 185.4M814.4 182.3L813.9 187.1M824.4 182.9L820.8 186M831.5 182.7L831.3 186.8M457.4 190.1L460.5 193.5M467.2 190.3L467.1 194.9M477.5 190.7L474.8 193.8M484.5 189.7L484.3 193.8M490 190.9L493.4 193.7M500.8 190.6L498.4 194.3M508.2 190.6L510.3 194.4M518.9 191.1L515.8 194.3M524.3 190.3L527.4 193.9M535.2 190.2L532.5 194M542.9 190.4L546.2 193.5M550.4 190.7L550.8 194.7M557.7 190.4L560 194.3M568.3 189.8L570.4 193.5M579.6 189.8L576.8 193.1M588.1 190.2L585.9 193.6M595.6 189.2L595.4 193.8M601.2 189.5L603.6 193.2M610 189.6L612.2 194M618.1 190.1L620.8 193.9M630.2 190.5L627.8 194M638.2 189.7L638.3 194M644.2 190.8L647 194.4M655.2 189.4L653.4 193.6M663.3 190.8L660.4 194M670.8 190.3L671.1 194.9M680.3 190.8L677.9 194.5M686.5 189.6L689.4 193.1M696.4 190L696.3 194.9M706.1 190.2L703.4 194.2M713.2 189.2L713.1 193.7M722.3 189.5L722.5 193.9M729.8 190.3L732.7 193.7M738.4 190.2L741.1 193.3M748.3 189.6L745.3 193.3M754.7 190.1L758.3 193.2M761.3 190.6L764.6 193.7M774.4 191.1L771.1 193.8M783.4 190.2L781.2 194.1M789.5 189.8L787.4 193.3M800 190.8L797 193.7M807.4 189.5L808.8 193.6M815.7 189.6L816 194.4M824.2 190.7L821.7 193.9M830.3 190.9L832.9 194M456.7 197.6L458.8 201.2M464.3 197.5L467.3 201M474.7 198L474.4 202M484.1 197L481.4 201M493.7 198.3L490.3 201.3M500.1 198.1L498.5 201.8M507.7 197.8L507.3 202.7M518.8 198.7L515.8 201.6M526 197.7L523.9 201.4M532 198.2L534.5 202.2M542.4 198.1L539.9 201.7M550.6 197.8L553.3 200.9M558.9 197.8L556 201.2M568.1 198.8L565.2 201.6M574.1 198.1L577.2 201.8M584.3 198.1L584.4 202.4M593.6 197.9L590.2 201.3M600.9 197.3L600.7 201.8M611.4 197.4L609.5 201.3M618.1 197.3L620.2 201.6M624.6 197.9L627.4 200.8M635 198.1L637.7 201.1M646 198.2L642.3 201.2M651.3 198.5L653.7 202M659.1 198.4L662.4 201.5M666.6 197.7L669.3 201.2M677.2 197.5L679.2 201.5M685.9 198.2L688.5 201.5M696.8 198.2L694.2 202.1M703.5 198.5L700.5 201.6M714.5 197.8L711.5 200.5M721 198.2L718.2 201.4M729.9 197.6L729.6 202.1M738.9 197.5L737 201M747.6 197.6L744.7 200.7M756.7 197.9L753.7 201.6M761.8 197.8L764.5 201.8M771.8 197.7L774.3 201.1M779.7 197.3L779.9 201.3M790.2 197.7L787.5 201.2M794.9 197.1L797.2 200.7M808.4 198.1L805.3 200.8M816.2 197.8L813.7 201.9M821.7 196.6L821.6 201.3M831.2 196.9L830.9 201.5M839.4 196.7L839 201.5M455 205.4L457.5 208.9M464.9 204.4L464.8 208.7M473.5 205.9L471.3 209.3M481.9 205.1L484.2 208.9M492.8 204.9L489.9 208.2M499.9 204.9L497.6 208.4M507.5 204.6L506.1 208.5M517.1 205.9L514.4 209.4M524.6 205.4L524.4 209.6M531.7 205.3L535.1 208.2M541.4 205.6L539.2 209M548.9 205.3L552.1 208.8M558.7 204.8L560.9 209.2M569.3 204.5L567.5 208.6M575.2 204.7L572.8 208.7M585.1 205.8L582.8 209.7M592.2 204.7L594.5 208.6M603.2 205.3L600.8 209.2M609.3 205.9L607.1 209.7M619.4 204.7L619.4 209.3M628 206.2L624.4 209.1M633.1 205.7L634.8 209.7M644.9 206.3L642.3 209.5M651.4 205.3L653.1 209.6M659.8 205.2L662.5 208.8M669.3 205L671.4 209M677.9 206.1L675.6 209.4M685.8 205.7L685.7 209.8M696.6 205.5L693 208.5M702.8 205.2L700.7 208.7M710.7 204.7L710.5 209.5M718.5 205.5L718.9 210.1M727 205.2L729.6 209.3M737.2 205.1L739.3 208.7M744.2 205.3L746.1 209.8M752.2 204.9L754.7 208.9M761.7 205.6L761.7 209.9M767.5 205.1L771.3 208.2M777.1 206.2L780.4 209.4M788.6 205.9L786.1 209.2M794 205.2L796.9 208.5M805 205.9L807.7 209.7M813.8 205.7L813.9 209.8M823.5 205.8L820.3 208.9M830.1 204.3L830.6 209.2M839.6 205.5L837.5 209M453.8 213.8L456.6 217M462.6 212.6L462.8 216.7M475.9 212.7L472.5 216.2M481.5 213.2L484.2 216.6M488.1 212.8L490.6 216.6M498 212.4L497.6 216.4M506.3 212.3L506.2 216.7M518.2 213.4L515.4 216.3M524.7 213.1L522.8 217M531.5 212.4L531.1 216.4M541.1 212L540.8 216.4M549.7 212.4L547.5 215.9M559.2 212.8L556.7 216.2M564.7 213.2L564.9 217.8M575.8 213.4L573.1 217.2M582.9 213.8L585.5 217.1M590.2 212.7L592.3 217M598.1 212.4L599.9 216.5M606.7 213L608.8 217.2M618.9 213.2L616.3 216.7M627 213.2L625.3 217M633.8 212.3L632.2 216.6M641.2 213.5L644.9 216.5M653.6 212.6L650.9 216.3M662.2 212.6L659.4 216.2M669.8 212.1L669.6 216.6M677.9 212.1L676.2 216.4M686.2 211.9L686.1 216.5M692.5 213.1L694.6 216.7M701.9 213.1L704.6 216.6M710.9 212.2L709.2 216.4M717.3 212.7L720.2 216.4M728.8 213.8L726.2 216.9M734.9 213L737 216.7M744.7 212.7L744.3 216.8M751.5 212.4L754.3 216.3M763.9 213.8L761.1 216.8M770.9 213.1L768.5 216.7M778.7 212.6L776.7 216.5M789.6 212.3L787.4 216.3M798 212.5L795.4 216.1M804.9 212.5L802.5 216.7M815.1 212.6L813.1 216.9M821.5 212.5L818.7 216.5M830.3 212.4L832.5 216.4M836.3 212.9L839 216.7M455.7 220L455.6 224.9M464.5 221.3L461.9 224.6M473.9 220.7L474.2 224.9M481.4 220.7L481.2 225.1M488.9 219.8L491.4 223.6M498.5 219.9L498.5 224.2M506.9 220.8L504.1 224.6M515.1 221.1L517.7 224.2M524.3 220.5L526.2 224.1M531.4 220L533.8 223.6M541.1 220.9L539.1 224.8M552 221.1L548.7 224.5M559.8 221.5L556.6 224.7M567.7 220.2L565.4 224M575.1 220.6L572 223.6M583.9 220.4L584.1 224.8M589.9 220L592.4 223.6M599 220.1L598.8 224.7M608.9 220.7L610.4 224.5M620 221L617.1 223.9M624.5 219.8L624.7 223.9M631.6 221.3L635.1 224.6M644.5 221.1L642.1 224.7M649.9 220.2L652.1 223.8M660 220.3L657.9 224.8M669.2 220.4L666.8 224.1M676.5 219.9L676.5 224.1M685.5 220.8L685.2 225.4M692.5 220.6L694.2 224.6M700.1 219.9L701.9 224.1M709.6 220.6L712.7 223.9M718.5 220.5L721.3 223.8M726.8 220.6L729.6 224M737.2 220.3L734.2 223.6M745.4 220.1L747.4 224.6M751.3 219.8L753.6 223.6M760.1 220.4L762.6 224.4M770.7 220.3L772.3 223.9M780.1 220.5L777.8 224.7M788.7 220L788.6 224.1M797.9 220.8L795.7 224.2M804.8 221.4L801.3 224.5M813.7 220.4L813.9 224.7M820 220.3L822.4 223.9M832.6 220.3L829.9 223.9M839.1 220.4L839.5 224.9M455 228.1L455.2 232.2M465 228.5L461.8 232M469.6 227.4L472.2 231.4M479.4 228L479 232.9M488.2 229.3L491.4 232.1M498.6 228.8L495.3 232M505.5 228.4L505.3 232.8M517.4 228.7L514.7 232.2M524.9 228.3L522.7 232.7M533.1 228.7L530.5 231.8M538.1 227.7L539.7 231.7M548.6 228.1L551 231.4M556.5 227.5L558.8 231.1M566.8 227.5L564.9 231.1M576.1 227.9L572.9 231M584 227.7L584 232.1M590.1 227.8L590.1 232.1M599.8 227.2L599.4 231.4M609.7 228.2L609.3 233M617.1 228.8L614.6 232.5M622.8 228.7L625.7 232.4M635.8 227.6L632.9 231.3M640.1 227.4L641.6 231.4M650.3 227.6L652.3 231.4M659.3 228.4L659 232.9M666.2 228.9L668.7 232.2M675.4 228.4L677.7 232.4M685.7 227.9L683.6 231.4M694.8 228.4L694.4 232.7M702.1 227.5L702.4 232M710.8 228.5L708.1 232M717.9 228.3L720.5 232.1M728.3 228.1L725.5 231.2M735.8 227.3L736.3 232.1M742.5 227.9L742.9 232.5M752.8 228L753.2 232.3M762.4 228.2L762.7 232.3M772.3 228.8L769 232.3M779 228.4L776.2 231.8M784.8 228.2L787.5 231.8M794.9 228.1L798.1 231.4M805.9 228L803.8 232.1M809.4 228.8L812.3 232M820.7 228.5L818.5 232.5M828 227.6L828.4 232.2M836.4 228L838.2 231.9M452.6 235.6L450.8 239.6M459.1 235.4L461.6 238.8M468.4 235.7L466.1 239.1M477.6 234.9L478 239.1M486.7 235.3L484.4 239.5M491.9 236.3L494.6 239.4M501.8 235.1L501.4 239.7M511 235.7L514.2 239M520.9 234.6L520.8 239.4M528.4 235.3L528.6 240.2M538.4 235.6L538.2 240.2M545.5 236.1L548.1 239.1M555.6 236.2L552.3 239.1M562 235.7L563.7 239.9M570.6 235L568.1 238.8M581.8 235.9L579.4 240M588.1 235.8L585 239.5M596.8 235.8L594.2 239M605 236.2L602.9 239.7M614.4 235.9L611.4 239.6M621.7 235.5L618.9 239.4M632 236L629.2 239.9M640.1 235.9L640.2 240.3M647.2 235.5L648.9 240M657.9 235.7L655.4 239.3M663.7 235.9L664 240.5M675 235.3L673.3 239.3M680.9 234.8L679.2 239.2M691.7 235.6L689.7 239.1M697.7 235.1L697.7 239.4M706.3 236L708.6 239.9M714.8 235.6L714.5 240.4M726.6 236.7L723.9 239.7M734.9 235.8L732.6 239.8M741.5 235.4L739.4 239M749.3 235.4L751.9 239.5M756.5 235.6L756.9 239.8M768.2 236L766.4 239.9M775.1 235.8L776.9 239.5M782.1 235.1L781.9 239.4M790.8 235.3L793 238.6M803.1 236.1L800.1 239.9M811.1 235.4L807.5 238.5M817.6 235.6L817.8 240M827 236.2L824.7 240.1M831.6 236.1L834.7 239.9M452 244.5L455.2 247.3M465.6 243.2L463.6 246.7M469.4 243.5L471.7 247.7M477.7 242.9L480.4 246.6M489.1 243.5L488.9 247.9M494.5 243L496.8 247M506.3 243.4L504 246.9M514.6 243L514.9 247.1M521.4 242.3L521.6 247M533.7 243.7L530.9 247M541.6 243.8L538.5 246.8M549.6 243.7L547.2 247.6M556.1 243.7L555.9 247.8M564.3 242.5L564.3 247M574.3 243.8L572.2 247.3M582.3 243.2L584.4 246.8M590.9 242.8L587.9 246.3M599.2 242.8L601.8 246.3M604.9 243.4L607.6 246.5M615.9 243.4L616 247.9M625.8 243.2L626.2 247.9M633.2 243.3L636.4 246.5M642.8 243.9L639.5 246.8M648.7 243.3L651.5 247M659.7 243.1L657.1 246.7M667.5 244L665.2 247.4M677.2 243.4L677.2 247.8M684.2 243.4L686.3 246.8M693.2 242.7L695 246.9M700.4 242.3L700.7 247M711.7 243.4L708.4 246.1M719.5 243.4L719.5 247.6M728 242.6L727.9 247.2M735.9 243.6L735.7 247.8M742.7 242.6L742.3 247.3M749.7 243.1L752.4 246.4M762.9 243.1L760.3 246.5M769.6 243.6L767.3 247.1M777.7 243.1L775.3 247.3M787.4 243L787.5 247.6M793.9 243.1L796.4 247.3M804.6 242.7L804.5 247.5M811.3 243.6L811.5 247.6M818.7 242.9L818.6 247.4M828.7 243.4L828.2 248M840 243.4L837 247M457.4 250.2L455.1 254.3M466.1 250.8L463.7 254.3M472.1 250.2L474.8 254.2M479.6 250.1L479.3 254.5M488.9 251.1L489.2 255.4M497 250.6L495.4 254.9M505.6 251.6L509.1 255M513.8 250.7L516.2 254.5M523.4 250.4L523.5 254.5M533.7 250.7L530.1 253.7M538 251L540.7 254.3M548.4 251.2L548.1 255.2M553.7 251.1L557.3 254.2M565.3 251.8L568.2 255.2M576.4 251.3L574.3 254.8M585 251.1L582.3 254.5M589 251.5L591.9 254.9M599.8 250.7L597.1 254M605.8 250.3L608.3 254.3M615 250.6L614.8 254.8M624.7 250.1L624.6 254.5M633.9 250.5L631.1 254.4M643.5 250.7L641 254.4M650.6 250.5L650.3 254.7M657.6 250.3L659.1 254.1M668.2 251L666.4 255.3M675.9 250.2L675.6 254.6M683.8 250.4L686.3 254.5M691.4 251.7L694.2 254.8M701.5 250.3L703.8 254.6M710.4 250.1L707.9 254.3M719.1 250.3L719 254.5M726.8 250.9L727.2 255.1M736.9 250.4L736.9 254.6M743.2 252L746.1 254.9M751 251.1L753.7 254.6M758.6 251.1L761.1 254.4M767.1 250.9L769.9 254.3M776.9 251.5L780.1 254.7M788.4 250.8L785.7 254.5M793.9 251.5L796.3 255.1M804 251.2L800.9 253.8M809.6 251.1L811.9 254.8M818.6 250.6L821.5 253.8M829.4 251.4L826.7 255.1M839.9 250.6L837.7 254.4M455.8 257.9L455.5 262.3M462.9 258.8L465.1 263.2M472.8 258.8L472.9 263.2M480 258L478.5 262.1M489.1 257.8L491.3 261.8M498.7 258.3L498.9 262.9M503.2 259L505.3 263.1M514.6 258.7L512.7 262.6M524.2 259L522.6 262.9M530.4 259.2L533 262.5M539.9 258.5L537.3 261.9M548.7 258.9L550.6 263.3M555.3 257.6L555.5 261.9M565.8 259L567.6 262.9M571.8 257.9L574.8 261.6M581 258.7L584.2 262.3M589.7 258.7L589.8 263M600.7 258.9L598.2 262.9M606.6 257.8L606.9 261.8M615.2 258.4L615.4 262.9M625.6 258L622.9 261.9M631.7 258.1L631.7 262.3M643.2 258.1L641.5 262.5M649.1 259.2L651.8 262.3M658.8 258.3L660.9 262.1M667.6 258.3L667.6 262.5M675.8 259L675.9 263.2M682.3 258.3L685.1 261.4M692.8 259.2L695.2 263M702.4 258.7L702.4 262.8M709.6 258L712 261.7M720.1 259.4L717.5 262.6M726.9 259L729 262.7M737 259.1L735 262.6M746 258.9L743.1 262.5M750.3 258.7L753.7 262.2M760.7 258.8L758 262.3M768.4 258.8L768.4 263.3M778 258.5L777.8 262.7M787.3 258.5L786.9 262.8M793.6 257.9L795 261.8M800.9 258.1L804.2 261.6M810.2 259.2L812.7 262.5M819.5 259.2L823.1 262.3M830.8 257.9L828.8 262.1M836.2 258.4L836.3 262.4M456.2 266.5L453.4 269.7M462.5 265.5L464.5 269.4M474.4 266.7L471.8 269.8M479.3 266.1L479.6 270.3M489.6 265.9L491.2 269.9M496.4 266.3L499.1 269.7M506.5 265.8L504.5 270.2M516.7 267.1L514.1 270.3M523.8 266L523.7 270.4M531.2 266.6L528.7 270.4M538 266.8L539.6 270.4M547.5 266L549.5 269.7M555.9 266L558 269.6M564.4 266.4L566.7 270.1M574.5 266.9L572.3 270.5M580.6 266.4L583.3 270.3M592.1 266.7L589.2 270.1M600.8 265.8L598.7 270.1M610.1 265.6L608.6 269.6M617.7 266.7L615.5 270.3M626.2 265.2L626.3 269.4M634.3 266.5L630.8 269.7M642 265.7L639.7 269.1M649.3 266.3L649.2 270.7M658.8 266.1L662 269.9M666.8 265.6L669.4 269.3M676.3 266.2L674.7 270.5M684.6 266.2L687 269.6M693.8 266.5L691.2 270.1M703.1 266.2L700 269.8M709.9 266.7L712 270.6M719 266.5L716.5 270.1M726 265.9L728.6 269.1M734.4 266L734.7 270.4M743.9 266.7L741.2 270.5M751.1 266L752.8 270.4M760.1 266.3L762.8 270.1M770.5 265.9L767.3 269M777.8 266L780.3 269.9M785.2 265.9L787 269.5M793 265.8L795.8 269.1M802.1 266.2L802.4 270.8M811.2 266.4L811.2 270.5M818.9 265.6L822 269.4M827.7 266.3L827.6 270.8M836.3 266.9L838.7 270.4M451.6 274.2L448.4 277.1M457.5 274.3L460 277.6M468.6 272.7L468.3 277.5M479.3 274.4L477.1 278.1M486.9 273.7L486.5 277.8M491 274L494.2 276.8M504.8 273.2L501.9 276.6M510.3 274L508.5 278.1M516.8 273.7L519.5 277.4M527.6 273.3L527.8 277.5M536.3 273.5L536.6 278.3M544.3 274.1L546.7 278.1M554.8 273.5L552.3 277.8M563.1 273.1L560.8 276.7M569.3 273.7L571.2 277.8M578.2 273.5L581.3 276.3M587.4 273.9L585.6 277.6M596.8 274.7L593.4 277.6M605.4 273.2L603.2 276.7M613.2 273.1L615.2 277.5M622.3 274.1L620 278M628.4 274.2L631.4 277.7M636.1 273.9L638.5 278.1M648.1 272.9L648 277.3M656.1 273.2L653.8 277.4M661.3 273.6L664 277.3M670.8 273.3L673.3 276.6M678.6 274.5L681.2 278M691.6 273.3L689 276.9M698.4 273.5L698.6 277.8M704.3 273.7L707.4 276.7M715.6 273.4L713.3 277.1M721.1 273.9L723.5 278.1M734.7 273.6L731.5 276.4M740.1 273.6L742.2 277.5M748.9 273.3L751.2 277.2M758.2 273.8L758.1 278M766.5 273.2L763.5 276.9M776.5 273.6L773.6 276.8M783.5 273.2L783.2 278M790.5 272.8L791 277.3M799.2 273.9L801.9 277.4M807 273.4L807.3 277.7M814.1 273.8L817.5 276.5M824.8 273.8L827.3 277.3M835.2 273.7L834.8 278M453.6 281.9L455.9 285.8M466 281L466.4 284.9M474.4 280.5L474.1 285.1M482.1 281.6L479.8 285.3M492.6 282.4L489.8 285.4M498.5 280.3L498.2 285.1M504.8 281.1L507.5 284.9M516.8 281.3L513.7 285M524.7 281.9L522.2 285.4M533.5 281L533.7 285.8M542.1 280.9L542.1 285M552.2 281.4L549 284.8M559.8 280.9L557.5 285M566.8 281.4L567.2 286.3M574.9 280.7L577.2 284.9M581 280.8L583.3 284.6M592 281L592.4 285M603.4 281.9L600.8 285.6M607 281.1L608.7 285.1M616.9 281.8L615.5 285.8M625.8 281.7L627.9 285.1M634 281.3L636.3 285.3M645.8 281.4L643.7 285.1M653.8 282L651.6 285.7M659.1 281.3L659 285.7M670.7 281L668.7 285.2M678.5 281.7L678.8 285.7M688.4 281.5L685.9 284.6M694.9 281.1L694.9 285.4M705.4 281.3L702.4 284M710.2 281.5L710.1 285.9M716.8 281.4L719.5 285M727.2 281.9L729.9 285.7M735.8 280.8L736.2 285.5M743.4 281.1L746.9 284.5M755.1 281.5L754.8 285.6M763.7 281.2L763.4 285.3M773 281.6L770.1 285.5M776.4 281.3L779.8 284.3M788.3 281.7L785 284.8M797.5 281.7L793.8 284.9M804 281.3L804.4 286.1M814.3 282.2L811.5 285.5M822.2 281.2L819.5 285.1M828.1 281.1L830.5 284.3M839.7 281.7L837.9 285.7M454.2 289.3L450.7 292.4M459.9 288.9L457.7 293.2M468.4 288.9L465.9 292.7M475.6 289L475.5 293.2M485.9 289L484.4 293.4M495.3 289.3L492.1 292.3M501.5 288.3L501.5 292.7M510.5 289.6L512.5 293.2M519.5 289.5L517.1 293.5M526.3 288.4L528.5 292.3M536 289.3L533.1 292.8M544.8 288.9L544.9 293.3M554.5 289.5L551 292.8M561.2 289.1L559.4 292.9M571.1 288.8L568.6 292.5M578.4 288.6L576.7 293M588.4 288.4L586.1 292.5M595.5 288.9L595 293M603.1 289L603 293.4M614 288.3L612 292.6M623.1 288.7L620.4 291.7M629.3 289.1L632.5 291.9M636 288.4L638.8 291.9M643.9 289.1L646.5 292.5M656.5 288.8L653.5 292.4M661.5 289.4L663.7 292.8M672.5 288L672.5 292.6M682.2 289.1L681.9 293.1M688.1 288.2L686.7 292M697.9 288.3L694.8 292M704.9 288.9L705 293M713.6 288.5L716.3 292.1M724.3 288.1L724.8 292.5M731.3 288.8L729.2 293.2M740.9 289.5L738.4 293.2M748.7 289.2L750.9 293.2M755.5 288.9L758.4 291.8M764.5 287.9L764.2 292.4M774.5 289.4L776.4 293M782.7 289.7L779.4 292.6M790.1 289.3L792.5 293.4M800.1 289.2L797.2 292.6M809.8 288.9L806.7 292.6M813.4 289.5L816.6 292.6M823.4 289.6L825.7 292.9M833.9 288.4L831.1 292.3M450.7 297.3L453.2 300.7M457.5 296.6L460.1 300.1M469.6 296.1L469.7 300.5M476.2 296.3L478.9 300M486.8 297L484.1 300.2M496 296.4L493.6 299.9M501.3 297.4L504.6 300.7M511.5 295.9L509.2 300M522.2 297.3L519.4 300.7M530.6 296.1L527.9 299.6M539.1 296.3L536.3 300.3M544.6 295.9L544.9 300.4M553.2 295.9L553.5 300.5M560.8 296.4L560.8 300.8M569.6 296.3L572.5 299.7M577.7 297.2L580 300.5M585.1 296.5L587.9 299.8M597.5 297L595.4 300.5M606.4 297.1L603.1 300M612.4 296.7L612.5 301.3M622 296L624.1 300.1M632.7 297L629.9 300.1M636.5 297.4L640 300.7M647.1 295.9L650.1 299.5M656.3 296.8L654.2 300.3M662.6 295.9L663 300.8M670.2 296.2L673 299.7M679.8 296.2L679.9 300.4M688.6 296.4L691.5 299.3M697.5 296L700.4 299.6M705.6 296.6L705.9 301.4M714 296.1L714.2 300.3M723.4 295.7L723.1 300.3M734.2 295.6L732.5 300M743.4 296.8L739.8 299.7M747.4 297.7L750.4 300.4M757.1 297L759.7 300.5M765.7 297L765.8 301.1M775.5 296.9L772.1 300.1M782.6 295.7L782.5 300.5M791.7 295.5L791.7 300.4M800.5 295.7L800.1 300.3M809.2 296.6L807.2 301M815.5 296.4L818.3 300.3M824.3 296.8L826.6 300.2M835.7 296.5L832.6 300M455.2 303.4L456.9 307.9M463 304.5L464.5 308.4M472 304.3L469.9 307.7M482.3 304.3L479.8 308.1M488.6 304.8L491.8 308.3M498.5 304.4L498.8 308.8M504.5 303.4L504.1 307.8M514.2 304.7L512.1 308.5M524.3 303.3L521.9 307.3M531.2 303.3L531.5 307.4M541.9 304.1L540.4 308.1M548.6 304.9L546.7 308.4M555.8 303.9L558.1 307.6M567.5 304.4L564.1 307.9M573.7 304.2L573.6 308.2M582.8 304.2L584.5 308.5M588.5 303.6L590 307.7M601 304L598.4 308.1M606.4 303.9L606.4 308.4M616.8 303.2L616.9 307.9M627.2 304.3L625.1 308.2M632.6 304.2L632.7 308.5M643.9 303.9L642.1 308.1M650.1 303.3L648.3 307.6M660.6 304.4L658.1 308M666.6 304.7L669.2 307.8M677 304.5L674.1 307.7M684.1 303.7L684.5 308.1M693.4 304.8L690 307.9M703 304.3L700.7 308.1M710.8 304L708.2 307.3M717 303.7L719.4 307.4M728.5 303.4L728.1 308.1M735.2 304.1L732.4 307.7M744.9 303.8L744.7 308.1M752 304.6L755 307.8M760.2 304.7L763.5 307.6M767.8 303.5L770.5 307.2M777.8 304.1L780.3 308.2M783.7 304.7L786.9 307.9M794.2 304.6L797.1 307.5M802.2 303.3L801.9 308.2M811.7 304.3L809.5 308.2M821.8 304.9L818.7 308.5M829 304.4L831.5 308.2M838.9 304.6L836.7 308.3M455.6 312.4L458.5 316.1M463.7 312.4L466.4 315.6M473.1 311.7L473.2 316M483.1 312.2L479.4 315.3M491.4 311.2L491.8 315.7M500.7 311.5L500.5 316.3M508.8 310.5L509.1 315.3M516.7 312.4L513.8 316.2M525 312.3L527.4 315.5M532 311.1L531.5 315.5M542.1 312.1L538.8 315.4M550.4 310.8L548.7 315.3M560.3 311.8L558 315.8M565.8 311.4L568.3 315.6M573.8 311.7L576.8 314.6M584.5 312L587 316M593.5 311.2L591.1 315.2M600.9 312.1L603.4 315.3M608.2 312.4L610.8 315.7M618 311.5L618.1 315.9M628.2 312.6L624.6 315.8M635.7 311L637.3 315.1M646.3 311.1L643.8 315.2M652.6 311.6L650.6 315.2M659.5 311.4L661.8 315.3M668.9 311.8L668.8 316.6M676.5 311.2L678.6 314.8M687.4 311.4L685.3 314.8M694.4 312.1L692.9 316M704.9 310.9L702.8 315.1M712.6 310.9L712.8 315.8M720.7 311.8L722.3 315.8M729.8 312.4L726.7 315M736.6 311.6L739 315.4M747.6 312.4L743.9 315.6M756.3 312.5L753.9 315.8M763.4 312.1L760.8 315.3M770.1 311.5L769.8 316.3M779.2 310.6L779.5 315.4M789.4 311.9L785.9 315.1M796.9 311.8L799.8 314.7M807 311.5L805.5 316M815.7 311.2L813.9 315.6M823.9 310.8L823.6 315.2M829.4 312L831.5 315.5M840.2 312L837.6 316.1M453.4 320L455.9 323.1M460.1 319.3L462.7 322.6M473.9 319.4L471.2 323.4M479.9 319.2L477 322.2M487.6 318.5L487.6 322.8M499.2 319.4L496.6 322.8M505.8 319.3L503.3 323.2M514.8 319.6L511.9 323.4M523.5 319L520.7 322.7M531.8 320.2L528.9 323.6M539 318.7L541.3 322.4M546.2 319.2L549 322.8M555.4 319.3L557 323.4M565.3 319.6L562.6 323.3M571 319.3L573.9 322.6M582.4 319.8L580.2 323.5M591.3 319.4L588.8 322.6M598.5 319.4L596.2 323M605 319.3L607.4 323.4M618.2 319.6L615.4 323M626.1 319.1L625.7 323.2M633.9 320.3L631.2 323.5M641.2 318.4L640.8 322.7M649.5 319.1L649.3 323.1M659.1 319L658.9 323.9M669.6 320L666.9 323.8M672.7 319.6L675.7 323.2M684.6 319.7L681.9 322.7M693.9 319.2L690.9 321.9M698.4 319L701.6 322.6M706.5 319.3L709.2 322.6M719.4 318.2L719.1 322.9M727 318.8L728.5 322.6M732.6 320.1L735.8 323.4M743.2 319.2L742.9 323.4M752.6 319.9L749.9 323.7M763.2 320.2L760.2 323.4M770.8 319.7L769.3 323.6M777.9 318.8L777.8 322.9M786.3 319.1L786.2 323.3M792.9 319.4L796.1 322.6M805.6 319.2L801.9 322.4M808.7 318.8L811.1 322.8M819 319.9L820.6 323.9M828.5 320.2L826 323.5M839.4 319.9L836.5 322.9M458.9 326.7L458.5 331.1M468.6 327.7L465.8 330.9M476.9 326.7L474.7 330.2M485.4 327.5L482.5 330.7M490.4 326.5L489 330.7M498.5 326.9L500.5 330.4M509.1 326L508.8 330.8M517.1 326.4L513.7 329.9M525.8 326.5L523.1 330.3M534.9 326.5L532.3 329.8M542.6 326.9L540.6 330.4M553.1 326.9L550.7 330.3M560.2 327.3L557.7 330.8M569.7 327.2L567.6 330.8M576.8 326.7L576.8 331.4M581.9 326.6L585 330.4M592.3 326.8L594.9 330.6M601 327.6L603.6 331.1M611.4 326.7L609.3 330.6M618.6 326.6L617.1 330.4M626.3 327.6L628.4 331.2M633.1 327L635.7 330.1M646.3 327.9L643.5 330.9M653 327.5L650.9 331.3M660.4 326.9L662.9 330.2M667.4 326.9L670 330.2M680.1 326.5L678 329.9M687.3 327.4L684.5 330.9M695.9 326.1L695.6 330.6M704.9 327.3L702.3 331M709.8 327.6L711.8 331.3M719.6 326.6L722 330.1M729.3 327.1L732.3 330.4M740.3 327.4L737.9 331.1M746.8 327.4L745.3 331.4M755 326.6L752.5 329.8M763.9 326.4L763.6 330.9M771.1 327.6L773.4 331.3M780 326.8L782 330.4M787.5 327.3L790.3 330.2M797.3 327.3L795 330.9M806.6 327L804 330.5M816.7 326.4L815.1 331M821.1 327.2L823.7 330.9M831.7 326.8L828.3 329.9M841.1 327.1L841 331.9M455.2 334.4L455.5 339M463.7 334.5L462.2 338.5M473.2 334.3L470.9 338.3M480.3 334.7L478.4 338.4M485.9 335.1L489 338.8M495.4 334.1L497.1 338.2M505.5 335.2L502.8 338.4M513.4 334.2L513.1 338.9M523.3 334.7L523.1 339.4M530 333.7L530.1 338.2M538.8 334.4L541.8 337.5M549.9 334L547.3 337.6M556.3 335.4L553.7 338.6M563.7 334.2L566.4 337.4M570.3 334.1L573.9 337.4M584.2 334.6L581.3 338.5M589.7 334.3L591.2 338.5M598.8 334.8L600.8 339M606.6 334.6L606.3 339.1M613.7 334.3L616.9 337.9M624.7 335.6L621.3 338.5M630.8 334.5L631.2 339.2M640.4 334L642.8 338M647.2 335.3L649.8 338.4M657.7 334.7L658.1 339.4M663.5 334.9L666.1 338.7M673.8 334.5L676.1 338.8M682.6 334.3L682.5 338.7M690.1 334.2L693 338.1M702.8 334.1L700.3 338.2M709.7 333.8L711.1 337.9M717.1 334.4L720.2 338.1M727.6 334.7L725.5 338.1M736.2 335L734 338.6M744.9 334.8L741.8 337.6M750.1 334.1L750.3 338.5M758.3 334.6L761 337.7M769.8 333.9L767.1 337.8M777.6 334.4L777.5 339.2M784.3 333.8L786.5 337.6M792.7 334.3L792.7 339M805.1 334.9L801.8 338.3M813.7 334.8L810.9 338.3M820.2 333.4L820.4 338.1M826.8 335.5L830.1 338.4M837.7 334.7L834.7 337.5M456.5 342.7L458.4 346.6M465 342L465.2 346M474.1 342.2L474.4 346.8M480.5 343L483.9 346.2M490.7 341.6L490.9 346.2M500.3 341L500.4 345.7M508.7 342L505.7 344.9M516.5 341.4L516 346.2M524.7 342.3L528.1 345.8M534.6 342.3L531.7 345.8M540.3 342.6L543.3 345.6M552 342.3L551.7 346.9M558.8 342.4L559 346.5M566.3 341.9L569 345.3M578.1 342.3L576.2 345.9M585.2 342.3L582 345.2M592.9 341.7L595.3 345.7M600 341.9L602.1 345.5M608.7 341.8L610.7 345.4M621.1 341.9L618.8 346.1M628 341.2L627.8 345.5M634.3 342L637.4 344.7M644.9 341.7L645 345.7M650.9 341.7L653.2 345.1M661.4 341.9L664.3 345.3M671.7 342L669.9 345.6M676.6 342.4L679.4 346M686.2 342.5L686.6 346.8M696.7 342.6L696.8 346.7M702.7 341.5L702.6 346.3M712.8 341.9L712.8 346.5M720.9 342.4L720.5 346.5M727.1 342.1L729.8 345.6M735.3 342.5L737.8 346.5M746.9 341.8L746.7 346.2M753.7 341.4L754.1 346.1M764.7 342L762.3 346.3M771.1 341.4L773.3 345.4M781.5 341.6L781.9 346.5M788.2 342.1L790.8 345.2M794.5 341.6L797.3 345.2M807.1 343L804.5 346.3M815.1 341.8L812.3 345.5M824 343.1L821.1 346.3M828.5 342.3L831 345.9M840.2 342.5L842.1 346.1M455.2 349.7L455.4 354.5M463 349L460.6 353.2M473.2 349.2L471.6 352.9M480.2 349.7L477.9 353.5M487.4 349L487.2 353.5M496.9 350.2L499.7 353.4M506.1 350.4L503.2 354.2M511.3 349.4L514.3 353M521.6 349.8L521.8 354.1M530.2 349.7L529.9 354.2M541.1 350.2L538.2 353.5M546 350.3L548.8 353.7M556.7 349.3L553.4 352.6M565.1 350.5L568 354.1M571.2 350.8L574.3 353.8M579.5 350.6L581.7 354M589.1 349.4L590.7 353.4M598.6 350.5L601.3 353.5M608.3 349.7L608.1 354.5M616.4 349.8L613.6 353.1M623 350.1L624.5 354.4M631.5 349.3L634.2 353M639 350.4L641.8 353.7M650.4 349.9L653 353.9M656.9 350.3L659.5 354M669.5 350L667.3 353.7M675.4 348.8L675.6 353.3M686.5 350.5L684.2 354M694 349.9L693.7 354.1M702.5 349.4L699.3 352.9M711.2 350.4L708.3 353.5M717.2 350.1L719.5 354M724.2 350.8L727.3 353.5M735.6 349.6L733.2 353.3M742.9 350.3L745.3 353.8M751.3 349.7L751.6 354.6M760.4 348.9L760.4 353.4M770.5 350L767.9 353.8M775.1 350L778.1 352.8M788.1 350.4L785.6 353.6M794.9 349L794.8 353.3M804.5 348.6L804.8 353.4M813.1 349.2L810.9 352.7M817.3 349.8L819.9 353.5M829.8 349.2L829.3 353.9M835.6 349.7L836.9 353.6M454.9 357L457.7 360.6M464.5 357.2L462.8 361.2M473.9 357.4L471.2 360.9M481.8 356.9L482 361.2M492.6 358L489.8 361.3M500.2 357.8L497.5 361.5M508.3 357.5L505.4 361.1M512.5 357.7L514.8 361.1M521.5 357.5L523.9 361.5M530.8 357.7L532.7 361.5M540.6 357.2L540.8 361.6M546.5 357.1L549.2 360.3M555.1 357.6L557.1 361.2M566.5 357.3L563.6 361M575.8 356.5L576.3 360.6M584.4 357.4L584.3 362.2M590 356.8L590.2 361.4M598.2 357.3L601.2 361M610.5 357.7L607.2 360.4M617.5 358.1L615.1 361.6M624.2 357.8L627.5 361.4M634.5 357.8L631.6 361.1M642.5 357.1L642.2 361.3M652.2 356.6L649.9 360.4M660.4 357.2L658 360.8M668.6 357.1L668.5 361.4M676.1 356.7L675.7 361.2M685.9 357.2L683.5 361.1M694.1 358.4L691.2 361.3M701.6 356.7L701.8 360.8M712.1 358L709.5 361.5M719 356.6L719.4 361.5M724.9 357.9L727.8 361.8M736.3 356.8L734.3 360.4M741.6 357.3L744.9 360.8M752.5 357.5L752.3 362.1M761.3 357.1L764.4 360.9M768.2 357.3L771.2 361.1M777.7 357.3L777.5 361.4M786.7 357.7L788.6 361.3M793.1 358.1L795.8 361.4M803.3 356.8L803.2 361.2M810.2 357.2L812.9 360.8M818.8 356.6L821.6 360.4M829.4 357.7L832.5 361.4M838 357.9L840.9 361.6M453.7 365.1L455.9 368.8M464.4 364.4L461.5 368.2M473.3 364.8L470.5 368.3M480 364.8L482.5 368.8M490.5 364.7L488 368.6M498 364.8L500.5 368.6M506.2 365L508.9 369M517.3 365.5L514.7 369.3M525.1 365.8L521.7 368.9M530.8 365.7L534.3 368.6M539.5 365.2L542.9 368.5M548.2 366L551.5 369M559.6 365.6L556.9 368.9M564.9 365.4L568.5 368.5M573.5 365.3L576.6 368.3M580.3 365.3L583.4 368.4M594.1 365.3L590.6 368.5M601.9 365.1L601.9 369.4M609.5 364.4L609.7 368.7M615.1 365.2L618.6 368M623.1 365L625.6 369.1M635.8 364.4L633.2 368.5M643.2 364.8L641.5 368.8M651.9 365.2L649.9 369.2M659.1 365.1L661.4 368.6M667.8 365.3L668.2 369.4M677.5 364.3L677.2 369M685.2 365.4L687.8 369.1M696.2 364.9L693.5 368.7M703.3 365.7L700.9 369.2M709.8 364.3L712.3 368M721 364.9L718.2 368.4M729.6 365.4L727.3 368.9M736.8 364.2L736.5 368.3M744 364.2L744.3 368.8M752.6 363.9L752.5 368.6M762.9 365.3L760.4 368.8M772.6 364.4L769.4 368M777.3 365.5L779.8 369M788.5 364.5L788 369.3M793.5 365.5L795.3 369M805.5 364.6L805.2 369.4M811.4 365.4L813.7 369.2M820.2 364.4L821.8 368.6M830.6 364L828.9 368.5M838.3 365.1L840.8 368.8M457.3 372.9L457.7 376.9M468.4 372L465.2 375.6M475.9 372L475.7 376.8M482.3 372.4L482.8 377.2M492.9 371.9L491.3 375.6M500.2 371.5L500.1 376M511.4 371.8L508.9 375.8M515.9 372.9L518 376.5M526.4 372.3L526.1 376.4M537.2 372.1L534 375.5M544.3 372.3L540.8 375.3M550.4 372.3L550.1 376.3M558.4 372.7L558.2 377M569.2 372.6L566.5 376.6M575.6 373.2L578.4 376.8M582.7 372.2L584.8 376.4M596.4 372.1L594.3 375.9M603.7 372.3L603.8 376.6M613.3 372.6L609.8 375.6M617.7 372.1L620.3 375.8M626.4 372.3L626.7 376.5M635.8 372.6L638.5 376.2M647.2 372.9L645.5 376.9M651.3 372.3L653.4 376.4M661.3 372L664.6 375.6M667.8 372.1L670.8 375.8M679.3 372.8L681.5 376.5M686.8 372.2L686.4 376.7M697 372.4L697.3 377.2M703.2 372.1L705.1 376.4M713 371.9L711.1 375.9M723.6 372.7L721 376.8M728.5 371.5L728.2 376.1M736.4 372.3L739.2 376.1M747.8 373L745.4 376.6M756.8 372.4L756.8 376.7M763.5 371.9L765.8 375.6M775.1 373.3L772.2 376.3M781.5 372.2L781.1 376.9M788.6 372.3L786.9 376.5M795.6 372.3L797.8 376.4M805.9 372.7L806.3 377.2M816 371.9L813.2 375.5M824.6 372.6L822.1 376.3M833.9 372.4L831 376M457.3 380.5L455 383.8M465.6 379.6L465.8 383.7M472.8 379.7L472.7 383.9M482 380.3L484.1 384.1M491.1 379.7L490.9 384.1M496.6 379.7L499.5 383.2M508.5 380.1L505.8 383.9M517.2 380.8L514.8 384.2M527.4 379.7L524.1 383.3M534.7 380.4L532.4 384.3M544.5 380.6L542 384.1M548.8 379.2L549.1 383.8M559.5 379.9L557.4 383.5M565.4 380.3L568.1 383.4M577.6 379.5L574.5 383.2M582.5 381.1L585.5 383.8M592.7 379.4L590.8 383.7M602.5 380.3L602.6 385M611.2 380.5L608.3 383.8M618.6 380.7L621.3 384.2M628 379.7L624.8 383.5M637.2 380.2L634.7 383.8M642.5 380.2L645.4 383.7M653.5 379.3L653.1 384.1M660.1 380.7L662 384.4M667.3 380.6L669.3 384.2M675.2 380.5L677.5 384.8M686.7 379.8L689 383.2M695.7 379.3L696 384.2M704.4 380.8L702.3 384.4M712.7 380.5L710.5 384M722.5 379.4L719.6 383.2M728.6 379L728.5 383.7M737.1 380.6L736.8 384.7M745.4 381L748 384.3M752.7 380L754.6 383.8M764.2 380.8L761 384M770 380.4L772.2 384.3M781.3 380.1L779.2 383.6M789.2 380.1L787.3 383.7M796 380.6L798.3 384.3M804.7 379L804.4 383.7M815.9 380.4L812.7 383.3M824.8 380L821.2 383M829.5 380.4L829.9 384.7M838 378.9L838.3 383.8M451.4 387.8L448.9 391.4M459.5 387.2L459.4 392M466.8 387.1L466.7 391.6M479 387.6L475.9 390.6M484.8 387.2L486.5 391.3M493.6 387.1L493.2 391.6M502.1 387.7L501.7 391.9M508.8 387.1L511 390.8M521.1 387.9L519.7 391.9M524.7 388.3L527.5 391.6M538.2 387.9L535.6 391.6M542.8 387.9L546 391.1M552.6 387.8L552.5 391.9M563.7 387.6L560.5 390.2M572.1 387.5L569.5 391.5M577.7 387.5L578.1 391.7M586.8 388.2L584.6 391.6M595.4 387.4L595.8 392.2M602.9 387.8L605.4 392M611.5 387.3L613.1 391.4M623.5 388.2L621.1 392.2M630.2 388.6L627.2 391.5M638.6 387.7L636.8 392M648.5 388.2L645.5 391.1M657 387.9L655.2 392.1M665.4 388L661.6 391.2M671.9 387.4L669.8 391M682 387.5L681.8 391.8M689 388L687.4 392.4M698.2 387.7L698.2 392.5M706.3 387.1L708.7 391.2M713.2 388.2L715.5 392.1M722.2 387.4L721.8 391.5M732.9 388.2L729.9 391.7M741.2 386.8L740.9 391.5M747 387.4L750.3 390.4M756.2 387.2L758.2 391.6M766.4 388.3L763.8 392M776.9 388.3L774.3 391.4M784.6 387.1L781.9 391.1M791 387.9L790.7 392.7M801.7 388.1L799.2 391.7M809 387.2L809.2 391.3M818.2 387.8L814.5 390.8M825.4 387.4L827.1 391.5M831.7 387.3L833.9 391.1M455.9 395.2L456.2 399.9M468.1 394.9L466.5 398.7M472 395.3L474.6 398.4M483.9 395.3L484.2 400M490.6 395.5L492.9 399.4M498.9 395.4L500.6 399.7M507.7 395.7L509.1 399.4M519.3 396L516.7 399.2M522.8 396L525.3 399.5M532.4 395.4L535.1 398.6M542 395.7L539.8 399.9M552.4 394.9L552.7 399.2M559.4 395.9L556.7 399.6M569.3 395.6L568.9 400.2M574.5 395L577.2 398.3M586.6 395.8L583.2 399.1M591 395.5L593.7 398.8M601.6 395.5L604.7 398.3M611.1 395L611.4 399.4M619 394.6L617.4 399.1M626.4 395.4L628.8 399.5M637.6 395.5L637.4 399.7M643 394.9L645.3 398.9M652.3 395.4L654.3 399.3M662.6 394.6L661.1 398.5M668.2 395L671.2 398.6M676.2 395.8L678.6 400M687.6 395.5L683.9 398.5M696.1 394.6L696.2 399.2M701.8 395L704.2 399M714.3 395.3L712.2 398.9M721.1 395L723.8 398.7M730.1 395.1L730.6 399.8M740.2 395.1L737.5 398.1M745.8 395.6L747.4 399.7M753.5 395.2L755.5 398.8M762.5 394.2L762.4 399.1M774.2 395.7L771.5 398.9M781.4 394.6L781.5 399.2M791 395.9L787.8 398.6M799.5 395.4L796.5 399.1M808.8 395.8L805.5 398.5M811.6 394.8L814.3 398.8M823.2 395.1L820.9 399M832.3 395.3L832.3 399.5M837.7 395.1L840 398.5M456.2 402.7L458.8 405.9M466.4 403.2L468.8 407.4M472.7 403.4L475.4 407.2M480.9 402.7L483.4 406M492.3 402.2L490.6 406.2M502 403L499.9 406.6M510.7 402.6L510.4 407.2M517.6 402.8L520.5 406.3M528.6 402L526.6 406.4M532.3 403.1L535.1 406.5M544.8 402L544.5 406.7M550.8 402.7L554 406.4M558.1 403L560.3 406.7M568.1 403.4L570.7 406.6M576.9 402.4L576.7 406.6M583.9 403.8L587.3 406.6M595.3 403.7L592.9 407.2M601.7 403.4L604 406.9M613.3 402.5L610.8 405.9M621.5 403.6L617.8 406.8M628.1 402.5L625.7 405.7M639.4 403L637.1 406.6M643.1 403.4L645.3 407.4M653.8 403.4L651.9 407.4M659.7 403.4L662.9 406.2M670.9 403L668.9 406.6M682 402.6L678.7 405.6M687.2 403.3L690.7 406.4M693.2 403.2L696.6 406.3M704.5 402.9L707.3 406.2M713.1 402.7L715.9 405.6M724 403.6L721.6 407.1M729.5 403.7L732.5 406.5M740.7 403.5L738.6 407.4M748.5 402.9L747.1 406.8M754.4 403.2L754 407.6M766.9 403.3L763.8 406.6M773.6 402.5L774.1 407M778.8 403.8L782.2 406.9M792.8 403.1L789.9 406.7M800.8 403.5L797.8 407.1M807.4 402.4L804.8 406.2M814.5 403.4L816.2 407.4M826 403.3L823.1 407.1M831.8 402.9L834.4 406.9M448.9 409.8L450.5 413.8M460.4 411.3L457 414.4M468.8 411.2L465.6 414.8M476.5 410.5L473.8 413.8M485.2 411.2L488.2 414.8M496.4 410.8L494 414.4M504.8 410.9L502.7 414.7M509.5 411.5L513.1 414.7M518.1 411L520.6 414.9M526.5 410.8L529.3 414.4M534.7 410.2L537.5 413.9M545.6 409.7L545.9 413.8M553.2 411.1L550.2 414.7M559.9 410.2L562.3 414.3M572.5 410.2L570.2 414.4M579.8 410.6L579.5 414.9M587.8 409.9L586.1 413.9M594.7 410.2L597.1 414M601.3 410.7L604.2 414.2M613.4 411.1L610.3 414.1M621 411.3L618.4 414.6M630.2 409.7L628.3 413.9M640.8 410.4L638.2 413.7M647.4 411.3L644.7 414.5M654.1 410.1L656.4 413.6M665.9 410.8L664.2 415.3M674.8 410.6L671.7 414.1M679.9 411L679.8 415.2M691.2 410.1L688.9 414.3M695.9 410.9L698.5 414.1M708 410.7L705.3 414.7M714.7 410.6L714.6 415.5M723.2 409.8L721.2 413.8M731.7 410.5L731.6 415.2M741.6 409.6L739.4 413.9M749.1 410.3L751.3 414.1M755.3 410.5L757.2 414.2M765 410.4L765 415.1M774.5 411.2L777 414.9M783.1 410.1L781 413.9M791 410.4L791.3 414.5M798.1 411L799.8 415.1M807.9 409.6L807.8 414.5M815 410.1L818 413.6M825.9 410.2L824.5 414.1M833 410.1L835.5 413.7M456.1 417.5L458.9 421.2M465.3 417.5L465.5 421.8M474 418.3L476.9 422.1M481.7 417.7L483.9 421.5M492.8 418.1L490.2 422M502.8 417.9L499.8 421.7M510 418.9L507.3 422.2M516.5 417.2L516.5 421.9M524.7 418.2L527.8 421.2M535.4 419.2L532.1 422.2M541.8 417.4L544.2 421.6M554.2 418.3L551.7 421.5M560.9 417.8L558.5 421.9M566.4 418.2L569.5 420.9M577.5 417.9L577.6 422.1M587.4 417.5L587.2 422.4M594.3 418.4L591.7 422.2M603.6 418.1L601.3 422.3M611.5 418.8L609.2 422.4M617.3 418L619.7 421.6M630.3 417.9L627.1 420.9M638.5 418.5L635.5 421.6M644.9 418.5L645.3 422.7M654.2 417.6L652.4 421.7M662.4 418.7L659.7 422.1M668.3 418.7L670.3 422.3M678.8 417.6L678.5 422.4M688.4 418.2L686.3 422.5M696.5 417.9L699.2 420.9M704.8 418.5L704.6 422.7M715.7 418.6L713 422.3M720.8 417.6L721 422.2M731.2 417.8L731.4 422.3M737.3 417.6L737.5 422.2M749.9 418.9L747.1 422M755.3 418L758 421.6M763.1 417.3L763 421.8M771.9 417.3L771.9 421.8M781 417.6L783 421.2M791.4 417.6L789.7 421.9M798 418.5L801.2 421.9M806.9 418.3L807.3 422.7M816.4 417.6L814.6 421.4M824.3 418L821.2 421.1M831.2 418.3L834 421.5M456.8 424.9L456.5 429M463.5 425.2L466.1 429.2M471 426.2L474.2 429.6M479.8 425.4L482.9 429M489.6 425.4L489.3 429.5M497.6 426.2L495.8 430.1M505.4 425.5L508.5 429.2M517.1 426.4L514.1 430.1M520.1 426.2L523.5 429.5M533.9 425.6L531 428.9M541.4 425.9L541.8 430.5M546.5 426L549.3 429M556 425.5L558.4 429.1M564.9 425L565.2 429.5M572.5 425.3L575.1 429.4M580.7 425.9L583.2 429.7M591.4 424.7L591.6 429.5M599.7 424.9L600.1 429.1M610.7 426.1L607.9 429.4M618.8 426L616.5 429.9M626.9 426.1L624 429.2M634.8 426.4L632.5 430M641.3 426.6L644.9 430M648.7 426.2L651.6 429.9M658.4 425.4L658.3 430.1M667 425.7L667.3 430.1M674.4 426.1L677.3 429.8M682.5 425.4L684.6 429.3M691.1 425.3L693.2 428.9M703 426L703 430.4M710.7 424.8L710.6 429.1M717.6 425.8L720.2 428.9M728.5 425L726.1 428.8M736 426.2L733.6 430M746.7 425.2L744.4 429.1M750.3 425.6L753.2 429.1M761.8 426.4L758.6 429.6M769.3 425.4L767.3 429.5M779.1 425.8L779.3 430M786.9 425L784.9 429.3M793.3 426.4L796.3 429.6M802.7 425.7L802.4 430.1M813.2 424.9L812.9 429.6M820.6 425.6L817.9 428.8M832.5 426L829.1 429.2M837.4 426.3L835 430M451.2 433.5L449.3 437.4M459.1 433.4L461.8 437M466.6 433L466.8 437M476.7 432.9L476.7 437.4M487.1 433.7L484.1 437.4M493.5 433.3L492 437.6M501.7 433.9L503.4 437.8M512.1 432.7L508.9 436.4M516.8 434.1L520 436.8M528.7 432.5L528.2 437.2M535.2 433.1L537.9 437.2M541.8 432.8L544.4 436.7M550.5 433.8L553.1 437.6M559.7 433.3L561.8 436.9M568.7 433.5L570.9 437.3M578.6 434.1L575.8 437M585.2 433.5L588 436.9M593.5 433.9L596.5 436.8M603.9 433.1L606.6 436.4M612.8 432.9L615.4 436.7M620.1 433.7L620.2 438M630.9 434L627.5 437.2M636.4 433.6L638.8 437.6M646.6 433.5L644.6 437.1M652.9 432.9L656 436.2M661.6 432.8L663.8 436.7M672.3 434L669.1 436.8M680.1 433.5L683.1 436.9M689.6 432.9L689.3 437.1M696.8 433.5L699.4 436.8M708.1 434.2L705.6 437.5M714.1 432.9L714.5 437.3M724.1 433L721.5 436.2M731 433.3L729.3 437.2M740.4 434L737.2 436.7M747.3 433.7L747.7 437.8M759.4 433.1L756.8 436.4M767 433.2L764 436.9M772.7 433.3L775.9 436.8M782.6 434.1L785.4 437.3M793.6 433.5L791.2 437.6M798.8 433.1L798.9 438M807.7 433.5L807.7 438M817.2 432.3L816.8 437.1M822.8 433.4L825.2 437M835.8 433.1L832.3 436.2M454.2 441.5L454 445.5M463 441.7L465.1 445.1M474.5 440.3L472.1 444M482.9 441.2L480 444.6M490.2 440.4L490.2 445.2M496.3 440.2L495.9 444.8M508.2 441.4L506.1 445.5M516.4 440.6L513.8 444.3M522.6 440.6L522.4 444.9M528.3 441.6L531.7 444.3M539.9 441.6L537.3 445.1M549.9 440.5L547.6 444.3M556.5 441.3L558.4 445M566.6 441.1L564.4 444.7M575.8 441.5L573.8 445M583.3 440.4L583.5 444.4M591.7 440.6L588.7 443.7M599.2 440.8L602.3 444.2M608.6 441.4L606.8 445M615.8 440L617.9 444.3M626.5 441.4L624.4 445M633.4 440.4L636.3 444M641.9 440.9L642.3 445M653.3 440.7L650.5 444.3M660.4 440.8L660.5 445.3M667.3 440.3L667 444.7M677 441L677.5 445.7M684.3 441.4L682 445.1M692.6 440.8L691 444.8M701.8 441.3L703.8 445.3M711.3 440.1L711.7 444.8M719.6 440.2L719.3 445M725.6 440.6L728.7 444.4M734.2 441L736.9 444.5M742.4 440.9L744.9 444.9M751.7 441.4L752 445.5M762.3 440.2L760.8 444.1M767.4 441.3L769.7 444.7M777.8 440.7L775.4 444.7M789.3 440.6L786.3 444.5M795.5 440.8L793 444.1M803.3 441.8L806 445.1M811.5 440.6L809.6 444.9M819.2 441L822.6 444.4M830.9 441L828.3 444.8M836.7 441L837 445M456.1 447.7L456.3 451.9M466 448.6L465.8 452.9M475.3 449.2L473.1 452.8M480.5 448.1L483.7 451.5M489.1 447.9L488.9 452.3M496.8 448.9L499.1 452.8M508.5 448.7L505.4 451.7M515.5 448.5L518.6 451.3M525 447.4L525.5 452.1M534.7 448.4L533 452.9M541.8 448.3L539.3 451.6M548.6 448.4L551.4 451.7M559.6 448.2L557 452.2M567.9 448.2L568.1 452.3M573.4 448.4L575.3 452.4M582.7 449.3L585.1 452.7M590.9 448.2L592.9 452.1M597.7 448.2L601.2 451.2M608.9 448L609.4 452.8M619.3 448.9L616.6 452.4M625.5 448.3L626.9 452M634.8 447.9L636.5 451.5M640 447.9L643 451.5M650.5 448.3L650.9 452.8M660.7 448.9L659.2 453.1M670.8 447.8L669.4 451.8M676.2 448.7L676.7 453.2M687 447.8L685.4 451.9M694.4 448.2L691.3 451.9M702 448.9L700 453M709 448.2L711.5 451.4M719.4 448.5L719.1 452.9M730.5 448.9L728.4 453M736.2 448.8L733.6 452.1M746.8 448.5L744.1 451.7M755 447.7L755 452M762.9 449.3L759.3 452.3M768.1 448.8L771 452.3M781.4 448.5L779.3 452M788.2 447.7L787.8 452.1M796.4 448.6L793.9 452.3M806.2 448.1L803.7 451.6M815.5 448.3L812.8 451.6M821.6 449.5L818.3 452.5M829.2 447.9L830.8 451.9M837.1 448.7L839.3 452.4M456.6 456.5L459.1 460.4M465.4 456.4L467.7 460.1M476.2 456.6L473.5 460M484.2 456.2L484.1 460.8M491.1 455.3L490.9 459.4M500.2 457.2L496.9 460M510.3 455.5L509.9 460M517 455.9L517.2 460.3M526 456.2L525.9 460.9M534.2 455.4L534 459.6M543.5 455.7L543.3 460.1M550.4 455.9L552.5 459.7M561.9 456.4L559.3 460.2M567.5 455.6L567.5 460.1M578.3 455.7L576.1 459.7M587.4 456.9L584.9 460.5M593.2 457.1L596.5 460.1M599.2 457.2L602.1 460.2M609.2 455.4L609.4 459.8M616.5 455.5L619.5 459.1M626.3 456.5L629 460.4M639 456.1L635.8 459.6M643.4 456L645.6 460.3M651.4 455.7L653.9 459.1M662.4 456.4L660.3 459.9M668.8 456.3L669.3 460.5M679.7 456.4L679.5 460.9M689.8 456.7L686.8 460.3M695.7 456.7L698.2 459.9M702.5 456.1L706 459.2M714.6 456.2L711.7 459.8M722.2 455.7L721.8 460M726.7 456.5L729.3 460.5M737 456.7L740 460.3M748 456.3L746.2 459.9M756.1 456L756 460.5M765 456.8L761.4 459.9M774.5 456.6L770.9 459.6M779.4 456.3L781.2 460.6M789.7 456.1L789.6 460.6M797.3 455.2L797 459.6M806.8 455.3L807 459.6M814.6 456.4L811.9 460.1M824.2 456.3L823.9 460.6M829.4 455.9L831.9 460.1M452.9 464L455.6 468.1M460.2 464.2L463.2 467.4M470.7 462.6L470.6 467.3M476.8 464.8L479.8 467.5M490.6 464.4L488.3 467.8M498.5 464L498.2 468.2M507.9 464.4L505.1 467.3M513 463.7L515.5 467.6M523.1 464.4L520.1 467.2M532.6 464L529.5 467.7M539.6 464.2L541.9 468M550.2 463.3L547.9 466.7M554.7 463.7L557.2 467.9M565.7 464.6L563.1 467.9M575.9 464.5L573.8 468M582.1 464.4L584.8 467.7M589.4 463.7L591.4 468M599.4 463.8L597.2 467.8M605.4 464.3L607.3 467.9M618.6 463.8L615.1 467M624.3 463.3L626.8 467.4M631.6 464.8L634.8 467.5M640.4 463.6L642.1 467.9M648.6 464.1L648.3 468.4M659.6 463.3L659.8 467.7M664.3 463.9L667.5 467.2M673.1 463.4L676.3 467M682.6 464.1L685 467.9M691.6 463L691.8 467.2M701.6 463.9L701.8 468.6M709.1 463.2L709.4 467.3M719.8 463.6L716.9 467M726.4 462.9L724 467.2M732.4 463.4L735.2 467.2M744.4 463.1L744.6 467.2M751.2 462.8L751.3 467.4M762.6 464.3L759.9 467.6M770.6 464.3L767 467.2M776.9 464.2L780 466.9M785.6 463.9L785.7 468.3M794.4 463.4L791.7 466.8M804.6 464L801.7 467.6M810.8 463.2L810.6 467.7M822.6 464.1L819.7 467.8M828.7 464L826 467.2M837.1 463L839.9 466.9M451.3 471.5L448.7 475.6M462.6 471.1L460 474.9M466 471L467.8 475.5M475.4 471.9L477.7 475.5M485.4 470.6L485.2 474.9M492.9 471.4L493.4 476.3M500.4 471.8L503 475.9M510.1 472L513.4 474.9M521.7 470.4L520.1 474.8M529.8 472.1L527.1 475.5M535.1 471.4L534.8 475.6M544.7 471.5L547.6 475.1M552.9 471.2L555.1 475M564.9 471.2L561.7 474.8M571.5 472.1L568.7 475.5M581.3 471.6L578.6 475.4M587.6 471L589.9 474.4M595.8 471.7L598.5 475.6M603.3 472L606.3 475.7M611.2 470.7L613.1 474.6M619.1 472L622.3 475.2M628.7 472.1L631.6 475.5M640.1 470.6L637.4 474.8M644.5 471.3L646.9 475.3M654.7 470.7L657 474.5M662 471.5L665.4 475.1M673.2 471.6L670.7 474.9M679.2 471.1L679.5 476M690.1 470.6L689.7 475M696.7 470.8L699.2 474.8M703.8 471L706 474.5M712.3 471.4L714.4 475.4M721.7 470.9L724.5 474.2M734.2 471.7L731.1 475.3M741.2 471.4L740.9 476.2M746.9 471.2L750 474.5M757.4 471.5L754.6 474.8M765.4 472.1L768.5 474.9M772 470.8L775.4 474.3M781.9 471.1L783.5 475.5M790.7 471.7L793.7 475M800.5 471.3L797.9 475.4M808 470.8L809.7 475M814.4 471.1L817.9 474.2M826.9 470.7L826.9 475.3M833.7 471.7L831.7 475.3M457.2 478.5L454.5 482.3M464.8 479.3L461.3 482.3M473.9 479L473.7 483.6M481.2 479L481 483.2M491.1 478.9L488.6 482.6M498.2 479.3L499.9 483.3M506.4 479.6L509.4 482.8M516.4 478.6L514.9 482.5M524.7 478.2L524.5 482.4M532.3 478.6L529.7 481.7M539.8 479.4L541.8 482.9M550.3 479.2L548.7 483M558.8 479L557.2 483.4M566.5 478.9L564.3 483M576.7 478.9L573.6 482.6M586 479.4L582.4 482.6M591.7 478.8L591.9 482.9M598.9 479.4L601.5 483.5M609.9 478.3L607.8 482M619.7 478.5L616.3 481.8M626 479.5L627.5 483.4M633.5 478.4L635.6 482.2M644.6 479.4L642.7 483.5M648.4 478.2L650.9 482.3M658.3 479.1L660.7 483.1M666.6 477.8L666.7 482.6M677.7 478.8L676 482.8M686.2 479.5L684.1 482.9M693.3 477.9L693.7 482.8M701.4 478.7L704.4 482.3M710.7 479L710.2 483.9M721.2 479.4L717.8 482.9M726.9 478.9L725 483.4M735.5 479L733.3 482.9M746.8 479.3L743.9 482.7M751.3 479.1L751.5 483.5M762.2 479.6L763.7 483.3M772.1 478.6L769.6 482.5M779.6 478.3L777.7 482M789.3 479.4L787.1 483.3M796.8 478.2L796.6 482.4M801 479.6L804.2 482.7M813.1 478.2L813.2 482.4M823.7 478.9L820.3 481.7M827 479.3L828.9 483.1M839.5 478.3L837.1 482.5M456.2 487L459.4 489.7M468.5 487.7L465.2 490.3M473.1 486.2L475.3 489.9M482.9 485.7L480.9 490.1M491.4 485.9L493.6 489.6M499.3 486.2L501.9 490.1M507.3 486.3L506.9 490.5M517.8 486.2L516.2 490.6M523 486.7L525.8 490.1M536 487.1L533.1 490.6M540 487.4L543.5 490.8M547.7 486.2L550.8 489.9M560.8 486.6L560.4 491.4M569 486.6L568.6 491.4M576.7 485.9L575.1 490.1M584.8 486.3L586.7 489.8M591.8 486.5L591.8 491.2M601.4 485.7L601.7 490.1M608.2 485.8L610.9 489.6M617.9 486.5L619.4 490.6M630.2 486.2L626.9 489.3M636.9 486.4L634.6 490.3M645.5 486.5L643.2 490.4M652.8 486.7L649.5 489.9M661 486.3L663.1 489.8M668.4 486.6L671.6 489.4M679 485.7L679.1 490M685.5 486.9L688 491M696.2 486.3L694.3 489.8M705.9 486.3L703 489.5M715 487L712.2 490.1M719.2 485.8L720.8 489.7M727.8 487.1L729.4 490.9M737.6 487.3L740.2 490.5M747.6 486.3L747.4 490.4M754.4 485.9L755.8 490M763.1 485.9L763 490.3M772.8 487.4L769.9 490.2M779.7 485.6L779.8 490.2M785.6 485.7L788.5 489.7M796.9 486.9L799.8 490.4M803.9 486.4L806.5 489.5M813.4 487.7L816.5 490.2M822.5 486L822 490.6M827.9 486.5L831.4 489.5M840.5 486.2L840.2 490.5M450.4 494.3L452.9 498M456.5 494.9L458.8 498.4M466 493.9L468.3 498.1M476.1 493.9L478.8 497.9M484.9 494.7L482.6 498.2M493.8 494.4L494.2 498.4M500.6 493L500.2 497.6M507 494.3L510.3 497.2M521.2 494.9L517.8 498.1M528.9 494.1L526.2 498.1M534.1 494.1L537 497M545.4 494.5L543.4 498.7M553.5 493.9L551.4 497.8M561 494.9L558.1 498.5M566.7 494.6L569.4 497.7M577.6 493.5L577.8 498.2M586.7 493.9L584 497.7M595.1 494.8L593.6 498.5M602.5 494.1L605.4 497.1M610.9 494.3L612.5 498.3M623.6 493.7L620.8 497.1M629.3 494.2L628.9 498.8M637 493.2L637.2 497.6M648.4 494.3L646.8 498.2M653.8 494.2L656.8 497.6M660.6 494L663.3 497M671.7 493.8L669.8 497.9M681.1 494.1L678.9 497.8M686.1 494.3L688.3 498M699.5 494L697.7 497.8M706 494.4L707.7 498.8M714.7 494.4L716.7 498.5M720.6 494.2L723 498.3M733.3 494.7L730.5 497.9M738.3 494.8L741.7 497.7M747.8 493.5L747.5 498.1M755.4 494L755.3 498.3M765 494.6L765.2 498.6M776.7 493.7L773.6 497.1M782.2 494.7L784.9 497.8M792.2 493.8L792 498.7M801.4 494.3L798.6 497.9M808.6 494L808.5 498.5M816.8 494.1L817.2 498.5M827.2 493.7L825.2 497.4M830.9 494.3L833.5 497.6M454.8 501.6L456.9 505.2M463.7 501.6L465.8 505.2M475.5 501.2L472.8 504.8M482 501.8L484.7 505.3M489.3 501.3L488.9 505.6M498.2 500.7L498.4 505.6M506.6 501.1L508.9 504.7M517.4 500.7L517.2 505.4M522.6 502.1L524.8 505.8M533.3 501.8L535.1 506.4M541.9 502.1L539.7 505.6M550.3 501.2L550.7 505.8M558.4 501.9L558.5 506.5M569.8 502.4L567.3 505.6M575.9 502.2L578.1 505.6M585.8 501.6L583 504.9M590.9 501.7L594.4 504.9M599.5 502.4L601.7 506.1M607.3 501.8L609.7 505.6M620.6 502.1L616.9 505.1M627.1 501.6L624.7 505.5M636.1 502.4L633.4 505.7M641.1 501.8L642.9 506.3M651.9 501.7L649.1 504.9M659.6 501.4L661.4 505.3M669.1 501.3L667.1 504.8M677.4 502.4L680.6 506.1M686 501.9L686.1 506.2M692.7 501.4L696.2 504.6M703.4 501.9L701.6 506.2M709.6 501.5L711.8 505.4M720.4 501.7L717.2 505.4M728.8 502.5L726 506.1M737.6 501.2L735.8 504.7M742.8 501.2L745.1 505M751.7 502.6L754.4 505.9M762.4 501.2L760.2 505.4M772.5 501.9L769.8 506M778.2 502L781.1 506M787.9 501.4L787.8 505.6M795 500.8L795 505.4M803.6 501.4L806.5 504.7M816.2 502L813.9 505.7M822 501.6L819.9 505.8M831.3 501.3L829 504.7M836.5 501.6L839.4 505M453.7 508.8L456.2 512.3M463.9 508.9L461 512.8M473.6 508.9L470.6 512.3M482.5 509.4L480.7 513.9M488 508.8L489.9 512.5M497.4 508.8L499.9 512.2M507.4 509.2L504.6 512.5M516.1 510.1L512.7 513M523.3 510.5L520.2 513.1M531.7 508.8L531.7 512.9M540.4 509.7L540.2 514M548 508.8L548 513.6M557.9 509.2L558.3 513.4M565.3 510.1L563.4 513.7M576.5 510.1L573.9 513.6M584.3 509.1L582.5 513M593 509.7L589.8 512.6M599.2 508.4L599 513.1M606.5 508.9L606.4 513M617.8 508.8L615.5 512.4M627.2 509.2L624 511.8M632.9 508.8L634.7 512.4M641 509.2L640.8 513.3M652.6 509.9L649.3 512.7M659.4 508.5L656.9 512.5M666.9 509.6L664.5 513M676.7 509L674.2 512.6M685.8 509.4L685.4 514.2M693.9 508.7L694 512.9M702.6 509.2L702.9 513.3M712.1 508.7L709 512.5M718.2 509.1L721 512.7M726.7 509.3L723.6 512.9M734.4 509.8L737.3 513.3M740.5 510.1L743.9 512.9M751.1 508.9L750.9 513.5M758.4 509.9L761.2 513.8M771.7 509.5L769.4 512.7M778.9 508.7L778.8 513.4M785.7 508.5L787.3 512.6M794.3 508.6L792.5 512.7M805.2 510.1L802.9 513.4M814.7 509.2L811.8 512.4M820.4 508.9L817.5 512.4M829.5 509.7L827.2 513.5M835.2 508.6L837.3 512.6M451.6 516.4L451.5 521.1M459 516.5L458.6 521.2M469.5 516.4L467.7 520.1M477.5 516.5L479.2 521.1M486.1 516.5L486.4 521M495.5 517L492.8 520.5M503.3 515.9L503.5 520.4M511.1 517.7L508.6 521.2M520.5 516.8L520.3 521.5M530.5 517.1L528 520.4M537.6 517.3L534.5 520.8M546.4 516.1L546.1 520.5M551.3 517.6L554.3 521.3M559.7 516.5L562.3 519.7M569.9 516.7L572.8 520.1M576.9 517.7L579.2 521.1M585.1 517L587.7 520.3M594.9 517L597.9 520.5M603.1 516.8L606.5 519.7M614.2 516.2L612.2 520.6M623.2 517.9L619.9 520.7M631.5 516.7L628.7 519.9M636.2 516.9L638.4 521.2M646.8 517.2L648.3 521.2M654.6 516.5L656 520.5M666.3 516.4L664.2 520M673.1 516.2L671.3 520.2M679.8 516.5L679.8 521.1M690.5 518.1L687.2 520.9M696 516.6L698.7 519.8M705.3 517L708.1 520.6M712.6 517.6L715.9 520.5M726.2 516.5L723.9 520M729.3 517.9L732.7 521.1M741.4 516.3L738.8 520.2M749 516.1L751.3 520.3M758.6 517.2L757.1 521M763.7 517.2L767.3 520.5M777.7 516.7L774.9 520.2M781.1 516.5L783.6 520M791.8 516.6L788.9 520.1M801.5 517.5L801.1 521.5M806.5 516.8L810 519.8M818.4 517.7L815.2 520.4M822.5 517L826.1 520.2M833.7 517.9L836.9 520.7M456.3 524.6L456.1 529.4M463.6 525L466.1 528.1M474 523.8L472.2 528.1M483.1 525.1L480.2 528.4M489.7 524.5L489.7 528.9M499.9 524.3L499.9 528.4M505.5 524.4L508.4 527.4M515.3 524.8L517.3 529.1M526.2 524.2L523.8 527.6M532 524.6L531.9 529.3M540.4 525L540.6 529M547.3 524.5L550 528.2M558.5 524.3L558.1 528.5M565.3 524.2L565.5 528.5M576 524.9L573.2 528M582.9 524.9L582.9 529.3M593.6 524.6L590.8 528M600.6 524.1L600.7 528.5M611.7 524.4L609 527.6M618.7 524.7L618.4 528.7M625.1 524.6L627.3 528.5M635 523.8L636.7 528.2M642.7 524.6L645.1 527.9M652.4 524.5L652.8 528.6M660.4 525L658.3 528.4M667 524.1L670.1 527.3M678.8 524.1L676.2 527.8M688.6 525.5L685.5 528.5M697 525L694.3 528.5M701 524.7L704.1 527.9M713 524.1L710.7 528.4M721.9 524.9L719.7 528.7M729.5 524.5L727.3 528.8M735.9 524.2L739 527.9M745.1 525L742.1 528.4M752.1 525L754.5 528.2M761 524.2L760.6 528.8M769.1 525L771.9 528.5M780.3 523.8L780.4 527.9M785.7 525L788.1 528.5M796.1 524.4L799 528M806.2 524.5L803.3 528.1M814.3 525L811.7 529M822.6 524.4L820.5 528M831 524.2L831.2 528.7M839.8 524.5L837.5 528.3M448.8 531.7L451.4 535.2M459 531.3L459 536.1M467 531.5L466.9 535.7M474.7 531.7L477 535M486.1 533.3L483 536.1M495.3 532.5L492.5 535.8M504.3 532.6L502.9 536.7M511.8 532.8L509.4 536M519.5 532.3L521.8 535.7M525.3 531.9L528.5 535.4M535.7 532L539 535.5M544 531.6L543.5 536.4M553.1 532.1L552.7 536.3M559 532.1L562 535.8M570.4 531.9L567.4 535.5M579.9 532.1L577.1 536M589 531.5L589 535.6M595.2 531.8L595 536.2M607.4 531.7L604.7 535.6M612.5 532.3L612.5 536.4M622.2 531.7L619.6 535.4M631.4 531.9L628.3 535M639.5 532.8L636.6 536.4M645.7 531.9L649.1 535M654.7 531.8L654.8 535.9M665 532.4L662.6 535.8M674 531.8L672.1 536.2M680.8 532.1L680.5 536.4M686.6 532.4L689.5 536.4M698.2 531.7L695.2 535.3M706.4 532.2L708.6 535.6M713.7 531.6L716.3 535.2M722.7 532.2L722.5 536.9M733.8 531.8L731 535.1M739.8 531.6L741.4 536M749.3 531.6L749.7 535.7M757.7 531.9L757.3 536.2M765.7 531.6L763.3 535.1M775.1 532.1L772.6 535.6M784.6 531.4L782.9 535.6M791.3 532.4L788.8 536.7M798.9 532.1L799.2 536.5M806.7 533.1L809.6 536M815.4 532L817.3 535.5M825.2 532.3L827.4 536.3M832.5 531.6L832.7 535.8M453.7 539.1L455.4 543.5M464 539.5L463.7 544.3M469.2 539.3L470.8 543.8M482.2 540.5L479.4 543.7M488.1 540.2L486.3 544M496.4 539.3L496.5 544.2M505 539.4L506.5 543.2M513.8 539.4L514.3 544.2M522 539.9L522.3 544.4M532.7 540L529.7 543.6M538.9 538.9L538.5 543.2M546.5 539.9L546.4 544.4M555.9 539.6L558.3 542.8M565.2 538.6L565.7 543.2M571.6 539.4L573.4 543.5M582 540.1L580 544.4M590.5 539.3L587.5 542.9M600.8 540.1L597.5 543.6M610 539.8L606.8 542.7M616 539L615.7 543.5M625.3 539.6L621.9 542.8M632 539.7L632.2 543.9M640.7 539.8L640.7 544.3M649.3 540.4L652.3 543.9M657.7 539.5L657.6 543.8M667.2 539.7L667.1 544.4M677.3 539L674.9 543.1M683.9 539.9L687 543M692.1 539.4L693.5 543.6M701.9 539.4L701.6 543.8M711.9 539.7L709.5 543.3M720.6 539.6L717.4 542.2M726 539L725.7 543.5M734.9 540.4L731.8 543.8M745.4 539.1L743.2 542.8M751.7 539.4L748.9 543.4M761.2 539.5L761.1 544M767.4 539.5L769.3 543.8M774.4 540.5L777.9 543.6M782.9 540.4L786.2 544M793.8 539.4L793.4 543.6M805.4 539.8L803.2 543.3M812.7 540L809.8 543.4M819 538.9L818.8 543.5M830 540.1L826.8 543.7M836 540L838.6 543.3M456.5 546.8L457 551.4M468.3 547.2L466 550.7M475.1 547.2L472.9 550.7M481.1 547.2L483.8 550.5M491.9 547.3L490.3 551.1M501.8 546.5L501.9 551.1M510.2 547L507.7 551.1M518.7 547.1L516.3 550.6M525.3 547.1L528.7 550.2M536.2 547.1L535.7 551.4M541.4 546.9L543.8 551.2M551.3 547.6L549.4 551.8M560.6 546.6L560.4 550.8M568.8 546.8L565.9 550.7M579.2 547L577.5 551.2M586 547.4L585.6 551.3M594.8 547.3L591.5 550.6M602 546.8L601.6 550.9M610.4 547.6L613.1 550.7M622.3 547.3L619.9 550.7M629.3 547.5L626.2 550.8M634.8 546.9L635.1 551.6M645.8 546.9L643.1 550.1M653.2 546.9L651 551M660.8 547L660.8 551.3M671 547.1L671.1 551.2M680.1 547.6L679.7 551.6M687.3 547.7L688.8 552M696.2 547L693.3 550.5M703.6 547.9L706 551.5M711.9 546.7L711.5 551.1M719.3 547.6L722.4 551.2M730 547.4L730 552M735.7 546.8L738.3 550.6M746.3 547.8L748.8 551.9M753.2 546.6L755.2 550.7M765.4 547.2L765.3 551.6M771 547.2L773 551.6M780.8 547.4L782.4 551.2M790.6 546.8L790.2 551.1M797.2 547.5L797.3 551.6M806.3 547L808.2 551.1M812 547.4L815 550.9M824.8 548L822.3 551.1M833.4 547.3L830.6 551M451.9 554.5L454.7 558.1M461.7 554.7L465 557.6M470 555.5L470.4 559.5M480 554.4L479.8 558.6M487.8 555.2L489.8 558.9M494.8 554.8L496.9 558.4M505.2 555.3L502.5 558.4M512.1 554.5L511.6 558.8M521.8 554.7L522 559M532.6 555.4L529.5 559M538.6 555L540.6 558.5M545.3 554.6L547.5 558.4M557.3 555.4L554.8 558.6M562 555.2L564 558.8M572.7 554.2L570.6 558.1M580.9 554.6L578.8 558.2M591.3 555.4L588.9 559.4M599.9 554.3L597.8 558.1M605.4 555.5L609 558.7M613 555L614.4 559.3M623.6 555.3L626.2 558.7M633.4 554.5L633.1 559M641.5 555.1L638.8 558.2M647 555.2L648.5 558.9M660.5 554.9L657.5 558.4M668.8 555.5L665.5 558.8M675.8 555.4L672.9 559.2M682 555.6L684.6 558.7M691.3 554.4L691 558.8M700.2 554.7L702.6 558.6M708.3 555.2L708.1 559.4M715.7 554.7L716 559.4M727.1 555L725.3 559.5M732.7 555.3L734.7 558.9M743.9 554.7L741.4 557.9M749.5 554.1L749.7 558.6M760.3 555L762 559.5M769 554.4L769.5 559.1M775.5 555L778.8 558.5M784.2 555.3L786.7 558.9M794.1 553.8L794 558.7M802.6 554.9L804.7 558.5M809.3 555L810.9 559.4M820.1 555L820.1 559.8M827.3 554.7L829.4 558.9M837.3 554.9L835.2 558.8M455.3 561.9L455.2 565.9M462.4 562.4L460.1 565.9M471.4 561.9L471.3 566.1M478.7 562.2L481.7 565.5M487.9 563.2L490.2 566.5M497 563L499.6 567M506.5 562.2L503.9 566M515 561.9L511.9 565.5M522.9 561.7L521.3 566.1M530.1 562L529.8 566.8M540.6 562.2L540.3 567.1M546.4 562.9L549.7 566.1M554.7 563.4L557.6 566.4M566.4 563.2L564.4 566.7M575.3 562.6L573 566.3M580.7 563.1L583.7 566.6M591.5 562.4L591.8 566.5M597.2 561.9L598.9 565.6M608.8 562.2L608.7 566.4M615.3 562.9L618.1 566M622.3 563.1L625.8 566.3M631.5 562.3L634.2 565.4M640.5 562L640.9 566.7M650.9 562.1L647.8 565.7M658.3 562.3L660.7 566.2M669.7 562.8L666.3 565.8M673.9 562.6L676.8 566.2M683.7 562.5L680.8 566M691.6 563L694.1 566.3M698.4 563.2L701.1 566.5M709.5 561.6L707.8 566.1M720.7 562.5L717.5 565.4M726.5 563L724.6 566.6M734.5 561.6L736.3 566.1M742.4 562.1L742.4 566.4M753.1 562.3L750.9 566M763 562.5L759.5 565.6M766.3 563.2L769.4 566.2M775.8 562.9L778.5 566.6M785 562.3L785.4 566.5M793.6 562.5L796.1 566.6M801.4 562.5L803.5 566.4M811.5 563L813.9 567.1M821.3 562.7L818.7 566.3M829.1 561.9L827.6 565.8M839.4 562.5L837.1 566.3M452.1 570.8L448.8 573.7M458.4 569.9L461.9 573.3M467.1 569.8L465.2 574.1M476.2 569.8L477.9 574M485.9 570.6L483.3 573.6M493.6 570.3L490.4 573.4M499.8 570L502.6 573.1M510 569L509.8 573.6M517.3 570.7L519.4 574.2M527 570.4L527.1 574.7M537.7 569.8L535.1 574M541.5 569.7L543 573.9M553.8 570.2L553.8 574.9M560.4 570.2L562.8 574.3M566.6 570.4L569.2 573.8M577.3 569.8L579.4 573.7M586.7 570L586.3 574.3M594.5 569.5L597.1 573.2M604.6 570.1L602 574.3M612.8 569.2L613.1 573.6M619.6 569.9L622 573.5M629.9 570.1L629.6 574.9M636 570.9L638 574.4M644.3 570.3L646.1 573.9M651.7 569.9L654.7 573.6M665.4 570.6L662.4 574.4M671.8 570.2L673.4 574.1M678.3 570.2L678.4 574.8M690 571.1L687.1 573.9M696.3 570.7L698.8 574.4M704 570.1L707.3 573.4M714.8 570.4L711.6 573.9M722.9 569.6L723.3 574M731.4 569.8L731.3 574.6M739.2 570.3L736.3 574M747.9 570L745.2 573.8M755.8 569.5L757.7 573.9M766.5 569.9L764.3 573.3M773.9 570L771.3 574.2M779.1 570.1L781.5 573.7M790.4 570.7L787.3 574.1M796 571L798.5 574.4M805.9 569.4L805.8 573.7M816.9 569.4L814.2 573.4M823.8 569.5L825.9 573.3M833.3 570.2L832.8 574.8M448.6 577.7L448.9 582.6M456.6 577.9L458.9 582.1M466.7 578.6L469 582M476.3 577.6L475.9 581.9M484.9 577L484.7 581.4M490.1 578L492.4 581.8M500.1 577.6L501.8 581.3M510.5 578.5L507.8 582.1M521.4 577.5L518.2 580.6M524.8 577.6L527.6 581M533.1 578.2L535.9 581.3M544.7 578L542.6 581.7M549.9 577L552.3 580.9M559.6 578.2L559.8 582.3M569.4 577.6L569.6 581.6M575.2 577.8L577.6 581M588.6 577.2L587 581.1M596.6 577.8L593.9 581.2M603.9 577.9L601.5 581.8M613.2 578L610.6 581.7M621.3 577.1L618.7 580.8M628.7 577.5L628.6 582.2M639.5 577.5L636.3 581.2M648.8 577.5L645.7 581.1M655.7 577.9L655.9 582.1M663.7 576.6L663.7 581.4M671.5 577L671.2 581.1M676.8 577L679.7 580.9M689.3 577.7L687.1 581.6M696.4 576.7L696.4 581.4M703.9 577.4L707.3 580.8M715 577.9L715 582.3M722 578.4L719.8 582.1M730.1 577.9L732.2 581.4M741.4 577.7L737.7 580.7M748 577.1L746.7 581M755.2 578.2L757.3 581.7M766.3 577.7L763.3 580.5M774.8 577.6L772.1 580.7M783.9 577.1L781.2 580.8M789.1 577.7L791.6 581.3M798.7 577.4L795.9 581.1M809.7 578.1L806.4 581.1M816.3 578.2L813.8 581.5M821.7 577.9L824.7 581.2M833 578.6L831 582M456 584.6L455.9 588.6M464.3 584.8L461.9 588.5M472.2 584.4L472.5 588.9M481.4 584.7L478.9 588.6M489 585L490.5 588.9M497.5 584.9L495 588.9M506.2 584.9L503.9 588.3M513.3 585.4L513 589.5M523.1 584.2L523.2 589.1M529.5 585.8L532.6 588.7M539.6 586L542.5 589.5M549.6 585.7L547.5 589.3M554.5 586.2L557.3 589.4M564.1 585.9L567.2 589.5M574.1 586.1L576.9 589.3M584.1 585L580.9 588.2M590 584.3L589.7 589M599 585L600.5 588.8M609.1 584.6L606.3 588.6M615.4 585L615.3 589M626.6 584.7L624.3 588.3M634.8 585.4L635.1 589.4M640.6 586L643.3 589.3M651.8 584.9L652 589.7M658.8 584.8L658.6 588.8M667.2 585.5L669.8 589.6M673.5 585.8L676.6 588.3M687 584.9L684.6 588.2M690.9 585.3L694 588.4M700.1 585L702.2 588.4M708.8 585.2L710.9 588.7M721.3 585.2L719.1 589.1M724.8 585.8L727.7 588.6M736.2 585.3L738.2 589M747.1 585.6L744.4 589.2M753.7 584.5L753.6 588.8M759.6 585.7L762.6 589.5M771.1 584.7L771.5 589M775.2 585.7L778.1 589.3M787.3 585L783.8 588.1M796.5 586.2L793.8 589.4M802.8 585.3L806.2 588.2M810.4 586.3L813.9 589.1M819.9 584.5L820.1 588.9M831.1 585.9L828.2 589.9M837.9 585.4L840.6 588.8M456.3 592.4L458.5 596.8M465.8 593L468.4 596.5M475.4 593L471.8 596.3M485.6 593.3L483.7 597.4M492.2 593.3L489.3 596.9M500.3 593.2L497.4 596.8M509 593.5L506.9 597.4M520.2 592.6L517.8 596.8M528.3 592.6L526.4 596.1M535.9 593L533 596.6M544.9 593.1L542.6 597.3M550.6 593.2L553.6 596M558.8 592.9L561 596.7M568.9 592.4L567 596.8M579.2 593.5L576.1 597.2M584.7 592.8L586.8 596.1M592 594L594.8 596.8M603.2 593.2L600.2 596.8M611.4 592.7L611.1 597.1M619 591.7L619.4 596.6M630.5 593.5L627.5 597.1M636.5 593.7L639.3 597.2M646.2 592.5L643.1 595.7M654.5 592.1L652.4 596.2M664.7 593.4L662.2 597.6M669 593.1L672 596.9M678.2 592L678.1 596.8M690.2 593.7L687.5 597.1M697.2 592.8L697.2 597.6M702.4 593.2L705.7 596.4M712.2 593.2L715.2 596.3M720.7 592.3L723.3 596.2M727.3 592.5L730.2 596.1M739.4 593.5L736 596.8M744.8 592.5L748.1 596.1M756.1 592.5L756 597M766.1 593.3L763.5 596.7M772.4 593.5L774.2 597.3M782.5 593.2L781 597.2M790.2 593L791.7 597.1M796.6 593.3L797 597.5M805.9 592.3L805.5 596.3M816.4 592.7L814.2 596.1M823.1 593.2L821.6 597.7M832 592.6L832.3 597.1" stroke="#7e7e7e" stroke-width=".72" fill="none"/></g>
<path d="M455.8 392.7 V420.6 H697 A76 76 0 0 1 773.3 496 V577 A17 17 0 0 0 790 594 H831.3" class="edge"/>
<path d="M567.6 149.5 H629.5 V256.5 H567.6" class="edge"/>
<path d="M455.8 469.8 L697 469.8 A27 27 0 0 1 724 497 L724 546 A16 16 0 0 1 708 562 L708 501 L455.8 501 Z" class="edge"/>
<path class="site" d="M107.5 45.3 L831.3 45.3"/>
<path class="site" d="M107.5 45.3 L107.5 501 L708 501 L708 987.3 L831.3 987.3 L831.3 45.3"/>
<line class="site" x1="708" y1="983" x2="831.3" y2="983"/>
<path d="M708 952.2 A30.8 30.8 0 0 1 738.8 983 M708 983 A30.7 30.7 0 0 1 769.4 983 M769.4 983 A30.7 30.7 0 0 1 831 983 M800.5 983 A30.8 30.8 0 0 1 831.3 952.2" fill="none" stroke="#7a7a7a" stroke-width=".8"/>
<line class="site" x1="124.2" y1="45.3" x2="124.2" y2="501" style="stroke-width:1.8;stroke:#c8c8c8"/>
<line x1="128.4" y1="45.3" x2="128.4" y2="498" stroke="#555" stroke-width="1" stroke-dasharray="38 3.8"/>
<path d="M149.4 76.3 L567.6 76.3 L567.6 392.7 L409.7 392.7 L409.7 470.2 L325.5 470.2 L325.5 392.7 L251.1 392.7 L251.1 206.9 L149.4 206.9Z" style="fill:#fff" class="w"/>
<path class="w2" d="M251.4 164.6 L251.4 82.1 L155.1 82.1 L155.1 201.4 L251.4 201.4"/>
<path class="w2" d="M247.7 164.6 L247.7 85.8 L158.6 85.8 L158.6 197.2 L247.7 197.2"/>
<path class="w2" d="M258.3 164.6 L258.3 83.1 L560.7 83.1 L560.7 385.8 L396.6 385.8"/>
<path class="w2" d="M262.4 164.6 L262.4 86.7 L556.8 86.7 L556.8 381.5 L396.6 381.5 L396.6 393.5 L400.4 393.5 L400.4 420.7 L409.7 420.7"/>
<path class="w2" d="M248 198.6 L262.4 198.6"/>
<path class="w2" d="M258.5 198.6 L258.5 385 L362.9 385"/>
<path class="w2" d="M262.4 198.6 L262.4 381.6 L296.4 381.6"/>
<path class="w2" d="M298.7 381.6 L359 381.6"/>
<path class="w2" d="M330.9 392.7 L330.9 464.3 L405.5 464.3 L405.5 455.8 L409.7 455.8"/>
<path class="w2" d="M362.9 351.5 L362.9 396.6 L334.4 396.6 L334.4 460.4 L400.4 460.4 L400.4 455.8"/>
<path class="w2" d="M359 351.5 L362.9 351.5"/>
<path class="w2" d="M359 351.5 L359 381.6"/>
<path class="w2" d="M330.9 392.7 L362.9 392.7"/>
<line x1="247.7" y1="164.6" x2="262.4" y2="164.6" stroke="#333" stroke-width="1.8"/>
<rect class="w2" x="262.4" y="239.5" width="132.1" height="4.3"/>
<rect x="325" y="243.8" width="2.3" height="38.9" fill="#444"/>
<rect class="w2" x="262.4" y="315.5" width="65.4" height="4.6"/>
<rect x="296.6" y="335" width="1.9" height="46.6" fill="#666"/>
<line class="fd" x1="297.5" y1="320.1" x2="297.5" y2="335"/>
<path class="w2" d="M327.3 270.4 L394.5 270.4 L394.5 282.7 L389 282.7 L389 274.5 L368 274.5 L368 282.7 L358 282.7 L358 274.5 L332 274.5 L332 282.7 L327.3 282.7"/>
<rect x="341.2" y="75.7" width="26.3" height="11.6" fill="#fff"/>
<rect x="341.2" y="76.3" width="26.3" height="10.4" fill="none" stroke="#b0b0b0" stroke-width=".8"/>
<line x1="341.2" y1="81.5" x2="367.5" y2="81.5" stroke="#9a9a9a" stroke-width=".8"/>
<line x1="341.2" y1="76.3" x2="341.2" y2="86.7" stroke="#444" stroke-width="1"/>
<line x1="367.5" y1="76.3" x2="367.5" y2="86.7" stroke="#444" stroke-width="1"/>
<rect x="338.4" y="79.1" width="2.8" height="4.8" fill="#fff" stroke="#555" stroke-width=".8" rx="1"/>
<rect x="367.5" y="79.1" width="2.8" height="4.8" fill="#fff" stroke="#555" stroke-width=".8" rx="1"/>
<rect x="219.8" y="196.6" width="28.9" height="10.9" fill="#fff"/>
<rect x="219.8" y="197.2" width="28.9" height="9.7" fill="none" stroke="#b0b0b0" stroke-width=".8"/>
<line x1="219.8" y1="202.1" x2="248.7" y2="202.1" stroke="#9a9a9a" stroke-width=".8"/>
<line x1="219.8" y1="197.2" x2="219.8" y2="206.9" stroke="#444" stroke-width="1"/>
<line x1="248.7" y1="197.2" x2="248.7" y2="206.9" stroke="#444" stroke-width="1"/>
<rect x="217" y="199.7" width="2.8" height="4.8" fill="#fff" stroke="#555" stroke-width=".8" rx="1"/>
<rect x="248.7" y="199.7" width="2.8" height="4.8" fill="#fff" stroke="#555" stroke-width=".8" rx="1"/>
<rect x="438.6" y="380.9" width="25.8" height="12.4" fill="#fff"/>
<rect x="438.6" y="381.5" width="25.8" height="11.2" fill="none" stroke="#b0b0b0" stroke-width=".8"/>
<line x1="438.6" y1="387.1" x2="464.4" y2="387.1" stroke="#9a9a9a" stroke-width=".8"/>
<line x1="438.6" y1="381.5" x2="438.6" y2="392.7" stroke="#444" stroke-width="1"/>
<line x1="464.4" y1="381.5" x2="464.4" y2="392.7" stroke="#444" stroke-width="1"/>
<rect x="435.8" y="384.7" width="2.8" height="4.8" fill="#fff" stroke="#555" stroke-width=".8" rx="1"/>
<rect x="464.4" y="384.7" width="2.8" height="4.8" fill="#fff" stroke="#555" stroke-width=".8" rx="1"/>
<rect x="299.5" y="381" width="12.8" height="12.3" fill="#fff"/>
<rect x="299.5" y="381.6" width="12.8" height="11.1" fill="none" stroke="#b0b0b0" stroke-width=".8"/>
<line x1="299.5" y1="387.1" x2="312.3" y2="387.1" stroke="#9a9a9a" stroke-width=".8"/>
<line x1="299.5" y1="381.6" x2="299.5" y2="392.7" stroke="#444" stroke-width="1"/>
<line x1="312.3" y1="381.6" x2="312.3" y2="392.7" stroke="#444" stroke-width="1"/>
<rect x="296.7" y="384.8" width="2.8" height="4.8" fill="#fff" stroke="#555" stroke-width=".8" rx="1"/>
<rect x="312.3" y="384.8" width="2.8" height="4.8" fill="#fff" stroke="#555" stroke-width=".8" rx="1"/>
<rect x="356.4" y="459.8" width="14.6" height="11" fill="#fff"/>
<rect x="356.4" y="460.4" width="14.6" height="9.8" fill="none" stroke="#b0b0b0" stroke-width=".8"/>
<line x1="356.4" y1="465.3" x2="371" y2="465.3" stroke="#9a9a9a" stroke-width=".8"/>
<line x1="356.4" y1="460.4" x2="356.4" y2="470.2" stroke="#444" stroke-width="1"/>
<line x1="371" y1="460.4" x2="371" y2="470.2" stroke="#444" stroke-width="1"/>
<rect x="353.6" y="462.9" width="2.8" height="4.8" fill="#fff" stroke="#555" stroke-width=".8" rx="1"/>
<rect x="371" y="462.9" width="2.8" height="4.8" fill="#fff" stroke="#555" stroke-width=".8" rx="1"/>
<rect x="250.5" y="249.5" width="12.5" height="24.7" fill="#fff"/>
<rect x="251.1" y="249.5" width="11.3" height="24.7" fill="none" stroke="#b0b0b0" stroke-width=".8"/>
<line x1="256.8" y1="249.5" x2="256.8" y2="274.2" stroke="#9a9a9a" stroke-width=".8"/>
<line x1="251.1" y1="249.5" x2="262.4" y2="249.5" stroke="#444" stroke-width="1"/>
<line x1="251.1" y1="274.2" x2="262.4" y2="274.2" stroke="#444" stroke-width="1"/>
<rect x="254.3" y="246.7" width="4.8" height="2.8" fill="#fff" stroke="#555" stroke-width=".8" rx="1"/>
<rect x="254.3" y="274.2" width="4.8" height="2.8" fill="#fff" stroke="#555" stroke-width=".8" rx="1"/>
<rect x="250.5" y="337.9" width="12.5" height="20.8" fill="#fff"/>
<rect x="251.1" y="337.9" width="11.3" height="20.8" fill="none" stroke="#b0b0b0" stroke-width=".8"/>
<line x1="256.8" y1="337.9" x2="256.8" y2="358.7" stroke="#9a9a9a" stroke-width=".8"/>
<line x1="251.1" y1="337.9" x2="262.4" y2="337.9" stroke="#444" stroke-width="1"/>
<line x1="251.1" y1="358.7" x2="262.4" y2="358.7" stroke="#444" stroke-width="1"/>
<rect x="254.3" y="335.1" width="4.8" height="2.8" fill="#fff" stroke="#555" stroke-width=".8" rx="1"/>
<rect x="254.3" y="358.7" width="4.8" height="2.8" fill="#fff" stroke="#555" stroke-width=".8" rx="1"/>
<rect x="556.2" y="325.5" width="12" height="28.6" fill="#fff"/>
<rect x="556.8" y="325.5" width="10.8" height="28.6" fill="none" stroke="#b0b0b0" stroke-width=".8"/>
<line x1="562.2" y1="325.5" x2="562.2" y2="354.1" stroke="#9a9a9a" stroke-width=".8"/>
<line x1="556.8" y1="325.5" x2="567.6" y2="325.5" stroke="#444" stroke-width="1"/>
<line x1="556.8" y1="354.1" x2="567.6" y2="354.1" stroke="#444" stroke-width="1"/>
<rect x="559.8" y="322.7" width="4.8" height="2.8" fill="#fff" stroke="#555" stroke-width=".8" rx="1"/>
<rect x="559.8" y="354.1" width="4.8" height="2.8" fill="#fff" stroke="#555" stroke-width=".8" rx="1"/>
<rect x="556" y="113.3" width="16.5" height="73.3" fill="#fff"/>
<line x1="556.8" y1="113.3" x2="567.6" y2="113.3" stroke="#333" stroke-width="1.1"/>
<line x1="556.8" y1="186.6" x2="567.6" y2="186.6" stroke="#333" stroke-width="1.1"/>
<rect class="fu" x="564.4" y="113.3" width="7" height="73.3"/>
<line class="fu" x1="566" y1="113.3" x2="566" y2="150"/>
<line class="fu" x1="568.5" y1="113.3" x2="568.5" y2="150"/>
<line class="fu" x1="565.2" y1="150" x2="565.2" y2="186.6"/>
<line class="dl" x1="560.4" y1="114" x2="560.4" y2="186"/>
<rect x="404" y="421.5" width="8" height="33.8" fill="#fff"/>
<line x1="400.4" y1="420.7" x2="409.7" y2="420.7" stroke="#333" stroke-width="1.1"/>
<line x1="400.4" y1="455.8" x2="410.5" y2="455.8" stroke="#333" stroke-width="1.1"/>
<line x1="173" y1="85.8" x2="173" y2="197.2" stroke="#888" stroke-width="1.1"/>
<line class="dl" x1="189.2" y1="86" x2="189.2" y2="197"/>
<rect x="158.6" y="155.6" width="29.4" height="2" fill="none" stroke="#666" stroke-width=".8"/>
<line x1="158.6" y1="88.7" x2="188" y2="88.3" stroke="#a0a0a0" stroke-width=".7"/>
<line x1="158.6" y1="97.7" x2="188" y2="98.3" stroke="#a0a0a0" stroke-width=".7"/>
<line x1="158.6" y1="103.9" x2="188" y2="108.1" stroke="#a0a0a0" stroke-width=".7"/>
<line x1="158.6" y1="114.2" x2="188" y2="113.8" stroke="#a0a0a0" stroke-width=".7"/>
<line x1="158.6" y1="135.5" x2="188" y2="135.5" stroke="#a0a0a0" stroke-width=".7"/>
<line x1="158.6" y1="142.6" x2="188" y2="143.4" stroke="#a0a0a0" stroke-width=".7"/>
<line x1="158.6" y1="151.1" x2="188" y2="147.9" stroke="#a0a0a0" stroke-width=".7"/>
<line x1="158.6" y1="160.9" x2="188" y2="161.1" stroke="#a0a0a0" stroke-width=".7"/>
<line x1="158.6" y1="166.9" x2="188" y2="168.1" stroke="#a0a0a0" stroke-width=".7"/>
<line x1="158.6" y1="182.5" x2="188" y2="185.5" stroke="#a0a0a0" stroke-width=".7"/>
<line x1="158.6" y1="191.5" x2="188" y2="187.5" stroke="#a0a0a0" stroke-width=".7"/>
<path class="dl" d="M219.2 86 L219.2 165 L247.7 165"/>
<rect class="fu" x="229.4" y="85.8" width="18.3" height="38.8"/>
<line x1="264.5" y1="149.8" x2="264.5" y2="199.3" stroke="#aaa" stroke-width=".9"/>
<rect class="fu" x="266.2" y="86.7" width="21.7" height="43.3"/>
<rect class="fu" x="302.5" y="86.7" width="41.8" height="82.5" rx="1"/>
<rect class="fu" x="312.3" y="89.6" width="21.2" height="12.9" rx="1"/>
<rect class="fu" x="346.1" y="86.7" width="16.4" height="17.6"/>
<rect class="fu" x="364.4" y="86.7" width="41.7" height="82.5" rx="1"/>
<rect class="fu" x="374.1" y="89.6" width="21.2" height="12.9" rx="1"/>
<rect class="fu" x="266.2" y="214.3" width="60.3" height="25.2" rx="1"/>
<line class="fu" x1="266.2" y1="221.4" x2="326.5" y2="221.4"/>
<rect class="fu" x="287.1" y="210" width="18.9" height="4.3"/>
<rect class="fu" x="330.4" y="214.3" width="62.1" height="25.2" rx="1"/>
<line class="fu" x1="330.4" y1="233.7" x2="392.5" y2="233.7"/>
<rect class="fu" x="354.3" y="206" width="15.5" height="8.3"/>
<path d="M353.6 205.6 Q362 201 370.5 205.6" class="fd"/>
<line class="fd" x1="353.6" y1="203.8" x2="353.6" y2="207.5"/>
<line class="fd" x1="370.5" y1="203.8" x2="370.5" y2="207.5"/>
<line class="dl" x1="419.6" y1="87" x2="419.6" y2="381"/>
<line class="dl" x1="262.4" y1="224.3" x2="556.8" y2="224.3"/>
<rect class="fu" x="434.7" y="86.7" width="111.6" height="16.5" rx="1.5"/>
<rect class="fu" x="470.6" y="160.4" width="40.2" height="82.5"/>
<path class="fu" d="M470.6 175.5 L463 175.5"/>
<path class="fu" d="M470.6 191.5 L463 191.5"/>
<path d="M460.5 175 Q457 183.5 460.5 192" class="fd"/>
<line class="fd" x1="458.5" y1="175" x2="463" y2="175"/>
<line class="fd" x1="458.5" y1="192" x2="463" y2="192"/>
<path class="fu" d="M510.8 175.5 L518.4 175.5"/>
<path class="fu" d="M510.8 191.5 L518.4 191.5"/>
<path d="M520.9 175 Q524.4 183.5 520.9 192" class="fd"/>
<line class="fd" x1="518.4" y1="175" x2="523" y2="175"/>
<line class="fd" x1="518.4" y1="192" x2="523" y2="192"/>
<path class="fu" d="M470.6 212.1 L463 212.1"/>
<path class="fu" d="M470.6 228.1 L463 228.1"/>
<path d="M460.5 211.6 Q457 220.1 460.5 228.6" class="fd"/>
<line class="fd" x1="458.5" y1="211.6" x2="463" y2="211.6"/>
<line class="fd" x1="458.5" y1="228.6" x2="463" y2="228.6"/>
<path class="fu" d="M510.8 212.1 L518.4 212.1"/>
<path class="fu" d="M510.8 228.1 L518.4 228.1"/>
<path d="M520.9 211.6 Q524.4 220.1 520.9 228.6" class="fd"/>
<line class="fd" x1="518.4" y1="211.6" x2="523" y2="211.6"/>
<line class="fd" x1="518.4" y1="228.6" x2="523" y2="228.6"/>
<rect class="fu" x="537.5" y="254.1" width="19.3" height="69.4"/>
<line class="fu" x1="546.3" y1="254.1" x2="546.3" y2="323.5"/>
<line class="fu" x1="537.5" y1="288.9" x2="556.8" y2="288.9"/>
<rect class="fu" x="431.6" y="294.6" width="84.7" height="28.9" rx="1"/>
<line class="fu" x1="502.4" y1="294.6" x2="502.4" y2="323.5"/>
<circle cx="485" cy="309" r="2.2" class="fd"/>
<line x1="487.2" y1="309" x2="497.8" y2="309" stroke="#777" stroke-width="1"/>
<line class="fu" x1="400.4" y1="355.2" x2="556.8" y2="355.2"/>
<line class="fu" x1="400.4" y1="355.2" x2="400.4" y2="381.5"/>
<rect class="fu" x="434.7" y="357.5" width="33.7" height="20.5" rx="2.5"/>
<path d="M437 360 h28 v12 q-3 3 -8 3 h-6 q-4 -4 -8 -1 h-4 q-2 0 -2 -2z" class="fu"/>
<circle cx="451.2" cy="371" r="3.1" class="fu"/>
<line class="fu" x1="443.5" y1="366" x2="443.5" y2="375"/>
<circle cx="443.5" cy="366" r="1" class="fu"/>
<rect class="fu" x="491.6" y="357.5" width="25" height="20.5" rx="1.5"/>
<circle cx="498.5" cy="365.2" r="3.8" class="fu"/>
<circle cx="510" cy="365.2" r="3.8" class="fu"/>
<circle cx="504.1" cy="371.5" r="3.2" class="fu"/>
<line class="fu" x1="520.5" y1="355.2" x2="520.5" y2="381.5"/>
<line class="fu" x1="529.8" y1="355.2" x2="529.8" y2="381.5"/>
<line class="fu" x1="531.3" y1="355.2" x2="531.3" y2="381.5"/>
<rect class="fu" x="262.4" y="243.8" width="62.6" height="35.8"/>
<rect class="fu" x="267.8" y="249.5" width="51.8" height="24.7" rx="2"/>
<line x1="262.4" y1="281" x2="325" y2="281" stroke="#bbb" stroke-width="1.4"/>
<path d="M325 283 A32 32 0 0 0 293 315" class="thin"/>
<line class="fu" x1="327.3" y1="282.7" x2="327.3" y2="315.5"/>
<path d="M360.6 282.7 L360.6 317.5 L362 317.5 L362 351.5" fill="none" stroke="#8a8a8a" stroke-width=".8"/>
<rect class="fu" x="266" y="292" width="3.5" height="13"/>
<line class="fu" x1="264.5" y1="292" x2="264.5" y2="305"/>
<path d="M332 270.4 V258 L337 255 V243.8 M342.2 270.4 V258 L337 255 V243.8" class="fu"/>
<path d="M342.2 270.4 V258 L347.2 255 V243.8 M352.4 270.4 V258 L347.2 255 V243.8" class="fu"/>
<path d="M352.4 270.4 V258 L357.4 255 V243.8 M362.6 270.4 V258 L357.4 255 V243.8" class="fu"/>
<path d="M362.6 270.4 V258 L367.6 255 V243.8 M372.8 270.4 V258 L367.6 255 V243.8" class="fu"/>
<path d="M372.8 270.4 V258 L377.8 255 V243.8 M383 270.4 V258 L377.8 255 V243.8" class="fu"/>
<path d="M383 270.4 V258 L388 255 V243.8 M393.2 270.4 V258 L388 255 V243.8" class="fu"/>
<line class="fu" x1="329.5" y1="243.8" x2="329.5" y2="270.4"/>
<line class="fu" x1="298.7" y1="359.2" x2="359" y2="359.2"/>
<rect class="fu" x="303.7" y="362.6" width="21" height="12.8" rx="1"/>
<line class="fd" x1="314.2" y1="371" x2="314.2" y2="378"/>
<circle cx="314.2" cy="371" r="1" class="fd"/>
<rect class="fu" x="348.7" y="365.7" width="10.3" height="15.9"/>
<path d="M271.7 380.4 V362 Q271.7 354.4 279.4 354.4 Q287.1 354.4 287.1 362 V380.4" class="fu"/>
<rect class="fu" x="273.7" y="373.4" width="12.7" height="7" rx="1.5"/>
<line class="dl" x1="262.4" y1="372.3" x2="296" y2="372.3"/>
<rect class="fu" x="263.2" y="320.9" width="6.5" height="12.8"/>
<circle cx="266.4" cy="329" r="1.2" class="fu"/>
<line class="fu" x1="347.9" y1="396.6" x2="347.9" y2="460.4"/>
<line class="fu" x1="366.4" y1="421" x2="366.4" y2="460.4"/>
<line class="fu" x1="366.4" y1="421" x2="443.2" y2="421"/>
<line class="fd" x1="366.4" y1="448.8" x2="400.4" y2="455.8"/>
<path d="M443.2 421 A33 34 0 0 1 410.5 455" class="thin"/>
<path class="dl" d="M410.5 407.1 L447.6 407.1 L447.6 470.2 L410.5 470.2"/>
<path class="tree" d="M189.8 291.8 L190.8 294.3 L191 294.5 L191 295.3 L189 296.5 L187.8 297.2 L187.6 298.2 L186.8 299.2 L187.3 302.1 L187.3 303.9 L185.2 304.1 L183 303.6 L183.3 304.9 L181.7 307.9 L180.4 310.6 L180.3 310.8 L178.4 310.2 L177.8 309.5 L174.8 306.4 L174.7 306.2 L173.6 305.1 L171.9 307.3 L171 306.2 L167.5 307.8 L167.2 307.1 L166.5 304.9 L164.3 304.1 L164.6 301.9 L162.9 302.3 L164 301.6 L160.9 299.7 L159.3 299.3 L160 297.8 L161.2 295.7 L160.8 296.1 L160.4 293.4 L161 291.9 L159 290.7 L160 289.3 L159.8 289.4 L161.1 287.9 L159.5 286.6 L158.9 285 L160.4 284.6 L160.9 282.9 L161.5 282.1 L164.7 280.8 L164.7 281.5 L165.4 277.4 L167.5 278.5 L167.8 277.9 L168.3 277.7 L170.1 275.9 L171.3 276.9 L173.4 275.4 L174.1 276.5 L174.7 276.8 L175.5 276.7 L176.4 277.7 L178.4 276.5 L179.8 277.1 L182 276.8 L182.6 276.8 L184.7 277.2 L184.4 279.8 L185 281.5 L185.2 281.6 L184.9 284 L187.3 282.7 L188.4 285.6 L188.4 286.8 L189 288.1 L191 289.4 L189.6 291.4Z"/><path class="tree" d="M177.2 291.7 L179.4 291.8 L179.4 293.1 L179.7 294 L178.5 293.9 L177.3 294 L177.7 293.2"/><path class="tree" d="M176.7 292.8 L175.6 291.3 L176.4 290.5 L178.5 291.1Z"/>
<path class="tree" d="M180.7 335.2 L181.6 336.4 L184.7 338.6 L182.8 337.8 L182.4 339.4 L183.8 342.5 L183.6 342.6 L183.7 343.5 L182.1 346.2 L182.4 346.7 L180.3 346.9 L180.3 347 L177.7 346.3 L176.4 349.3 L174.5 347.4 L175.3 348.2 L173 349.1 L173.1 348.1 L170.6 352 L169.7 350.2 L168.6 348.3 L167.5 347.4 L167.1 347.9 L164.4 349.3 L163.7 349.9 L161.9 348.1 L161.9 348 L159.5 346.5 L157.6 346.6 L157.1 345.3 L156.6 343.7 L157.2 343 L157.5 339.8 L156.6 338.1 L156.5 338.1 L157.8 336.4 L157.7 334.4 L155.8 333.6 L156.9 332.1 L156.6 332.3 L158.4 330.2 L157.8 329.6 L158.5 328.2 L161.4 327.2 L161.4 327 L163.3 326.6 L163.3 324.3 L163.8 324.3 L164.5 321.9 L165.5 322.2 L167.9 324.4 L168.1 320.1 L168.7 318.9 L169.7 321.5 L171.5 320.9 L171.4 321.1 L174 318.2 L175.4 318.8 L176.8 321.2 L176.6 321.6 L179.4 320.2 L179.6 320.7 L180.5 323.3 L181.6 324.8 L181.5 324.8 L183.4 326.5 L181.7 329.4 L181.8 329.3 L182.9 331.2 L184.6 331.3 L184 331.9 L182.6 333.6Z"/><path class="tree" d="M167.1 331.9 L167.4 330.4 L168.7 328.8 L168.9 330.8Z"/><path class="tree" d="M168.4 341.7 L167.3 341.9 L167.2 341.1 L167.6 340.7 L168.5 339.8 L170.4 340.3 L169 341.5Z"/><path class="tree" d="M169.7 332.2 L170.1 333.6 L168.6 334.3 L167.2 334.9 L165.6 334 L166.1 332.6 L167.8 332.9Z"/>
<path class="tree" d="M204.1 447.9 L206 448.5 L206.4 448.6 L205 450.3 L205.5 451 L204.6 452.9 L203.6 452.2 L209.1 456.1 L205.9 454.9 L205.5 456.8 L211.1 459.6 L213 462.7 L209.4 462.8 L206.2 462.9 L206.2 463.2 L207.2 466.8 L206.9 466.8 L202.9 465.4 L196.8 464.5 L195.6 464.6 L195.9 465.8 L195.1 465.9 L194.7 466.9 L195.1 468 L195.5 470 L193.9 472 L192.7 471.9 L191.6 474.5 L191.3 475.5 L191 475.4 L189.4 476.7 L188.7 479.9 L187 479.3 L187.5 482.2 L182.4 475.9 L182.5 477.9 L182 478.3 L179.9 479.3 L178.8 478.7 L177.4 477.8 L175.4 479.2 L173.9 478.4 L172.9 477.9 L172.1 477.4 L171.2 475.5 L167.5 482.3 L166.8 477.2 L166.1 476.5 L165.5 476.7 L163.8 480.5 L160.9 479.8 L160 479.4 L159.2 475.2 L158.7 474.2 L158 474.7 L156.8 473.3 L153 476.4 L152.8 473.5 L152.7 474 L150 472.4 L149.6 472.2 L145.4 473.1 L148.6 471.1 L147.2 470 L147.1 467.2 L142.4 470.4 L145 465.5 L144.8 465.9 L143 463.5 L141 463.4 L142.2 461.7 L142.5 461.4 L145.6 458.5 L143.6 457.4 L144.6 456.5 L144.4 456.2 L143.5 454.5 L143.8 453.3 L141.4 452.4 L141.8 452.5 L142.6 450.6 L142.6 449.2 L141.8 448.5 L136.3 448.7 L141.4 447 L144.2 445.9 L142.9 445.3 L141.3 444.5 L140.5 442.5 L138.3 441.4 L137.5 440.5 L139.5 439.6 L138.6 437.5 L138.7 436.9 L139.2 435.2 L142 434.3 L142.9 434.2 L142.2 432.3 L136.9 428.7 L140.8 428.9 L142.4 427.8 L142.6 426.8 L145.7 427 L145.1 425 L145 425.3 L146.1 424.6 L146.4 421.8 L149.9 424 L148.2 420.7 L151.7 420.8 L153 420.6 L155.1 421.8 L155.3 421.3 L155.2 419.2 L157.7 420.9 L158.3 417 L161.7 420.4 L163.6 421.6 L163.4 421.5 L164.5 419.5 L165.6 416.3 L166.4 414.2 L166.7 414.4 L170.3 417.7 L171 418.3 L170.9 418.2 L173.2 416.5 L174.3 415.1 L174.9 412.2 L176.7 415.1 L177.7 414.9 L180.2 412.2 L182.4 415.7 L184.1 413.4 L185 417 L186 417.3 L186.1 416.8 L187.8 417.9 L190.9 414.8 L191.2 414.9 L193.8 418 L194.3 418.1 L194.8 419.2 L198.4 418 L195.4 423.8 L197.5 423.2 L199.1 423.8 L199.5 423.5 L202.6 424.8 L201.8 424.4 L204.8 425.3 L207.6 425 L209.1 426 L211 426.1 L210.2 427.9 L208.8 431.4 L208.7 431.3 L207.8 434.4 L210.3 435.4 L209.4 435.3 L207.5 438.9 L209 438.1 L207.5 439.2 L209.1 441.4 L209.2 443.2 L206.7 444.4 L203.2 445.8 L201.9 446.5Z"/><path class="tree" d="M158.8 456.9 L157.6 456.5 L156.3 456.3 L157.1 455.5 L157.7 454.8 L159.5 454.8 L159.8 456.1Z"/><path class="tree" d="M182 453.9 L180.8 454.2 L179.3 454.4 L178.3 452.8 L180.6 452.6 L182.1 452.8Z"/><path class="tree" d="M173.2 463.7 L173.2 465 L173.8 466.2 L172.3 465.6 L171.2 466.2 L170.7 465.3 L170.4 464.1 L172 464.5Z"/><path class="tree" d="M170.1 455.2 L167.3 455.5 L168.2 453.6 L170.6 453.5Z"/><path class="tree" d="M155.5 440.9 L156.9 441.4 L156.5 442.4 L155.3 443 L153.7 443.5 L152.9 442.5 L153.5 441.5 L154.1 440.9Z"/>
<path class="tree" d="M668.2 99.1 L669.3 99.7 L664.4 105.7 L666 103.7 L666.4 103.4 L663.4 108.3 L665.7 111.8 L666.5 110.7 L663.5 108.4 L665.1 112.3 L664.6 114.7 L664.8 113.9 L664.1 116.1 L661.5 118.5 L661 119.1 L659.9 121 L659.3 123 L659.7 121.9 L658.4 125.8 L659.6 122.2 L658.4 125.8 L657.4 127.9 L657.1 131.7 L657.4 129.9 L657.3 131.5 L652 131.6 L653.4 131.5 L654.6 131.3 L650 131.2 L649.6 131 L648 135 L646.3 136.5 L648 133.1 L646.5 136.5 L641.3 135.8 L640.4 135.5 L639.5 136 L640.3 135.6 L636.4 138.2 L635.6 137.6 L634.3 135.7 L634.6 136.2 L632.8 134.7 L634.4 135.7 L633.6 134.6 L632.6 135.1 L631.2 135.5 L628.2 130.9 L624.9 132.5 L625.7 131.8 L623.4 132.7 L623.1 130.4 L622.4 127.1 L623.2 130.7 L622.4 127.1 L620.1 125.7 L621.4 126.5 L619 125.8 L619.3 125.8 L619.5 125.8 L618.2 125.6 L616.3 125.7 L616.6 125.9 L610.1 126 L613.1 124.9 L612.2 125.1 L611.1 121 L609.7 126.2 L610.7 119 L610.9 119.3 L611.4 119.7 L609.7 118.1 L606.8 115.6 L609.4 117.8 L607.6 116.4 L607.1 116.1 L605.7 113.5 L605.5 114.4 L600.9 111.5 L601.7 112.6 L600.7 108.6 L601 111.7 L600.5 110.1 L600.5 109.9 L600.7 108.6 L597.9 107.1 L594.2 103.9 L595.8 102.7 L595.4 100.3 L595.9 101.9 L596.2 98.5 L595.9 94.9 L596.8 97.5 L596.6 96.7 L595.7 95.6 L603.4 91.7 L602.7 92 L603.3 91.8 L604.1 90.9 L603.5 91.7 L604 89.9 L604.4 86.4 L605 87.9 L605.8 85.7 L606.3 82.5 L606.8 85.5 L606.4 82.4 L608.1 80.5 L608.7 79.7 L608.6 77.6 L608.7 75.5 L608.5 76 L608.4 76.8 L609.6 74.2 L613.7 74 L610.5 74.1 L613.1 74.7 L613.5 74.2 L617.2 71.6 L615 73.3 L616 72.4 L618.8 70.3 L620.5 70.1 L620.1 70.1 L622.6 69.1 L623.4 68.3 L622.9 68.5 L622.6 69 L627 70.6 L627.7 70.5 L630.4 74.3 L630.2 74 L628.3 70.8 L630 73.5 L631.3 76.7 L634 73 L633.1 73.8 L633.8 73.1 L634.6 72.8 L636.1 71.8 L637.2 75.2 L640 72.4 L641.8 72.2 L638.6 74.5 L642.5 72.5 L645.6 73.1 L644.9 70.9 L644.5 71.1 L646.2 75.3 L646.5 77.8 L645.8 74.6 L646.3 76 L646.8 78.6 L648.8 78.2 L648.5 78.3 L650.8 77.1 L655.9 76.3 L660.9 77.9 L659.9 77.4 L659.5 77.2 L663.7 81 L661.5 79.2 L661.8 79.6 L663 80.3 L663.6 80.8 L662.5 88.5 L664.1 86.9 L660.6 92 L659.5 91.1 L661.5 89.2 L661 92.2 L660.8 93.3 L660.6 93.6 L660.1 94.5 L666.9 98.1 L670.2 100.5 L668.9 102.3Z"/><path class="tree" d="M629.9 114.9 L629 112.8 L632.2 113.3 L634.2 113.5 L634.7 115.2 L633 117.4 L631.2 115.6"/><path class="tree" d="M644.2 108.2 L639.5 108.9 L637.3 106.5 L638.4 104 L642.1 104.5 L644.4 105.5"/><path class="tree" d="M622.8 97.8 L620.9 96.1 L622.3 94.8 L622.4 93.9 L623.7 92.1 L623.9 94.5 L624.2 94.9 L625.2 96.8"/><path class="tree" d="M617.4 99.4 L618.9 99.6 L619.6 100.5 L620.1 101.3 L620.2 102.8 L617.9 103 L616.5 101.8 L617.9 100.9Z"/><path class="tree" d="M638 109.2 L639.6 111.4 L636.3 111.1 L631.7 110 L634.8 107.6 L637.7 107.5"/>
<path class="tree" d="M718.9 357.7 L720.8 354.4 L716.1 359.1 L713.5 360.5 L715 359.8 L712.9 360.7 L713 360.7 L708.7 361.7 L706.8 363.3 L707.8 364.9 L707.4 365.7 L707.3 365.9 L707.3 369.8 L708.6 369.3 L707.7 369.7 L706.1 370.8 L704.1 372.9 L704.1 372.9 L702.5 373.9 L701.1 374.7 L702.2 374.1 L700.4 376.3 L701.2 374.6 L699.3 376.7 L698.4 377.2 L697.8 377.6 L697.8 377.6 L695 380.6 L694.1 378.1 L695.2 381.1 L695 380.5 L692.6 385.1 L692.2 386.6 L693.7 384.7 L692.2 386.3 L692.2 387.5 L691.9 388.2 L686.6 388.1 L686.6 388.2 L684.5 390 L684.5 389.9 L685.5 390.5 L680.9 388.5 L683.7 389.3 L679.4 388 L678.4 387.2 L679.8 388.2 L677 386.1 L674.7 385.3 L675.5 385.7 L674.6 385.3 L671.6 388.3 L668.7 386.2 L669.4 386.1 L666.6 388.2 L667.9 386.8 L668.5 386.3 L667.3 387.3 L664.9 391.8 L661.9 389.5 L661 389.9 L658.6 393.6 L659.7 391.8 L657 396.2 L656.8 396.5 L658 394.7 L653.8 399.1 L653.9 399.3 L649.7 397.8 L648.8 396.2 L650.5 397.8 L649.7 397.8 L648 395.8 L648.2 395.8 L645.4 396.9 L639.8 395.1 L639.7 392.9 L639.9 395.8 L639.5 388.7 L639.7 393.5 L638.9 384.3 L639 385.8 L638.6 384.2 L639 384.5 L639 384.9 L635.2 383.6 L634.5 382.1 L634.9 379.5 L635.5 377 L633.8 376.4 L634.9 379.5 L632 376.7 L634.8 376.3 L626.9 376.9 L627.2 377.2 L629.5 377.3 L625.7 376.3 L623.6 373.6 L623.9 371.9 L622.1 371.3 L623.8 371.5 L619.6 371.2 L617.6 370.7 L617.2 370.6 L616.4 367.9 L616.1 370.3 L615.9 368.6 L616.4 364.8 L614.8 363.2 L617.2 360.2 L615.9 364.2 L615.9 357.8 L617.2 360.2 L616.9 358.7 L614.1 355.8 L613.2 352.8 L614.2 356 L614.1 353.7 L614.7 349.6 L615.5 348.8 L614.4 349.7 L615.1 349.4 L618.7 345.9 L616.4 347.4 L618.8 345.8 L618 346.3 L619.2 344.3 L619.5 341.9 L618.3 339.8 L616.8 336.1 L617 335.7 L616.9 336.7 L619.1 335.3 L620.4 335.5 L622.3 335.8 L624.2 335.4 L628.9 332.5 L629.3 332.3 L629.5 330.7 L629.7 330.2 L629.5 331.6 L632.7 329.8 L632.6 329.6 L631.7 325.1 L631.7 324.9 L633 324 L631.7 324.9 L639.1 326.4 L639.4 326.2 L639.7 326 L639.4 326.2 L642.1 324.9 L642 324.9 L642.2 324.8 L644.5 321 L644.6 319.4 L646.3 318.9 L648.7 319.1 L646.7 319.2 L648.9 318.9 L647.6 319.6 L650.4 314.4 L652.9 315.1 L651.6 314.2 L650.6 314.2 L656.9 320 L656.4 319.8 L656.5 319.9 L660.1 316.9 L659.6 317.4 L661.2 317.1 L662.9 318.2 L663.3 318.3 L665.6 318.8 L664.8 318.7 L665.6 318.8 L668.1 316.2 L670.9 318.1 L669.7 316.3 L670.1 317 L671.5 318.6 L673 319.4 L673 319.5 L675.9 319 L677.9 318.2 L681.3 318.5 L677.8 317.8 L679.3 320.2 L680.2 319.4 L682.7 319 L685.4 322 L683.6 320.1 L686.4 321.2 L687.5 320.6 L688.4 325.4 L688.4 325 L689.5 328.9 L689.8 329.1 L691 329.6 L691.6 329.6 L689.6 329 L690.5 329.5 L699.9 326.6 L694.3 328.5 L695 328.5 L702.6 326.4 L702.8 327.8 L702.7 326.4 L703.6 329.2 L706 328.7 L708 329.2 L708.5 329.8 L708.5 329.8 L711.2 333.2 L711.7 332.3 L709.1 338.4 L711.5 339.4 L709.7 335.9 L714.9 339.6 L717.4 339.9 L714.6 339.6 L715.4 342.4 L715.9 341.9 L716.9 346.5 L715.7 345 L718.2 347.7 L717.5 346.9 L718 351.8 L717.4 349.4 L721.1 355 L718 351.7Z"/><path class="tree" d="M649.7 366.9 L647.4 365.7 L643.3 365.9 L646 363.9 L647.6 363.4 L648.5 363.5 L651.8 363.3 L652.2 365.4"/><path class="tree" d="M675.2 344.5 L673.9 343.9 L674.1 342.4 L676.1 343.1 L677 343.6 L679.1 346.2"/><path class="tree" d="M650 358 L651.1 359.2 L649.8 360 L648.5 359.1 L645.2 359.9 L645.3 358 L647.8 357.4 L648.7 356.3 L650.9 356.7Z"/><path class="tree" d="M674.3 343.2 L672.8 342.2 L674.6 341.4 L675.3 339 L677.7 340.5 L677.5 342 L678.3 344.1 L675.5 343Z"/><path class="tree" d="M659.3 363.1 L660.8 363.7 L659.6 364.7 L661.1 366.1 L659.2 367.5 L655.9 367.3 L656.7 365 L658 364.4 L657.2 362.7Z"/><path class="tree" d="M659.4 349.8 L659.9 349.2 L661.6 347.9 L663.6 349.7 L661.3 350.8 L659.3 351.5"/><path class="tree" d="M663.6 375.6 L665.5 374.1 L666.9 375.8 L666.3 377 L665.8 377.9 L664.3 378.8 L662.4 378.1 L662.3 376.3"/>
<path class="tree" d="M840.1 545.5 L841.3 542.2 L840.7 543.7 L837.5 548.1 L838.7 547.7 L834.5 550 L834.4 550.1 L836.1 548.5 L834.6 549.8 L833.1 553.5 L831.6 551.9 L834.1 554.5 L832.4 556.1 L833.9 555 L832.4 555.8 L831.7 558.7 L832.4 557.8 L828.9 558.7 L827.8 559.4 L827.9 559.2 L827.2 559.8 L823 561.3 L823.5 562.6 L823.6 562.9 L823.6 564 L822.7 567.8 L822.8 566.4 L822.9 566 L822.1 569.3 L821.7 570.6 L820.6 571.5 L820.5 571.6 L821.2 577.2 L820.7 573.4 L818.8 581 L816.4 582.6 L815.9 582.5 L813.8 582.7 L811.6 583.3 L813.2 583.1 L812.3 583.6 L808.7 582.2 L810.5 582.2 L808.6 582.3 L805.5 583.4 L807.5 582.9 L800.7 579.7 L799.7 579.1 L800.8 579.7 L799 578.4 L799.3 578.7 L797.6 577.4 L798.3 577.8 L796.1 575.8 L795.7 575.8 L793.3 576.1 L790.3 576.5 L788.2 575.5 L791.3 575.9 L789.1 577.2 L786.9 572.9 L785 570.6 L785.6 571.2 L784.8 570.6 L782.5 568.8 L784.2 570.2 L784.1 570.2 L781.8 567.2 L781.4 565.4 L781.7 566.8 L783.6 560.1 L783.9 559 L781.8 558.4 L784 558.1 L784.1 558.2 L781.3 558.3 L781.5 557 L780.6 556.1 L778.6 554.6 L778.1 555.5 L777 551.5 L778.4 553.7 L777.7 549.8 L777.3 551.7 L775 548.2 L777.9 549.6 L773.9 548 L774.9 548.2 L774.7 545.1 L773.7 544.6 L772.6 543 L772.9 543.5 L772.9 543.5 L772.4 541.7 L774.5 538.3 L774 538.8 L773.5 539.2 L774.2 538.7 L774.5 535.6 L777.5 534 L777.9 533.8 L779.4 532.9 L776.9 534.2 L779.7 532.6 L780 532.3 L780.8 532 L781.7 528.2 L781.7 527.6 L781.5 528.7 L781.9 524.5 L781.7 527.4 L782.9 523.7 L782.1 523.9 L783.3 523.8 L784.9 520.4 L784.7 520 L784.4 518.7 L785.1 518.1 L786.5 518.2 L786.3 514.4 L786.3 513.5 L786.3 514.6 L786.9 510.6 L787 510.2 L787 510.2 L787.4 509.5 L794.3 511.8 L792.3 510 L794.6 511.5 L793.9 511.6 L796.2 507.5 L799.3 506.9 L799.5 506.9 L800.5 506.7 L801.2 506.7 L799.4 506.9 L800.6 506.7 L802.4 506.8 L806.5 506.6 L809.2 505.4 L811 506.6 L811 506.6 L812.3 506.7 L810.6 506.2 L811.1 506.7 L815.6 509.5 L814.6 507.6 L818.4 507.6 L822 506.3 L817.3 508.3 L824 507.3 L822.7 506.6 L824.1 509.8 L823.9 511.1 L826.8 513.2 L826.9 514 L827.8 516.7 L827.8 516.9 L830.1 517.1 L831.7 517.2 L831.4 517 L832.6 517.9 L833.6 518.9 L832.8 518 L833.5 518.5 L832.2 523 L833.8 524 L833.1 523.8 L837.2 526.9 L837.6 525.5 L836.2 528.8 L834 533.1 L834.1 533.9 L834.1 533.1 L834.5 534.3 L833.9 533.3 L834.5 534.3 L838.1 537.3 L835.8 536.3 L842.5 540.1 L841.7 538.2 L842.4 540.1Z"/><path class="tree" d="M807.5 537.3 L803.5 537.9 L800.6 536.3 L802.6 533.7 L807.9 534Z"/><path class="tree" d="M800.6 531.9 L798.9 530.6 L799.8 529 L802.8 528.6 L803.9 530.2 L803.6 531.7 L803.7 533 L802 533.2 L799.9 533.6Z"/><path class="tree" d="M805.9 545.2 L807.8 542.4 L810 540.6 L812.4 542.6 L811.1 544.1 L810 546.2"/><path class="tree" d="M815.5 541.6 L816.8 541.1 L820.8 540.5 L821.1 543.1 L817.4 543.3 L815.3 544.9 L815.8 542.8"/><path class="tree" d="M814.7 539 L817.6 540.9 L819.7 543.3 L815.4 543.9 L811.4 541.9Z"/><path class="tree" d="M793.9 555.9 L795.7 557.2 L795.3 558.8 L793.2 559.9 L790.3 558.7 L791 556.4"/>
<circle cx="744.4" cy="322" r="30.7" style="fill:#fff" class="thin"/>
<circle cx="760" cy="308.8" r="8.3" class="thin"/>
<line x1="756" y1="305" x2="756.5" y2="309" stroke="#6a6a6a" stroke-width=".7"/>
<line x1="760" y1="304" x2="759.5" y2="308" stroke="#6a6a6a" stroke-width=".7"/>
<line x1="764" y1="306" x2="764.6" y2="310" stroke="#6a6a6a" stroke-width=".7"/>
<line x1="757" y1="311" x2="756.6" y2="315" stroke="#6a6a6a" stroke-width=".7"/>
<line x1="762" y1="311" x2="762.3" y2="315" stroke="#6a6a6a" stroke-width=".7"/>
<path class="tree" d="M564.9 55.6 L566.7 54.4 L568 54.6 L567.7 52.5 L567.8 51.8 L568.7 50.7 L570 50.4 L572.6 48.3 L574.7 48.6 L575.4 49.1 L576.9 48.7 L577.7 48.5 L579.5 48.7 L580.6 48.3 L582.3 49.3 L583.2 50.3 L584.2 50.1 L585.4 50.7 L587.8 51.2 L588.6 50.9 L590.5 49.9 L591.1 49.3 L592.4 50.5 L593.3 51.2 L594.7 51.1 L596 51.6 L597.9 51.8 L599.3 51.4 L599.9 50.8 L601 50.6 L603.1 50.9 L604.2 51.9 L605.1 51.6 L606.7 51 L608.2 51.1 L608.8 51.1 L611.3 51.3 L611.8 52.2 L613.5 52 L615.1 51.7 L615.7 52 L617.2 52 L618 49.9 L620.3 49 L620.8 50.2 L622.2 48.9 L624 47.9 L625.4 47.2 L626.4 46.2 L627.4 46.2 L628.8 47 L630.5 47.9 L631 48.8 L632.3 48.5 L634.2 47.7 L635.6 47.3 L637.3 47.4 L637.9 47.9 L638.9 47.1 L640.7 47.8 L641.3 48.6 L642.9 48.6 L643.8 48.9 L646.3 49.1 L646.9 49.8 L648.2 49.7 L649.1 49.6 L650.3 49.1 L651.6 48.9 L653.5 48.7 L655.6 46.3 L655.9 45.5 L657.2 45.4 L658.6 45.1 L659.5 45 L661.7 46.1 L663.3 47.7 L663.6 48.6 L665.4 48.6 L666.3 48.5 L668.1 48.3 L669.1 49.4 L671 50.1 L671.1 50.3 L672.7 51.2 L673.9 51.7 L675.4 52.2 L677.2 52.1 L678.9 51 L679.1 52.1 L680.2 49.8 L682.4 50 L682.9 49.5 L684.9 49.3 L686.7 49.9 L687 49.6 L688.9 48.2 L689.6 47.7 L691.6 48 L692 48 L694.2 48.8 L694.8 49.3 L696.8 49.9 L698.2 50.7 L698.6 49.8 L699.9 50.4 L701.1 52.1 L702.1 52.8 L703.4 52 L705.4 51.7 L706.2 50 L707.4 49.8 L708.7 48.6 L710.7 50.2 L712.1 50.4 L712.6 51.9 L713.8 52.8 L715.9 53.8 L717.2 52.8 L718 52 L719.8 51.6 L720.2 50.4 L721.7 52 L724 53.1 L724.2 52.9 L725.9 54.1 L727.1 52.8 L728.9 52.1 L729.5 51.8 L731 52.9 L733 53.1 L733.3 53.2 L734.9 52.1 L735.8 51.4 L737.8 52.4 L739.1 52.8 L740 51.8 L741.8 51.5 L742.2 53.3 L744 55.6 L745.7 55.9 L746.1 55.3 L748.6 54 L749.1 53.5 L750.9 53.5 L751.8 53.9 L753.5 53.9 L754.1 53.8 L756 52.4 L756.8 50.8 L759.1 52.1 L759.2 52.8 L760.4 53.3 L762.6 54 L763.6 52.6 L764.3 51.9 L766.3 51.5 L767.3 51.7 L769 51.1 L770.4 49.8 L771.6 50.2 L773.1 50.9 L774.4 51.6 L775.6 51.7 L777.2 52.8 L778.3 53.2 L779.7 51.7 L780.8 50.3 L781.1 50.2 L782.1 51 L784.3 52.1 L785.5 52.9 L786.3 53.4 L787.7 53.2 L789.5 53.4 L790.7 53.8 L791.2 53.1 L792.5 53.8 L793.7 52.8 L795.5 52.7 L796.6 51.8 L798.1 52.7 L800 52.4 L800.6 52.1 L801.7 52.5 L803.1 54.2 L804.6 55.6 L806 55.1 L806.8 53.9 L809.3 52.7 L810.5 53.2 L810.7 53.8 L813 53.7 L814.1 54.3 L814.9 54.3 L816.2 54.5 L817 55 L818.6 55.6 L819.7 55.8 L821 56.6 L822.3 57.6 L820.4 55.5 L821 55.8 L821.7 58.2 L821.7 58.3 L822.2 60.5 L819.9 61.9 L821.8 63.1 L822.8 64.5 L823.6 65.3 L823 67.4 L822.7 67.4 L822.9 69.8 L822.6 71.2 L821.5 71.7 L821.5 73.2 L822.8 74.3 L823.2 76.1 L822.9 77.8 L823.2 77.9 L823.6 79.4 L824.4 81.1 L825.1 82.3 L824.9 83.3 L826.9 84.8 L827.8 86.4 L826.9 87.8 L826.5 88.6 L826 89.4 L826 90.8 L825.9 93.1 L825.4 94.5 L824.5 94.8 L824.3 96.6 L824 97.6 L823.2 98.7 L824 99.9 L824.2 101.8 L824.1 102.9 L824.1 104.3 L823.6 105.9 L824.5 106.4 L825.2 108.7 L825.1 109.2 L826.5 110.4 L826.2 112.6 L824.7 113.5 L824.6 115 L825.3 115.4 L825.4 117.4 L826.5 118.3 L827.2 120.3 L827.2 120.3 L826.2 122 L825.9 122.2 L827 124.4 L826.6 124.8 L826.6 126.2 L826.1 127.1 L824.8 129.1 L825.1 130.1 L826.2 131.9 L825.4 133.5 L822.6 133.9 L822 135.4 L821.3 136.5 L821.6 138 L822.3 139 L823.5 140.2 L822.4 141.5 L823.4 143 L825.5 144.3 L825.3 145.9 L823.8 147.3 L822.9 149.1 L822.6 149.7 L822.7 151.7 L824.1 152.7 L825.3 153.4 L823.6 154.6 L825.2 157 L825.7 157.7 L825.6 158.5 L826.2 160.9 L826.5 161.7 L825.2 162.9 L825.1 164.4 L826.1 164.9 L826.1 166.8 L825 168.8 L824.6 169.9 L825.1 170.2 L824.4 172.2 L826.3 173.1 L825.9 175.1 L824.3 176.4 L823.3 176.8 L823.4 178.6 L822.7 179.9 L822.6 180.7 L822.9 182.4 L822.9 183.1 L822.5 184.8 L822.9 186.2 L822.5 186.9 L824.5 189 L824 190.5 L825.4 190.9 L823.8 192.8 L823 194.3 L823.5 195.7 L823.9 196.5 L823.6 198.5 L823.7 198.7 L824.2 200.7 L824.5 202 L824.3 202.9 L824.4 204.8 L824.1 205.1 L823.6 206.8 L823.6 209.1 L823.8 209 L824.7 210.5 L825.2 211.6 L827.1 213.5 L827.8 214.3 L828.5 216.7 L827.7 217.6 L826.9 218.2 L826.3 220.4 L827.1 221.3 L827.5 222.4 L827.6 223.7 L829.4 225.1 L830.4 226.5 L830.2 228.4 L830.6 229.1 L829.6 230.8 L829 232.2 L830.1 233.6 L830.2 234.1 L828.5 236.1 L827.5 237.4 L827.4 238.3 L827 240.1 L825.4 240.7 L824.6 242.6 L825.5 243 L825.1 244.7 L825.1 245.4 L826.1 247.7 L826.5 249.2 L827.4 250.6 L827.7 250.9 L827.4 252.1 L826.1 253.9 L826 255.4 L826.2 257.1 L826.4 258.2 L827.6 259.7 L827.9 259.9 L828.2 262.2 L827.8 263.6 L828.1 264.1 L827.3 265.7 L826.3 266.2 L826.2 267.9 L826.7 269.9 L826.2 271.3 L824.8 271.9 L824.2 273.3 L824.2 274.2 L824.5 276.1 L824.1 277.6 L824.7 278.5 L825.3 280.4 L825.2 280.6 L826.4 282.8 L827.2 284.4 L825.8 285.6 L826.1 286 L827.8 288 L827.3 288.9 L825.5 289.7 L825.5 291.3 L825.3 292.3 L824.9 293.8 L825 295.3 L825.3 297.1 L825.9 298.6 L825.7 300 L825.8 300.5 L826.3 300.8 L827.2 303 L827.4 303.3 L826.5 305.3 L827.1 307.1 L826.5 307.1 L826 309.1 L825.9 310.1 L825.5 311.6 L824.4 312.3 L824.2 313.9 L824 315 L823.5 316.4 L823.3 317.6 L823.2 319 L823.6 320.4 L824 322.2 L824.1 322.7 L823.3 325.2 L824.6 326.2 L824.2 327.6 L824.3 328.6 L825.2 330 L824.7 330.6 L825 332 L823.9 334.2 L822.9 335.5 L823.8 336 L824.7 337.5 L824.8 338.5 L824.6 340.6 L824.6 341.8 L825.5 342.6 L825.2 343.8 L824 345 L825.9 346.2 L825.6 347.5 L826.8 349.9 L826.5 350.5 L825.8 352.1 L825.5 353 L825.5 355.2 L825.6 355.5 L826.5 356.9 L826.9 358.1 L826.1 359.3 L826 361.7 L826.3 362.1 L827.7 363.5 L826.5 364.5 L826.7 366.4 L827.5 368.3 L827.7 369.3 L826.1 370.1 L825 371 L825.6 372.1 L825.9 374 L825.7 375.4 L826.5 376.9 L827.9 378.4 L828.4 379.2 L827.6 381 L828.7 382 L828.3 383.9 L829.5 384.4 L828.9 385.3 L828.7 387 L827.6 388.2 L827.4 389.7 L828.4 391.2 L828.7 391.9 L828.1 394.2 L828.2 395.1 L829.3 396.1 L829.9 397.2 L828.5 398.8 L827.9 400 L828 401.5 L828.7 403.1 L828.3 404.6 L828.4 404.6 L828.2 407.2 L828.3 407.4 L828.7 409.8 L828.3 410.1 L827.1 411.9 L827.1 413.7 L827.6 413.8 L827 415.6 L826.9 417.3 L826.3 417.6 L828 419.6 L828.5 419.6 L828.6 420.8 L828.6 422.4 L828 424.5 L825.6 424.6 L824.4 426.3 L825.1 427.4 L824.9 428.5 L824.6 430.7 L823.6 431.1 L822.5 433.1 L823.1 433.8 L824.3 436.2 L824.7 436.4 L825.1 438.1 L825.7 439.7 L825.5 441.1 L824.9 442.3 L823.9 443.8 L823.9 444.7 L823.5 446 L823.7 447.7 L823.4 448.7 L823.4 449.7 L825.3 451.3 L826.4 452.9 L825.5 453.1 L826.1 455.1 L826.1 456.6 L826.5 458.2 L827.6 459.1 L827.4 459.8 L827.5 461.1 L826.5 463.3 L826.9 464.1 L826.7 465.1 L824.8 467.1 L824.1 468.3 L824.5 469.7 L824.6 471.1 L823.9 472.1 L824.3 473.8 L825.9 474.5 L825.4 475.3 L824.8 477.4 L824.1 478.5 L824.1 479.7 L824.6 480.7 L826.5 482.5 L827.8 484.1 L828.3 484.9 L828.8 485.7 L827.3 487.9 L826.2 488.6 L825.2 490.3 L824.5 491.8 L826.3 493.2 L827.3 493.6 L828.5 496 L828.1 496.7 L826.7 498.1 L827 499.5 L828.3 500.4 L829.1 501.6 L829 502.8 L829.3 504 L829.8 505.8 L829.8 507.8 L829 508.9 L827.9 509.9 L826 510"/>
<path class="tree" d="M568.8 57.1 L570.7 56.5 L571.8 59.6 L573.2 61.3 L573.6 64.4 L574.8 64.2 L577 62.3 L578.2 61.7 L579.3 61.7 L581.1 60 L582.4 59 L582.9 59.4 L584.4 60.9 L585.8 62.5 L586.6 63.6 L588.1 64 L589.5 61.7 L590.3 62.3 L592.6 63.4 L593.6 60.8 L594.3 59.5 L596.6 61.9 L596.8 63.3 L598.2 62.8 L599.6 63.1 L600.6 61.8 L603.2 60.7 L604.2 58.7 L604.7 60 L606.7 61.1 L608.5 59.9 L608.7 61.5 L609.8 64.5 L610.9 63.8 L613.1 64.1 L613.4 64.3 L615.2 63.8 L616.5 65.3 L617.8 65.9 L619.5 63.6 L620.6 62.3 L622.3 62 L622.9 61.7 L624.9 62.7 L626.6 62.8 L627.1 63.4 L627.9 63.2 L630.3 62.8 L631.8 63 L632.2 63.1 L634.2 62.8 L635.1 63.7 L635.9 64.1 L637.5 63.8 L638.9 65.5 L639.4 64.6 L641.2 62.7 L642.6 63.8 L644.6 64.5 L645.9 62.7 L647 62.9 L647.5 62.9 L649.2 62.8 L650.1 62.9 L651.6 61.8 L652.8 63.2 L654.3 64.8 L655.4 64.6 L656.8 65.3 L657.9 66.2 L659.1 67.6 L659.6 68 L662.1 69.3 L663.4 69.3 L664 67.5 L665.7 66.3 L667.3 66 L667.8 65.6 L669.1 67.5 L671.1 67.7 L671.5 65.8 L673.9 64.7 L674.7 64.8 L675.7 65.6 L677.4 64.6 L679 64.2 L680.1 64.5 L682.1 63.1 L683.2 61.6 L684.2 62.3 L685.8 62.7 L686.1 63.6 L688.4 65.2 L689.8 63.9 L690.7 65.7 L691.6 65 L692.9 65.6 L694.5 67.3 L695 70 L696.5 70.5 L698 70 L699.2 69.4 L700.4 68.4 L701.2 66.6 L702.1 67.7 L704.4 66.2 L705.7 66.6 L706.4 68.1 L707.3 69.1 L709.1 69.8 L710 69.8 L711.7 68.8 L712.8 67.5 L714.5 67.6 L715.1 73.1 L717.5 75.5 L717.7 73.8 L719.1 71.7 L721 74.9 L722.1 76 L723 74.9 L724.4 74.5 L725.4 75.5 L727.5 75.5 L728.6 74.3 L730.1 73.3 L731.1 73.5 L732.1 72.4 L733.4 70 L735.4 68.7 L735.9 69.3 L737 70.7 L738.4 69.2 L740.6 67.7 L741.3 68.1 L742.7 68.6 L743.7 67.7 L745.4 66.9 L747.1 68.5 L748.1 70.7 L749.1 72.2 L751.2 73.6 L751.5 73.5 L752.7 73.8 L754.8 71.7 L755.2 69.2 L757.2 68.9 L757.8 69 L759.5 69.2 L760.1 69.3 L761.4 69.5 L762.6 70.5 L764.2 71 L765.7 71.9 L766.6 72.2 L767.3 72.6 L769 72.3 L770.1 69.1 L771.1 69 L773 71.2 L774.6 71.9 L776 71.7 L776.8 73.3 L777.5 71.6 L780 70.4 L780.4 71.9 L782.1 71.8 L783.2 71.7 L785.2 73.2 L783.9 74 L784.4 75.4 L785.8 76.2 L786.3 78 L786.3 78.4 L788.4 79.3 L789.6 80.3 L790 81.2 L790.7 81.4 L793 82 L794.3 80.4 L795.6 81.9 L798.5 81.1 L800.2 80.2 L802.1 81.9 L802.6 83 L803 84.3 L802.9 86.5 L802.5 86.7 L803.8 88 L803.4 90.3 L802.3 90.8 L803.4 92.8 L803.2 93.3 L803.7 94.5 L800.2 96.7 L801.1 97.8 L803.3 98.5 L803 100.7 L802.5 102.1 L803.9 102.8 L806.3 103.6 L806.8 104.6 L806.3 106.9 L803.6 108.6 L801.3 109.8 L801.5 110 L800.3 112.4 L799.6 113.7 L799.4 115.2 L800.5 115.3 L798.8 116.9 L797.9 118.5 L799.3 119.1 L800.4 120.3 L801 122.9 L800.7 123.2 L798.7 124.3 L797.7 126.9 L798.6 128 L799.9 129.2 L797.2 130.5 L798.1 131.4 L801.2 132.7 L801.8 133.8 L799.3 135.3 L799.6 136.6 L800.6 138.6 L800 138.8 L799.8 140.9 L801.4 141.6 L800.6 142.8 L799.6 144.2 L803 145.5 L803.9 146.7 L803.1 147.9 L804 149.3 L802.9 150.9 L803.7 151.9 L804.8 154 L803.6 154.7 L800.6 155.7 L800.6 157.9 L802.9 158.3 L803.3 159.4 L803.5 161.6 L802.7 163.2 L801 163.4 L800.8 164.7 L802.6 166.7 L804.2 167.9 L802.7 169.5 L802.6 169.7 L804.6 171.7 L805.3 173.2 L804.9 174.5 L805.2 175.5 L804.8 177.3 L804.5 177.4 L807.5 179.2 L808 180.1 L805.9 182.5 L806.7 183.3 L805.4 184.7 L803.5 185.6 L802.5 188 L800.8 189 L802.7 189.5 L802.9 191.6 L802.5 192.5 L802.9 194 L804.2 194.9 L804.2 196.6 L802.1 197.2 L803.7 199.5 L803.3 199.6 L805 201.1 L803.2 202.8 L803.6 203.7 L806.5 205.4 L807.4 206.4 L805.5 208.5 L805.3 208.5 L804.9 210.9 L804.3 211.3 L807 212.5 L807.5 215 L806.2 215.2 L808 217.2 L805.6 218.6 L805.7 220.1 L805.9 220.5 L806.5 221.7 L805 223.2 L803.6 224.4 L803.3 225.8 L803.1 227.7 L803.6 228.5 L804.1 230.1 L804.6 231.3 L803.1 232.6 L801.1 234.3 L799.5 235.5 L800.6 236.3 L801.3 237.4 L802.1 239.6 L802.2 240.8 L801.3 241.3 L801.4 242.7 L801.1 244.3 L801 245.3 L802.9 247 L804 248.3 L801.5 248.8 L800.5 251.1 L802.9 252.5 L802.7 253.6 L802.3 254 L802 255.7 L803.1 257.7 L805.2 259 L804.9 259.4 L804.2 261.6 L803.5 261.7 L803.3 263.1 L802.6 264.8 L800.8 266 L801.8 267 L803 269 L801.6 270.3 L802.3 271.6 L803.8 273.1 L804.6 274 L805.2 275.8 L805.9 277.2 L806.3 277.6 L806.4 278.9 L803.5 279.9 L802.3 282.2 L804.6 282.8 L804.5 283.9 L801.9 285.5 L801.5 287.4 L802.7 288.4 L803.9 289.1 L802.3 291.4 L801.6 291.6 L801.5 293 L801.6 295 L800.6 296.6 L799.7 297.9 L800.1 299.3 L800.5 300.3 L800.7 301.2 L801.4 302.8 L803.3 304.3 L804.7 304.8 L802.9 307.1 L800 308.1 L803.7 309 L804.5 311.1 L801.9 312.3 L800.3 313.6 L800.7 314.7 L801.6 315.9 L803.3 317.4 L804.4 318.9 L803.6 319.4 L802.8 319.5 L803.1 320.8 L804.1 323.1 L803.9 323.6 L803 325.7 L802.7 327.2 L801 327.6 L801.3 328.9 L802.8 329.9 L803.2 331.7 L801.8 332.6 L802.7 334.7 L802.6 335 L803.3 337.1 L802.6 337.8 L801.6 340.1 L800.9 340.6 L801.1 342.1 L802.3 343.1 L802.1 345 L801.5 345.9 L801.7 347.5 L800.3 348.3 L801.4 349.5 L802.2 351.4 L800.6 353.2 L798.2 354.5 L797.7 355.3 L796.7 356 L797.5 358 L800.4 359.6 L801.2 360 L800.4 361.4 L800.1 363.2 L799.2 364.9 L799.9 366.1 L798 367.1 L798.4 367.6 L799.8 369.9 L800 370.5 L801.9 371.9 L802 373.4 L799.8 374.2 L800.5 375.5 L803.1 377 L803.4 379.1 L801.4 379.5 L801.4 381.6 L804.9 382.1 L805.3 383.1 L804.3 384.6 L805.3 386 L806.3 387.5 L806.2 388.9 L804 390.4 L801.9 391.6 L802.8 392.7 L803.4 394 L804.4 395.5 L803.8 396.3 L801.2 397.9 L801.2 399.9 L800 400.6 L800.8 401.3 L801.9 403.4 L803.1 404.1 L804.5 405.5 L804.3 407.2 L804.9 408 L805.8 410.3 L805.7 411.6 L805.5 412.9 L806.7 412.9 L806.7 414.5 L804.9 415.9 L805.3 417.7 L808.1 418.2 L808.3 420.6 L807.1 421.1 L808 422.1 L806.2 423.8 L805.2 425.7 L803.1 426.8 L801.8 428.1 L801.6 428.9 L801.4 430.7 L801.1 431.8 L802 432.5 L803.5 434.9 L803.3 435.3 L803.3 436.9 L801 438.6 L799.5 440 L797.8 440.9 L799.8 442 L799.4 443.4 L799 444.4 L798.9 446.7 L800.1 447.4 L799.8 448.9 L798 450.5 L798.2 451.6 L800.4 452.5 L801.2 454.3 L798.4 455.6 L800.5 456.8 L800.8 457.4 L802.8 459.2 L801.4 460.8 L802.6 462.3 L803.3 463.1 L803 464.7 L804 466 L804.4 466.9 L804.2 467.6 L803.8 468.9 L803.4 471.2 L804.7 472.5 L807.6 473.7 L808.9 474.9 L806.7 475.6 L809.5 477.6 L809.9 478.6 L808.8 479.9 L808.4 479.8 L806 480.9 L805.7 483.3 L805.6 484.5 L806.2 485.5 L805.9 486.4 L805.1 487.7 L802.9 488.7 L802.7 490.4 L804 492.1 L805.7 493.3 L806.1 494 L807 495.9 L805.6 497.4 L806.3 498.6 L808.5 499.9 L807.8 500.5 L806.5 502.7 L805.1 503.5 L803.7 504.3 L802.9 506.2 L802.8 507.8 L803 508.8 L802.6 509.6 L804.3 510.8 L806 512"/>
<path class="tree" d="M467.4 472.7 L468.1 472.1 L469.8 470.3 L470.6 470.8 L472.2 472.9 L473.3 472.4 L474.8 471.3 L475.9 473.1 L477.5 475.2 L478.2 474.1 L479.3 472.8 L481 473.6 L482.5 474.2 L483.2 472.6 L485.4 471.7 L487.1 473.4 L487.2 474.8 L488.9 476.2 L491 479 L491.2 478.3 L492.9 479.3 L494.4 480.6 L495.3 480.5 L497.1 478.3 L498.2 477.5 L499.7 479 L500.2 481 L502.1 480.6 L503.7 481.1 L504.3 479.3 L505.8 479 L507.5 479.1 L508.8 477.5 L510.5 478.2 L510.7 479.5 L513 477.9 L513.9 477 L514.9 477.8 L516.4 477.4 L518 478 L518.8 480 L520.8 480.2 L521.1 480.8 L522.8 480.5 L524.2 478.8 L525.7 478.6 L526.9 477.8 L527.8 479.5 L529.9 479.8 L530.7 479.3 L532.6 478.6 L533.3 477.1 L534.9 476.7 L535.4 477.7 L537.6 478.9 L538.8 475.2 L539.4 474.5 L541.2 473.9 L541.7 472.2 L544 472.6 L544.6 472.9 L546.4 473.1 L547.1 473 L549.3 474.6 L549.8 475.8 L551 475.5 L552.2 475.2 L554.5 473.9 L554.8 471.7 L556 472 L557.3 470.8 L559.8 471.6 L560.6 473.4 L562.3 475.4 L563 475 L565.1 475.9 L565.6 475.7 L566.6 473.6 L567.8 471.8 L569.6 471.7 L570.4 471.7 L571.8 473.7 L574.2 473.5 L575.5 470 L575.4 468.5 L577.1 470.9 L578.4 474.4 L580.6 474.2 L581.4 472.5 L583.2 471.1 L584.4 471 L585.2 471.5 L587 470.9 L587.8 471.2 L588.9 472.5 L590.9 469.4 L591.6 468 L593.2 466.2 L594.1 467.5 L595.2 469.8 L597.3 473.5 L598.9 474 L599.2 473.5 L600.2 473.3 L601.5 473.1 L602.8 472 L603.5 474.6 L604.9 476.2 L606.9 474.9 L607.7 474 L608.9 474.3 L610.7 474.8 L612.4 473.2 L613 471.9 L614.7 474 L616.1 473.4 L617.1 470.2 L618.9 471.6 L620.1 472.5 L621.1 470.9 L621.7 473.7 L623.5 474.6 L625 476.8 L626.6 477.9 L626.5 478.3 L628.2 478.6 L629.4 476.8 L631.7 476.4 L632 478.5 L633.5 480.7 L634.7 479.5 L636.6 480.7 L638.1 476.1 L638.3 474.9 L640.1 474.7 L641.5 474.5 L643.1 474.9 L644.6 475.3 L644.9 477 L647.1 477.4 L648.3 475.5 L648.9 474.5 L650.2 475.5 L651.4 474.6 L653.3 475.8 L654.5 474.6 L655.7 473.6 L657.9 473.4 L658.1 473 L660.4 474.8 L660.7 476.8 L662.7 478.1 L663.5 479 L665.1 480 L665.7 479.4 L667.9 478.4 L668.5 477.6 L670.2 476.9 L671.7 478.9 L672.8 477.6 L673.8 480.1 L675.8 480.2 L676 480.3 L677.6 479.4 L678.6 477.8 L681.2 476.8 L681.6 478.5 L682.7 479.6 L684.4 479.5 L685.5 478.2 L687.3 478.1 L687.8 478.9 L689.3 476 L691.4 476.2 L692.6 474.3 L693.2 474.5 L694.8 477.1 L696 477 L698 479.8 L699 481 L697.7 479.6 L699.5 479.5 L701.3 478.7 L703.6 477.8 L703.6 481.3 L704.4 481.5 L705.8 482.1 L706.6 482.9 L708.1 482.7 L710.7 481.3 L712.2 481 L713 480.8 L715 481.7 L716.4 481.6 L717.8 482.9 L717.5 484.5 L716.6 485.6 L717 486.3 L715 488.3 L713.2 490.8 L713.7 491.9 L714.1 492.7 L718 486.8 L717 487.1 L715.3 487.1 L713.7 490.2 L713.6 492.4 L712.1 492.2 L711.6 493.2 L710 492.5 L707.6 491.3 L707.7 493.9 L706.3 495.2 L705.1 494.7 L705.1 494.7 L704.3 493.5 L702.1 492.7 L701.5 494.3 L700.5 494.2 L698.4 494.5 L697.2 495.3 L695.4 495.5 L694.2 496.1 L693.1 496.8 L691.6 497.7 L690 497.2 L689.9 497.8 L687.7 498.3 L686.5 497.4 L685.5 496.9 L683.7 495.6 L683.1 495.3 L681.6 498.7 L680.7 498.9 L678.9 497.6 L677.3 496.3 L675.8 496.7 L675.5 495.4 L673.2 493.1 L672.9 493.8 L671 493.2 L669.6 493.1 L668 492.8 L667.9 492.9 L665.6 494.5 L665 493 L662.9 492.4 L662.1 492.1 L660.8 491.8 L659.8 493.5 L658.7 492.8 L657.5 492.6 L655 495.1 L653.9 496 L652.6 497.3 L651.5 496.6 L650.3 495.3 L649.1 494 L648.2 494.3 L645.9 493.3 L644.7 495 L643.9 495.6 L642.8 494.6 L640.9 491.7 L640.1 489.7 L639.1 488.8 L636.9 488.3 L636.7 488.5 L634.6 489.1 L633.8 489.5 L632.5 492.9 L631 492.9 L629.6 492.8 L628.2 492.1 L627.4 489.6 L625.6 488.9 L624.1 492.6 L622.5 494.7 L621.5 494.9 L620.1 495.3 L619.4 496.3 L618.1 496.5 L616.2 495 L614.9 493.3 L613.5 493.8 L613.4 494.3 L611.1 491.9 L609.5 492.3 L609.5 494.9 L607.9 495.2 L606.5 494.3 L604.4 493.6 L604.3 494 L602.8 494.3 L601.6 494.3 L599.8 494.2 L599 494.5 L596.7 494.6 L596.7 492.7 L594.5 491.2 L593.2 492 L592.8 492.5 L591.2 495.8 L589.9 498 L589 496.5 L587.6 494.6 L585.6 495.2 L585.1 497.1 L582.9 496.3 L581.9 493.3 L579.9 495.1 L579.5 495.7 L578.4 496.4 L576.6 496 L574.9 495.2 L573.3 493.4 L572.9 490.5 L571 490 L569.9 492.2 L568.3 494.1 L566.9 496.2 L566.8 497.1 L564.8 497.5 L563.2 497.4 L562.8 497.9 L561 498.7 L559.7 498.6 L558.8 500.2 L556.8 497.8 L555.1 496.6 L553.9 495.8 L553.3 496 L551.6 495.7 L550.1 495 L549.8 495.3 L548.2 495.2 L546 493.5 L545.1 494.3 L544.6 495.4 L542.6 498.3 L541.9 497.8 L540.2 498.4 L539.5 496.5 L538.1 496.1 L536.4 497 L534.4 497.8 L533.6 499.1 L533 500.8 L531.4 502.3 L530.2 502.3 L528.4 500.6 L527.4 499.3 L525.9 500 L525.3 501.6 L523.9 499.2 L522 497.7 L520.8 497.1 L518.8 495.7 L517.6 496.1 L516.3 497.8 L516.2 497.5 L514.4 496.8 L512.4 495.2 L511 493.2 L509.7 493.7 L509.1 493.1 L508.3 492.4 L506.6 490.4 L505.2 492 L503.6 492.2 L502.9 493 L501.4 494 L499.3 493.1 L497.9 492.6 L497.3 492 L495.9 491.5 L495 491.7 L493.3 490.6 L492.5 489.8 L490.1 490.3 L489.6 491.8 L488 494.2 L487.1 495.3 L485.8 495.2 L484.7 494.1 L482.6 493.4 L481.7 493.9 L480.6 494.7 L478.8 493.5 L478 492 L476.6 492.6 L475.5 494.2 L473.5 494.1 L472.5 497.1 L470.9 495.2 L469.8 494.3 L469.2 497.3 L467.8 498 L464.1 495.6 L465 494.7 L465.1 493.4 L463.9 492 L463.8 490.8 L463.3 488.9 L463.7 488.5 L464.2 486.7 L463.9 486.4 L462.4 484.8 L463.8 483.1 L462.7 481.2 L461.7 480.6 L461.1 478.7 L461.6 477.5 L461.5 475.9 L462.7 474.4 L467 476"/>
<text x="203.70" y="186.25" font-size="13.75" textLength="52.19" lengthAdjust="spacingAndGlyphs">CLOSET</text>
<text x="315.93" y="194.65" font-size="13.75" textLength="67.81" lengthAdjust="spacingAndGlyphs">BEDROOM</text>
<text x="446.79" y="149.25" font-size="13.75" textLength="88.25" lengthAdjust="spacingAndGlyphs">LIVING ROOM</text>
<text x="273.66" y="303.25" font-size="13.75" textLength="74.93" lengthAdjust="spacingAndGlyphs">BATHROOM</text>
<text x="295.17" y="335.05" font-size="13.75" textLength="79.11" lengthAdjust="spacingAndGlyphs">WASHROOM</text>
<text x="258.15" y="351.05" font-size="13.75" textLength="44.79" lengthAdjust="spacingAndGlyphs">TOILET</text>
<text x="456.26" y="345.25" font-size="13.75" textLength="57.86" lengthAdjust="spacingAndGlyphs">KITCHEN</text>
<text x="359.83" y="415.25" font-size="13.75" textLength="71.25" lengthAdjust="spacingAndGlyphs">ENTRANCE</text>
<text x="366.07" y="428.05" font-size="13.75" textLength="32.38" lengthAdjust="spacingAndGlyphs">HALL</text>
<text x="524.6" y="17.7" font-size="13" textLength="7.5" lengthAdjust="spacingAndGlyphs">B</text>
<text x="859.6" y="323.8" font-size="12.7" textLength="8.4" lengthAdjust="spacingAndGlyphs">A</text>
<line class="dim" x1="38.9" y1="80" x2="38.9" y2="388.6"/>
<line class="dim" x1="61.5" y1="80" x2="61.5" y2="388.6"/>
<line class="dim" x1="38.9" y1="80" x2="50.9" y2="80"/>
<circle cx="38.9" cy="80" r="1.3" fill="#222"/>
<line class="dim" x1="38.9" y1="388.6" x2="50.9" y2="388.6"/>
<circle cx="38.9" cy="388.6" r="1.3" fill="#222"/>
<line class="dim" x1="61.5" y1="80" x2="73.9" y2="80"/>
<circle cx="61.5" cy="80" r="1.3" fill="#222"/>
<line class="dim" x1="61.5" y1="224.2" x2="73.9" y2="224.2"/>
<circle cx="61.5" cy="224.2" r="1.3" fill="#222"/>
<line class="dim" x1="61.5" y1="388.6" x2="73.9" y2="388.6"/>
<circle cx="61.5" cy="388.6" r="1.3" fill="#222"/>
<text transform="translate(67.7 139.5) rotate(90)" font-size="14.3" textLength="25.1" lengthAdjust="spacingAndGlyphs">3500</text>
<text transform="translate(45.1 222) rotate(90)" font-size="15.1" textLength="24.8" lengthAdjust="spacingAndGlyphs">7500</text>
<text transform="translate(68.1 293.9) rotate(90)" font-size="14.4" textLength="25" lengthAdjust="spacingAndGlyphs">4000</text>
<line class="dim" x1="254.8" y1="566.6" x2="563.6" y2="566.6"/>
<line class="dim" x1="254.8" y1="588.8" x2="563.6" y2="588.8"/>
<line class="dim" x1="254.8" y1="553.9" x2="254.8" y2="566.6"/>
<circle cx="254.8" cy="566.6" r="1.3" fill="#222"/>
<line class="dim" x1="419.9" y1="553.9" x2="419.9" y2="566.6"/>
<circle cx="419.9" cy="566.6" r="1.3" fill="#222"/>
<line class="dim" x1="563.6" y1="553.9" x2="563.6" y2="566.6"/>
<circle cx="563.6" cy="566.6" r="1.3" fill="#222"/>
<line class="dim" x1="254.8" y1="577.1" x2="254.8" y2="588.8"/>
<circle cx="254.8" cy="588.8" r="1.3" fill="#222"/>
<line class="dim" x1="563.6" y1="577.1" x2="563.6" y2="588.8"/>
<circle cx="563.6" cy="588.8" r="1.3" fill="#222"/>
<text x="325" y="560.1" font-size="13.2" textLength="25.4" lengthAdjust="spacingAndGlyphs">4000</text>
<text x="479" y="560.1" font-size="13.2" textLength="26" lengthAdjust="spacingAndGlyphs">3500</text>
<text x="397" y="582.7" font-size="13.2" textLength="25.4" lengthAdjust="spacingAndGlyphs">7500</text>
<path class="sec" d="M518 28.3 L538.6 28.3 L538.6 48"/>
<path class="sec" d="M524 24.8 L518 28.3 L524 31.8"/>
<path class="sec" d="M518.9 518.7 L538.7 518.7 L538.7 501"/>
<path class="sec" d="M524.9 515.2 L518.9 518.7 L524.9 522.2"/>
<path class="sec" d="M826.9 329.5 L847.6 329.5 L847.6 309.3"/>
<path class="sec" d="M844.1 315.3 L847.6 309.3 L851.1 315.3"/>
<path class="sec" d="M111.4 329.3 L90.3 329.3 L90.3 309"/>
<path class="sec" d="M86.8 315 L90.3 309 L93.8 315"/>
<circle cx="62.2" cy="543.6" r="14.4" fill="none" stroke="#333" stroke-width="1.1"/>
<path d="M48 541.7 L62.6 543.2 L62.6 544.2 L48 542.7Z" fill="#333"/>
<text x="38.1" y="546.4" font-size="14.2" font-weight="bold" textLength="5.9" lengthAdjust="spacingAndGlyphs">N</text>
<rect x="71.3" y="957.7" width="41.7" height="4.1" fill="#1a1a1a"/>
<rect x="113" y="961.8" width="82.3" height="4.4" fill="#9a9a9a"/>
<rect x="195.3" y="957.7" width="82.5" height="4.1" fill="#9a9a9a"/>
<text x="111.3" y="980.6" font-size="11.6" text-anchor="middle">1</text>
<text x="195.3" y="980.6" font-size="11.6" text-anchor="middle">3</text>
<text x="278.2" y="980.6" font-size="11.6" text-anchor="middle">5</text>
<text x="284.7" y="980.6" font-size="11.6" textLength="9.9" lengthAdjust="spacingAndGlyphs">m</text>
<text x="939.6" y="973.6" font-size="21.5" textLength="54.6" lengthAdjust="spacingAndGlyphs">PLAN</text>
<text x="1016.4" y="973.6" font-size="21.5" textLength="51.8" lengthAdjust="spacingAndGlyphs">1/150</text>
</svg></body></html>
